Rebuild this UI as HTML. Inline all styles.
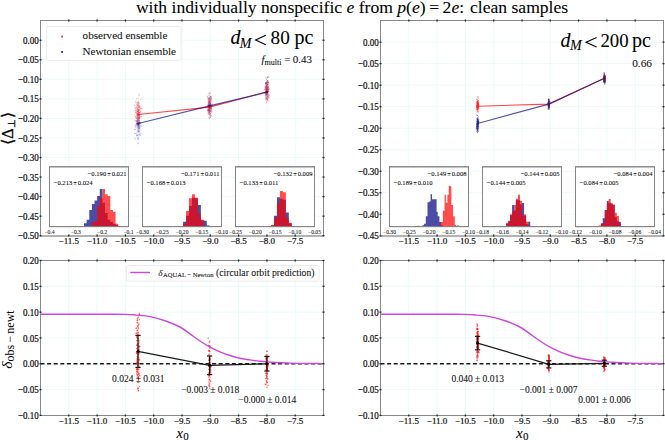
<!DOCTYPE html>
<html><head><meta charset="utf-8"><title>plot</title>
<style>html,body{margin:0;padding:0;background:#fff;overflow:hidden}svg{display:block} text{stroke:#111;stroke-width:0.08px} .tl text{stroke-width:0.22px} .nostroke, .nostroke text{stroke-width:0}</style>
</head><body>
<svg width="665" height="440" viewBox="0 0 665 440"><rect x="0" y="0" width="665" height="440" fill="#fff"/>
<text x="135.9" y="13.1" font-family="'Liberation Serif', serif" font-size="17.6" fill="#000">with individually nonspecific <tspan font-style="italic">e</tspan> from <tspan font-style="italic">p</tspan>(<tspan font-style="italic">e</tspan>)<tspan dx="3.5">=</tspan><tspan dx="3.5">2</tspan><tspan font-style="italic">e</tspan>:<tspan dx="1.5"> clean samples</tspan></text>
<g stroke="#ecfafa" stroke-width="1"><line x1="68.80" y1="20.5" x2="68.80" y2="235.5"/><line x1="97.10" y1="20.5" x2="97.10" y2="235.5"/><line x1="125.40" y1="20.5" x2="125.40" y2="235.5"/><line x1="153.70" y1="20.5" x2="153.70" y2="235.5"/><line x1="182.00" y1="20.5" x2="182.00" y2="235.5"/><line x1="210.30" y1="20.5" x2="210.30" y2="235.5"/><line x1="238.60" y1="20.5" x2="238.60" y2="235.5"/><line x1="266.90" y1="20.5" x2="266.90" y2="235.5"/><line x1="295.20" y1="20.5" x2="295.20" y2="235.5"/><line x1="40.5" y1="40.25" x2="323.5" y2="40.25"/><line x1="40.5" y1="59.79" x2="323.5" y2="59.79"/><line x1="40.5" y1="79.34" x2="323.5" y2="79.34"/><line x1="40.5" y1="98.88" x2="323.5" y2="98.88"/><line x1="40.5" y1="118.43" x2="323.5" y2="118.43"/><line x1="40.5" y1="137.97" x2="323.5" y2="137.97"/><line x1="40.5" y1="157.52" x2="323.5" y2="157.52"/><line x1="40.5" y1="177.06" x2="323.5" y2="177.06"/><line x1="40.5" y1="196.61" x2="323.5" y2="196.61"/><line x1="40.5" y1="216.15" x2="323.5" y2="216.15"/><line x1="40.5" y1="235.70" x2="323.5" y2="235.70"/></g>
<g stroke="#ecfafa" stroke-width="1"><line x1="408.80" y1="20.5" x2="408.80" y2="235.5"/><line x1="437.10" y1="20.5" x2="437.10" y2="235.5"/><line x1="465.40" y1="20.5" x2="465.40" y2="235.5"/><line x1="493.70" y1="20.5" x2="493.70" y2="235.5"/><line x1="522.00" y1="20.5" x2="522.00" y2="235.5"/><line x1="550.30" y1="20.5" x2="550.30" y2="235.5"/><line x1="578.60" y1="20.5" x2="578.60" y2="235.5"/><line x1="606.90" y1="20.5" x2="606.90" y2="235.5"/><line x1="635.20" y1="20.5" x2="635.20" y2="235.5"/><line x1="380.5" y1="42.12" x2="663.5" y2="42.12"/><line x1="380.5" y1="63.64" x2="663.5" y2="63.64"/><line x1="380.5" y1="85.16" x2="663.5" y2="85.16"/><line x1="380.5" y1="106.68" x2="663.5" y2="106.68"/><line x1="380.5" y1="128.20" x2="663.5" y2="128.20"/><line x1="380.5" y1="149.72" x2="663.5" y2="149.72"/><line x1="380.5" y1="171.24" x2="663.5" y2="171.24"/><line x1="380.5" y1="192.76" x2="663.5" y2="192.76"/><line x1="380.5" y1="214.28" x2="663.5" y2="214.28"/><line x1="380.5" y1="235.80" x2="663.5" y2="235.80"/></g>
<g stroke="#ecfafa" stroke-width="1"><line x1="68.80" y1="260.5" x2="68.80" y2="415.5"/><line x1="97.10" y1="260.5" x2="97.10" y2="415.5"/><line x1="125.40" y1="260.5" x2="125.40" y2="415.5"/><line x1="153.70" y1="260.5" x2="153.70" y2="415.5"/><line x1="182.00" y1="260.5" x2="182.00" y2="415.5"/><line x1="210.30" y1="260.5" x2="210.30" y2="415.5"/><line x1="238.60" y1="260.5" x2="238.60" y2="415.5"/><line x1="266.90" y1="260.5" x2="266.90" y2="415.5"/><line x1="295.20" y1="260.5" x2="295.20" y2="415.5"/><line x1="40.5" y1="260.50" x2="323.5" y2="260.50"/><line x1="40.5" y1="286.32" x2="323.5" y2="286.32"/><line x1="40.5" y1="312.13" x2="323.5" y2="312.13"/><line x1="40.5" y1="337.95" x2="323.5" y2="337.95"/><line x1="40.5" y1="363.77" x2="323.5" y2="363.77"/><line x1="40.5" y1="389.58" x2="323.5" y2="389.58"/><line x1="40.5" y1="415.40" x2="323.5" y2="415.40"/></g>
<g stroke="#ecfafa" stroke-width="1"><line x1="408.80" y1="260.5" x2="408.80" y2="415.5"/><line x1="437.10" y1="260.5" x2="437.10" y2="415.5"/><line x1="465.40" y1="260.5" x2="465.40" y2="415.5"/><line x1="493.70" y1="260.5" x2="493.70" y2="415.5"/><line x1="522.00" y1="260.5" x2="522.00" y2="415.5"/><line x1="550.30" y1="260.5" x2="550.30" y2="415.5"/><line x1="578.60" y1="260.5" x2="578.60" y2="415.5"/><line x1="606.90" y1="260.5" x2="606.90" y2="415.5"/><line x1="635.20" y1="260.5" x2="635.20" y2="415.5"/><line x1="380.5" y1="260.50" x2="663.5" y2="260.50"/><line x1="380.5" y1="286.32" x2="663.5" y2="286.32"/><line x1="380.5" y1="312.13" x2="663.5" y2="312.13"/><line x1="380.5" y1="337.95" x2="663.5" y2="337.95"/><line x1="380.5" y1="363.77" x2="663.5" y2="363.77"/><line x1="380.5" y1="389.58" x2="663.5" y2="389.58"/><line x1="380.5" y1="415.40" x2="663.5" y2="415.40"/></g>
<rect x="46.5" y="26.5" width="134.5" height="33.8" fill="#fff" fill-opacity="0.9" stroke="#ececec" stroke-width="1" rx="1.5"/>
<rect x="61.2" y="35.6" width="1.8" height="1.8" fill="#ff2020"/>
<rect x="61.2" y="51.0" width="1.8" height="1.8" fill="#2020a0"/>
<g font-family="'Liberation Serif', serif" font-size="11.1" fill="#111"><text x="82.6" y="39.4">observed ensemble</text><text x="82.6" y="54.9">Newtonian ensemble</text></g>
<text x="230.40" y="44.40" font-family="'Liberation Serif', serif" font-size="20" font-style="italic" fill="#000">d</text>
<text x="239.80" y="47.60" font-family="'Liberation Serif', serif" font-size="14" font-style="italic" fill="#000">M</text>
<path d="M265.80,35.20 L255.60,40.00 L265.80,44.80" fill="none" stroke="#000" stroke-width="1.1" stroke-linejoin="miter"/>
<text x="270.60" y="44.40" font-family="'Liberation Serif', serif" font-size="19.2" fill="#000">80</text>
<text x="294.60" y="44.40" font-family="'Liberation Serif', serif" font-size="20" fill="#000">pc</text>
<text x="312" y="63.2" text-anchor="end" font-family="'Liberation Serif', serif" font-size="11" fill="#111"><tspan font-style="italic">f</tspan><tspan font-size="8.1" dy="2.2">multi</tspan><tspan dy="-2.2" dx="2.6">=</tspan><tspan dx="2.4">0.43</tspan></text>
<text x="560.60" y="46.60" font-family="'Liberation Serif', serif" font-size="20" font-style="italic" fill="#000">d</text>
<text x="570.00" y="49.80" font-family="'Liberation Serif', serif" font-size="14" font-style="italic" fill="#000">M</text>
<path d="M596.60,37.40 L586.00,42.20 L596.60,47.00" fill="none" stroke="#000" stroke-width="1.1" stroke-linejoin="miter"/>
<text x="600.40" y="46.60" font-family="'Liberation Serif', serif" font-size="18.8" fill="#000">200</text>
<text x="632.00" y="46.60" font-family="'Liberation Serif', serif" font-size="20" fill="#000">pc</text>
<text x="652" y="66.5" text-anchor="end" font-family="'Liberation Serif', serif" font-size="11.3" fill="#111">0.66</text>
<g fill="#2a2a9a" fill-opacity="0.3"><rect x="138.5" y="119.7" width="1.0" height="1.0"/><rect x="137.2" y="120.0" width="1.0" height="1.0"/><rect x="137.4" y="113.9" width="1.0" height="1.0"/><rect x="138.3" y="131.4" width="1.0" height="1.0"/><rect x="138.1" y="130.8" width="1.0" height="1.0"/><rect x="138.0" y="125.3" width="1.0" height="1.0"/><rect x="139.0" y="107.6" width="1.0" height="1.0"/><rect x="138.4" y="126.2" width="1.0" height="1.0"/><rect x="135.1" y="107.4" width="1.0" height="1.0"/><rect x="137.0" y="114.3" width="1.0" height="1.0"/><rect x="137.6" y="124.5" width="1.0" height="1.0"/><rect x="136.7" y="126.4" width="1.0" height="1.0"/><rect x="138.3" y="124.5" width="1.0" height="1.0"/><rect x="140.3" y="116.2" width="1.0" height="1.0"/><rect x="139.5" y="126.7" width="1.0" height="1.0"/><rect x="136.6" y="116.6" width="1.0" height="1.0"/><rect x="137.5" y="119.0" width="1.0" height="1.0"/><rect x="138.1" y="127.3" width="1.0" height="1.0"/><rect x="136.3" y="118.1" width="1.0" height="1.0"/><rect x="139.5" y="117.4" width="1.0" height="1.0"/><rect x="138.1" y="115.0" width="1.0" height="1.0"/><rect x="135.5" y="125.6" width="1.0" height="1.0"/><rect x="139.7" y="122.3" width="1.0" height="1.0"/><rect x="137.2" y="104.7" width="1.0" height="1.0"/><rect x="136.5" y="121.0" width="1.0" height="1.0"/><rect x="137.6" y="126.2" width="1.0" height="1.0"/><rect x="138.9" y="109.4" width="1.0" height="1.0"/><rect x="139.1" y="127.6" width="1.0" height="1.0"/><rect x="138.2" y="134.2" width="1.0" height="1.0"/><rect x="135.8" y="122.9" width="1.0" height="1.0"/><rect x="136.8" y="127.2" width="1.0" height="1.0"/><rect x="135.8" y="118.0" width="1.0" height="1.0"/><rect x="136.9" y="113.6" width="1.0" height="1.0"/><rect x="134.7" y="132.9" width="1.0" height="1.0"/><rect x="138.1" y="109.4" width="1.0" height="1.0"/><rect x="138.6" y="134.3" width="1.0" height="1.0"/><rect x="133.9" y="105.6" width="1.0" height="1.0"/><rect x="136.6" y="125.0" width="1.0" height="1.0"/><rect x="139.2" y="112.3" width="1.0" height="1.0"/><rect x="137.9" y="131.3" width="1.0" height="1.0"/><rect x="138.4" y="124.0" width="1.0" height="1.0"/><rect x="138.6" y="135.5" width="1.0" height="1.0"/><rect x="138.5" y="126.3" width="1.0" height="1.0"/><rect x="139.6" y="108.5" width="1.0" height="1.0"/><rect x="138.5" y="130.1" width="1.0" height="1.0"/><rect x="136.7" y="105.0" width="1.0" height="1.0"/><rect x="135.0" y="129.1" width="1.0" height="1.0"/><rect x="139.2" y="120.3" width="1.0" height="1.0"/><rect x="140.1" y="110.7" width="1.0" height="1.0"/><rect x="137.5" y="126.6" width="1.0" height="1.0"/><rect x="138.7" y="124.7" width="1.0" height="1.0"/><rect x="139.4" y="122.9" width="1.0" height="1.0"/><rect x="137.1" y="116.2" width="1.0" height="1.0"/><rect x="137.7" y="130.8" width="1.0" height="1.0"/><rect x="139.1" y="114.4" width="1.0" height="1.0"/><rect x="137.0" y="134.4" width="1.0" height="1.0"/><rect x="137.5" y="110.1" width="1.0" height="1.0"/><rect x="137.3" y="120.6" width="1.0" height="1.0"/><rect x="136.2" y="133.9" width="1.0" height="1.0"/><rect x="135.8" y="132.7" width="1.0" height="1.0"/><rect x="138.6" y="115.2" width="1.0" height="1.0"/><rect x="139.0" y="131.6" width="1.0" height="1.0"/><rect x="137.9" y="124.9" width="1.0" height="1.0"/><rect x="138.6" y="123.2" width="1.0" height="1.0"/><rect x="138.1" y="120.4" width="1.0" height="1.0"/><rect x="137.7" y="126.8" width="1.0" height="1.0"/><rect x="138.5" y="128.4" width="1.0" height="1.0"/><rect x="138.2" y="139.1" width="1.0" height="1.0"/><rect x="137.1" y="118.2" width="1.0" height="1.0"/><rect x="139.1" y="121.8" width="1.0" height="1.0"/><rect x="138.3" y="119.0" width="1.0" height="1.0"/><rect x="133.9" y="137.6" width="1.0" height="1.0"/><rect x="138.1" y="112.3" width="1.0" height="1.0"/><rect x="138.1" y="125.3" width="1.0" height="1.0"/><rect x="138.7" y="118.2" width="1.0" height="1.0"/><rect x="136.9" y="124.3" width="1.0" height="1.0"/><rect x="138.2" y="142.7" width="1.0" height="1.0"/><rect x="137.6" y="117.2" width="1.0" height="1.0"/><rect x="137.6" y="120.0" width="1.0" height="1.0"/><rect x="137.0" y="137.5" width="1.0" height="1.0"/><rect x="136.6" y="119.7" width="1.0" height="1.0"/><rect x="138.4" y="118.4" width="1.0" height="1.0"/><rect x="135.9" y="123.4" width="1.0" height="1.0"/><rect x="136.4" y="123.3" width="1.0" height="1.0"/><rect x="140.4" y="124.5" width="1.0" height="1.0"/><rect x="137.4" y="138.6" width="1.0" height="1.0"/><rect x="135.1" y="127.4" width="1.0" height="1.0"/><rect x="136.6" y="121.5" width="1.0" height="1.0"/><rect x="137.5" y="113.9" width="1.0" height="1.0"/><rect x="137.8" y="123.9" width="1.0" height="1.0"/><rect x="138.8" y="120.7" width="1.0" height="1.0"/><rect x="134.2" y="114.3" width="1.0" height="1.0"/><rect x="138.8" y="102.9" width="1.0" height="1.0"/><rect x="137.4" y="143.2" width="1.0" height="1.0"/><rect x="138.5" y="117.9" width="1.0" height="1.0"/><rect x="138.7" y="122.7" width="1.0" height="1.0"/><rect x="139.7" y="125.3" width="1.0" height="1.0"/><rect x="136.0" y="135.2" width="1.0" height="1.0"/><rect x="138.0" y="109.5" width="1.0" height="1.0"/><rect x="137.1" y="123.0" width="1.0" height="1.0"/><rect x="134.9" y="111.9" width="1.0" height="1.0"/><rect x="135.3" y="124.8" width="1.0" height="1.0"/><rect x="137.8" y="116.6" width="1.0" height="1.0"/><rect x="136.4" y="123.8" width="1.0" height="1.0"/><rect x="133.9" y="129.1" width="1.0" height="1.0"/><rect x="138.6" y="115.0" width="1.0" height="1.0"/><rect x="136.9" y="134.9" width="1.0" height="1.0"/><rect x="138.4" y="124.0" width="1.0" height="1.0"/><rect x="140.3" y="132.7" width="1.0" height="1.0"/><rect x="136.9" y="123.6" width="1.0" height="1.0"/><rect x="134.0" y="133.0" width="1.0" height="1.0"/><rect x="136.5" y="117.5" width="1.0" height="1.0"/><rect x="137.5" y="117.6" width="1.0" height="1.0"/><rect x="138.1" y="128.3" width="1.0" height="1.0"/><rect x="137.1" y="102.2" width="1.0" height="1.0"/><rect x="138.9" y="106.0" width="1.0" height="1.0"/><rect x="136.8" y="124.6" width="1.0" height="1.0"/><rect x="138.9" y="121.8" width="1.0" height="1.0"/><rect x="139.7" y="122.6" width="1.0" height="1.0"/><rect x="139.3" y="121.4" width="1.0" height="1.0"/><rect x="140.1" y="134.7" width="1.0" height="1.0"/><rect x="139.0" y="116.1" width="1.0" height="1.0"/><rect x="136.1" y="105.8" width="1.0" height="1.0"/><rect x="139.3" y="105.1" width="1.0" height="1.0"/><rect x="137.7" y="111.4" width="1.0" height="1.0"/><rect x="137.7" y="120.3" width="1.0" height="1.0"/><rect x="138.1" y="116.8" width="1.0" height="1.0"/><rect x="137.8" y="137.2" width="1.0" height="1.0"/><rect x="139.2" y="126.4" width="1.0" height="1.0"/><rect x="135.8" y="120.2" width="1.0" height="1.0"/><rect x="139.3" y="117.1" width="1.0" height="1.0"/><rect x="136.8" y="107.8" width="1.0" height="1.0"/><rect x="138.9" y="130.5" width="1.0" height="1.0"/><rect x="138.9" y="122.0" width="1.0" height="1.0"/><rect x="135.9" y="123.3" width="1.0" height="1.0"/><rect x="136.7" y="108.5" width="1.0" height="1.0"/><rect x="136.9" y="129.8" width="1.0" height="1.0"/><rect x="136.5" y="114.2" width="1.0" height="1.0"/><rect x="137.5" y="108.8" width="1.0" height="1.0"/><rect x="138.2" y="111.8" width="1.0" height="1.0"/><rect x="138.2" y="101.7" width="1.0" height="1.0"/><rect x="134.8" y="116.4" width="1.0" height="1.0"/><rect x="137.3" y="128.1" width="1.0" height="1.0"/><rect x="136.4" y="102.8" width="1.0" height="1.0"/><rect x="137.0" y="124.4" width="1.0" height="1.0"/><rect x="138.8" y="128.6" width="1.0" height="1.0"/><rect x="138.2" y="127.6" width="1.0" height="1.0"/><rect x="138.7" y="133.3" width="1.0" height="1.0"/><rect x="134.6" y="125.8" width="1.0" height="1.0"/><rect x="139.7" y="129.6" width="1.0" height="1.0"/><rect x="137.0" y="119.4" width="1.0" height="1.0"/><rect x="135.1" y="138.5" width="1.0" height="1.0"/><rect x="141.3" y="125.9" width="1.0" height="1.0"/><rect x="138.7" y="114.0" width="1.0" height="1.0"/><rect x="137.5" y="138.0" width="1.0" height="1.0"/><rect x="139.1" y="126.7" width="1.0" height="1.0"/><rect x="137.6" y="114.1" width="1.0" height="1.0"/><rect x="138.9" y="124.4" width="1.0" height="1.0"/><rect x="137.4" y="121.6" width="1.0" height="1.0"/><rect x="137.2" y="113.2" width="1.0" height="1.0"/><rect x="137.9" y="129.5" width="1.0" height="1.0"/><rect x="136.4" y="114.6" width="1.0" height="1.0"/><rect x="139.4" y="134.2" width="1.0" height="1.0"/><rect x="137.6" y="125.9" width="1.0" height="1.0"/><rect x="138.1" y="121.7" width="1.0" height="1.0"/><rect x="136.5" y="123.1" width="1.0" height="1.0"/><rect x="138.8" y="128.1" width="1.0" height="1.0"/><rect x="136.2" y="135.3" width="1.0" height="1.0"/><rect x="138.6" y="121.6" width="1.0" height="1.0"/><rect x="136.8" y="131.6" width="1.0" height="1.0"/></g>
<g fill="#ff3030" fill-opacity="0.3"><rect x="137.1" y="110.9" width="1.0" height="1.0"/><rect x="138.5" y="122.5" width="1.0" height="1.0"/><rect x="138.0" y="109.3" width="1.0" height="1.0"/><rect x="136.9" y="121.6" width="1.0" height="1.0"/><rect x="137.1" y="112.8" width="1.0" height="1.0"/><rect x="137.3" y="113.6" width="1.0" height="1.0"/><rect x="136.4" y="117.2" width="1.0" height="1.0"/><rect x="139.3" y="106.8" width="1.0" height="1.0"/><rect x="137.2" y="117.1" width="1.0" height="1.0"/><rect x="139.0" y="118.1" width="1.0" height="1.0"/><rect x="138.4" y="112.1" width="1.0" height="1.0"/><rect x="138.1" y="113.1" width="1.0" height="1.0"/><rect x="138.9" y="113.8" width="1.0" height="1.0"/><rect x="140.1" y="107.6" width="1.0" height="1.0"/><rect x="139.4" y="109.7" width="1.0" height="1.0"/><rect x="138.9" y="114.9" width="1.0" height="1.0"/><rect x="137.8" y="117.5" width="1.0" height="1.0"/><rect x="137.9" y="123.9" width="1.0" height="1.0"/><rect x="137.4" y="107.3" width="1.0" height="1.0"/><rect x="138.3" y="94.6" width="1.0" height="1.0"/><rect x="139.4" y="122.7" width="1.0" height="1.0"/><rect x="138.4" y="103.9" width="1.0" height="1.0"/><rect x="136.4" y="115.6" width="1.0" height="1.0"/><rect x="137.6" y="100.5" width="1.0" height="1.0"/><rect x="137.5" y="118.6" width="1.0" height="1.0"/><rect x="135.7" y="117.6" width="1.0" height="1.0"/><rect x="136.5" y="106.9" width="1.0" height="1.0"/><rect x="138.1" y="110.4" width="1.0" height="1.0"/><rect x="138.1" y="113.8" width="1.0" height="1.0"/><rect x="136.5" y="111.5" width="1.0" height="1.0"/><rect x="138.2" y="113.5" width="1.0" height="1.0"/><rect x="135.2" y="120.0" width="1.0" height="1.0"/><rect x="136.6" y="108.9" width="1.0" height="1.0"/><rect x="138.9" y="112.2" width="1.0" height="1.0"/><rect x="137.9" y="107.6" width="1.0" height="1.0"/><rect x="138.1" y="106.4" width="1.0" height="1.0"/><rect x="136.7" y="113.6" width="1.0" height="1.0"/><rect x="141.6" y="112.5" width="1.0" height="1.0"/><rect x="139.0" y="109.3" width="1.0" height="1.0"/><rect x="137.7" y="119.2" width="1.0" height="1.0"/><rect x="138.0" y="103.1" width="1.0" height="1.0"/><rect x="139.4" y="114.5" width="1.0" height="1.0"/><rect x="137.7" y="117.7" width="1.0" height="1.0"/><rect x="138.5" y="118.2" width="1.0" height="1.0"/><rect x="137.8" y="113.4" width="1.0" height="1.0"/><rect x="138.7" y="110.0" width="1.0" height="1.0"/><rect x="136.8" y="104.0" width="1.0" height="1.0"/><rect x="135.5" y="111.9" width="1.0" height="1.0"/><rect x="134.7" y="108.6" width="1.0" height="1.0"/><rect x="138.6" y="106.8" width="1.0" height="1.0"/><rect x="137.6" y="116.1" width="1.0" height="1.0"/><rect x="135.6" y="110.1" width="1.0" height="1.0"/><rect x="138.5" y="125.5" width="1.0" height="1.0"/><rect x="136.4" y="120.0" width="1.0" height="1.0"/><rect x="135.0" y="110.5" width="1.0" height="1.0"/><rect x="139.1" y="117.7" width="1.0" height="1.0"/><rect x="137.6" y="97.7" width="1.0" height="1.0"/><rect x="135.1" y="116.6" width="1.0" height="1.0"/><rect x="136.1" y="98.2" width="1.0" height="1.0"/><rect x="135.6" y="107.2" width="1.0" height="1.0"/><rect x="138.1" y="112.1" width="1.0" height="1.0"/><rect x="138.8" y="116.6" width="1.0" height="1.0"/><rect x="139.4" y="123.1" width="1.0" height="1.0"/><rect x="136.9" y="102.1" width="1.0" height="1.0"/><rect x="136.1" y="103.9" width="1.0" height="1.0"/><rect x="137.7" y="111.2" width="1.0" height="1.0"/><rect x="135.3" y="115.5" width="1.0" height="1.0"/><rect x="137.7" y="102.6" width="1.0" height="1.0"/><rect x="137.2" y="110.4" width="1.0" height="1.0"/><rect x="136.6" y="111.4" width="1.0" height="1.0"/><rect x="138.2" y="117.1" width="1.0" height="1.0"/><rect x="136.7" y="111.2" width="1.0" height="1.0"/><rect x="133.6" y="110.6" width="1.0" height="1.0"/><rect x="137.8" y="104.5" width="1.0" height="1.0"/><rect x="138.0" y="100.6" width="1.0" height="1.0"/><rect x="135.6" y="112.9" width="1.0" height="1.0"/><rect x="137.2" y="110.0" width="1.0" height="1.0"/><rect x="138.6" y="115.3" width="1.0" height="1.0"/><rect x="136.4" y="111.6" width="1.0" height="1.0"/><rect x="137.6" y="110.8" width="1.0" height="1.0"/><rect x="138.1" y="117.3" width="1.0" height="1.0"/><rect x="135.7" y="106.5" width="1.0" height="1.0"/><rect x="136.6" y="109.1" width="1.0" height="1.0"/><rect x="137.5" y="103.6" width="1.0" height="1.0"/><rect x="137.9" y="108.2" width="1.0" height="1.0"/><rect x="137.1" y="115.8" width="1.0" height="1.0"/><rect x="137.2" y="129.2" width="1.0" height="1.0"/><rect x="137.9" y="120.1" width="1.0" height="1.0"/><rect x="134.1" y="120.2" width="1.0" height="1.0"/><rect x="138.1" y="106.2" width="1.0" height="1.0"/><rect x="141.2" y="116.3" width="1.0" height="1.0"/><rect x="139.6" y="114.3" width="1.0" height="1.0"/><rect x="139.1" y="117.6" width="1.0" height="1.0"/><rect x="137.5" y="115.7" width="1.0" height="1.0"/><rect x="136.1" y="115.6" width="1.0" height="1.0"/><rect x="136.2" y="120.7" width="1.0" height="1.0"/><rect x="140.9" y="113.7" width="1.0" height="1.0"/><rect x="137.7" y="110.2" width="1.0" height="1.0"/><rect x="137.7" y="120.5" width="1.0" height="1.0"/><rect x="138.1" y="105.8" width="1.0" height="1.0"/><rect x="138.8" y="116.2" width="1.0" height="1.0"/><rect x="140.3" y="106.1" width="1.0" height="1.0"/><rect x="137.7" y="124.3" width="1.0" height="1.0"/><rect x="137.1" y="113.9" width="1.0" height="1.0"/><rect x="136.6" y="122.4" width="1.0" height="1.0"/><rect x="137.0" y="116.9" width="1.0" height="1.0"/><rect x="138.8" y="106.7" width="1.0" height="1.0"/><rect x="137.7" y="121.8" width="1.0" height="1.0"/><rect x="138.9" y="106.8" width="1.0" height="1.0"/><rect x="138.2" y="111.5" width="1.0" height="1.0"/><rect x="139.4" y="123.2" width="1.0" height="1.0"/><rect x="141.1" y="108.0" width="1.0" height="1.0"/><rect x="138.9" y="111.9" width="1.0" height="1.0"/><rect x="137.6" y="107.0" width="1.0" height="1.0"/><rect x="140.4" y="98.8" width="1.0" height="1.0"/><rect x="135.9" y="122.0" width="1.0" height="1.0"/><rect x="135.3" y="100.6" width="1.0" height="1.0"/><rect x="137.0" y="120.6" width="1.0" height="1.0"/><rect x="137.2" y="111.4" width="1.0" height="1.0"/><rect x="136.1" y="110.9" width="1.0" height="1.0"/><rect x="135.5" y="112.0" width="1.0" height="1.0"/><rect x="138.2" y="111.3" width="1.0" height="1.0"/><rect x="137.4" y="115.3" width="1.0" height="1.0"/><rect x="137.9" y="105.1" width="1.0" height="1.0"/><rect x="140.0" y="108.2" width="1.0" height="1.0"/><rect x="137.5" y="117.6" width="1.0" height="1.0"/><rect x="136.6" y="108.3" width="1.0" height="1.0"/><rect x="137.2" y="104.9" width="1.0" height="1.0"/><rect x="138.5" y="114.0" width="1.0" height="1.0"/><rect x="140.8" y="116.1" width="1.0" height="1.0"/><rect x="137.7" y="106.6" width="1.0" height="1.0"/><rect x="134.9" y="110.0" width="1.0" height="1.0"/><rect x="138.5" y="115.0" width="1.0" height="1.0"/><rect x="138.4" y="117.6" width="1.0" height="1.0"/><rect x="138.3" y="116.5" width="1.0" height="1.0"/><rect x="139.6" y="111.3" width="1.0" height="1.0"/><rect x="136.1" y="121.3" width="1.0" height="1.0"/><rect x="138.5" y="105.3" width="1.0" height="1.0"/><rect x="137.5" y="104.7" width="1.0" height="1.0"/><rect x="138.2" y="110.4" width="1.0" height="1.0"/><rect x="141.6" y="108.5" width="1.0" height="1.0"/><rect x="139.0" y="118.1" width="1.0" height="1.0"/><rect x="135.5" y="101.6" width="1.0" height="1.0"/><rect x="138.9" y="113.1" width="1.0" height="1.0"/><rect x="139.2" y="111.9" width="1.0" height="1.0"/><rect x="138.9" y="94.4" width="1.0" height="1.0"/><rect x="135.2" y="120.7" width="1.0" height="1.0"/><rect x="137.8" y="113.7" width="1.0" height="1.0"/><rect x="134.6" y="107.9" width="1.0" height="1.0"/><rect x="138.0" y="102.1" width="1.0" height="1.0"/><rect x="137.7" y="119.3" width="1.0" height="1.0"/><rect x="136.5" y="124.3" width="1.0" height="1.0"/><rect x="134.5" y="124.1" width="1.0" height="1.0"/><rect x="138.4" y="111.9" width="1.0" height="1.0"/><rect x="139.2" y="117.0" width="1.0" height="1.0"/><rect x="134.4" y="104.5" width="1.0" height="1.0"/><rect x="135.6" y="109.9" width="1.0" height="1.0"/><rect x="136.0" y="112.6" width="1.0" height="1.0"/><rect x="137.6" y="109.8" width="1.0" height="1.0"/><rect x="136.6" y="112.9" width="1.0" height="1.0"/><rect x="136.7" y="121.3" width="1.0" height="1.0"/><rect x="138.4" y="110.6" width="1.0" height="1.0"/><rect x="139.8" y="111.7" width="1.0" height="1.0"/><rect x="137.0" y="110.7" width="1.0" height="1.0"/><rect x="138.5" y="120.1" width="1.0" height="1.0"/><rect x="137.0" y="105.4" width="1.0" height="1.0"/><rect x="139.7" y="113.5" width="1.0" height="1.0"/><rect x="137.8" y="118.2" width="1.0" height="1.0"/><rect x="138.6" y="93.6" width="1.0" height="1.0"/><rect x="135.2" y="102.3" width="1.0" height="1.0"/></g>
<g fill="#2a2a9a" fill-opacity="0.3"><rect x="209.1" y="101.5" width="1.0" height="1.0"/><rect x="211.5" y="105.7" width="1.0" height="1.0"/><rect x="208.2" y="104.1" width="1.0" height="1.0"/><rect x="209.2" y="111.8" width="1.0" height="1.0"/><rect x="208.1" y="102.8" width="1.0" height="1.0"/><rect x="210.5" y="105.1" width="1.0" height="1.0"/><rect x="208.7" y="108.9" width="1.0" height="1.0"/><rect x="209.2" y="110.3" width="1.0" height="1.0"/><rect x="209.7" y="98.2" width="1.0" height="1.0"/><rect x="210.7" y="108.6" width="1.0" height="1.0"/><rect x="207.8" y="105.0" width="1.0" height="1.0"/><rect x="211.5" y="109.5" width="1.0" height="1.0"/><rect x="210.7" y="101.6" width="1.0" height="1.0"/><rect x="209.7" y="105.9" width="1.0" height="1.0"/><rect x="208.2" y="105.8" width="1.0" height="1.0"/><rect x="208.7" y="111.6" width="1.0" height="1.0"/><rect x="209.7" y="106.9" width="1.0" height="1.0"/><rect x="209.7" y="98.4" width="1.0" height="1.0"/><rect x="208.8" y="108.4" width="1.0" height="1.0"/><rect x="209.4" y="102.5" width="1.0" height="1.0"/><rect x="208.9" y="108.4" width="1.0" height="1.0"/><rect x="209.1" y="107.3" width="1.0" height="1.0"/><rect x="210.3" y="96.3" width="1.0" height="1.0"/><rect x="207.9" y="112.1" width="1.0" height="1.0"/><rect x="209.0" y="118.1" width="1.0" height="1.0"/><rect x="209.6" y="103.8" width="1.0" height="1.0"/><rect x="208.4" y="113.8" width="1.0" height="1.0"/><rect x="209.3" y="113.4" width="1.0" height="1.0"/><rect x="209.7" y="101.6" width="1.0" height="1.0"/><rect x="209.5" y="103.8" width="1.0" height="1.0"/><rect x="209.0" y="109.9" width="1.0" height="1.0"/><rect x="211.0" y="97.3" width="1.0" height="1.0"/><rect x="210.8" y="115.5" width="1.0" height="1.0"/><rect x="209.9" y="106.8" width="1.0" height="1.0"/><rect x="207.3" y="109.9" width="1.0" height="1.0"/><rect x="209.1" y="103.9" width="1.0" height="1.0"/><rect x="209.2" y="100.3" width="1.0" height="1.0"/><rect x="208.7" y="108.6" width="1.0" height="1.0"/><rect x="210.6" y="97.8" width="1.0" height="1.0"/><rect x="209.2" y="111.0" width="1.0" height="1.0"/><rect x="207.4" y="109.0" width="1.0" height="1.0"/><rect x="209.1" y="106.9" width="1.0" height="1.0"/><rect x="209.9" y="116.8" width="1.0" height="1.0"/><rect x="210.7" y="105.1" width="1.0" height="1.0"/><rect x="208.5" y="109.4" width="1.0" height="1.0"/><rect x="211.5" y="103.5" width="1.0" height="1.0"/><rect x="208.5" y="102.3" width="1.0" height="1.0"/><rect x="208.1" y="104.5" width="1.0" height="1.0"/><rect x="209.1" y="105.4" width="1.0" height="1.0"/><rect x="206.8" y="105.9" width="1.0" height="1.0"/><rect x="207.2" y="96.7" width="1.0" height="1.0"/><rect x="209.1" y="109.4" width="1.0" height="1.0"/><rect x="209.4" y="91.9" width="1.0" height="1.0"/><rect x="208.7" y="110.6" width="1.0" height="1.0"/><rect x="210.1" y="105.4" width="1.0" height="1.0"/><rect x="209.1" y="92.9" width="1.0" height="1.0"/><rect x="210.6" y="109.5" width="1.0" height="1.0"/><rect x="207.1" y="104.7" width="1.0" height="1.0"/><rect x="207.6" y="106.5" width="1.0" height="1.0"/><rect x="209.8" y="103.2" width="1.0" height="1.0"/><rect x="210.3" y="99.3" width="1.0" height="1.0"/><rect x="209.3" y="108.6" width="1.0" height="1.0"/><rect x="208.2" y="105.5" width="1.0" height="1.0"/><rect x="209.1" y="106.8" width="1.0" height="1.0"/><rect x="208.7" y="100.9" width="1.0" height="1.0"/><rect x="208.7" y="116.7" width="1.0" height="1.0"/><rect x="208.9" y="109.7" width="1.0" height="1.0"/><rect x="209.2" y="107.6" width="1.0" height="1.0"/><rect x="209.0" y="96.9" width="1.0" height="1.0"/><rect x="209.2" y="101.7" width="1.0" height="1.0"/><rect x="209.7" y="98.9" width="1.0" height="1.0"/><rect x="207.5" y="101.3" width="1.0" height="1.0"/><rect x="207.8" y="110.1" width="1.0" height="1.0"/><rect x="210.3" y="113.0" width="1.0" height="1.0"/><rect x="210.2" y="103.5" width="1.0" height="1.0"/><rect x="210.2" y="99.2" width="1.0" height="1.0"/><rect x="209.7" y="106.7" width="1.0" height="1.0"/><rect x="209.6" y="105.5" width="1.0" height="1.0"/><rect x="208.1" y="110.8" width="1.0" height="1.0"/><rect x="209.9" y="102.9" width="1.0" height="1.0"/><rect x="208.9" y="111.9" width="1.0" height="1.0"/><rect x="210.8" y="106.6" width="1.0" height="1.0"/><rect x="206.5" y="95.9" width="1.0" height="1.0"/><rect x="209.7" y="110.4" width="1.0" height="1.0"/><rect x="207.3" y="109.9" width="1.0" height="1.0"/><rect x="208.9" y="106.8" width="1.0" height="1.0"/><rect x="209.5" y="104.7" width="1.0" height="1.0"/><rect x="211.5" y="110.9" width="1.0" height="1.0"/><rect x="207.8" y="94.5" width="1.0" height="1.0"/><rect x="210.4" y="97.8" width="1.0" height="1.0"/><rect x="209.2" y="101.4" width="1.0" height="1.0"/><rect x="206.6" y="107.7" width="1.0" height="1.0"/><rect x="209.8" y="111.2" width="1.0" height="1.0"/><rect x="208.5" y="102.7" width="1.0" height="1.0"/><rect x="209.4" y="103.4" width="1.0" height="1.0"/><rect x="209.7" y="106.6" width="1.0" height="1.0"/><rect x="208.2" y="99.0" width="1.0" height="1.0"/><rect x="209.1" y="105.7" width="1.0" height="1.0"/><rect x="210.3" y="101.6" width="1.0" height="1.0"/><rect x="209.8" y="107.3" width="1.0" height="1.0"/><rect x="210.7" y="108.3" width="1.0" height="1.0"/><rect x="208.9" y="103.6" width="1.0" height="1.0"/><rect x="209.6" y="109.9" width="1.0" height="1.0"/><rect x="208.6" y="98.0" width="1.0" height="1.0"/><rect x="209.3" y="108.2" width="1.0" height="1.0"/><rect x="208.0" y="103.6" width="1.0" height="1.0"/><rect x="209.8" y="104.5" width="1.0" height="1.0"/><rect x="208.7" y="110.0" width="1.0" height="1.0"/><rect x="208.6" y="100.8" width="1.0" height="1.0"/><rect x="210.0" y="96.0" width="1.0" height="1.0"/><rect x="209.0" y="110.6" width="1.0" height="1.0"/><rect x="210.5" y="108.3" width="1.0" height="1.0"/><rect x="209.1" y="105.6" width="1.0" height="1.0"/><rect x="208.4" y="110.1" width="1.0" height="1.0"/><rect x="208.1" y="107.8" width="1.0" height="1.0"/><rect x="208.3" y="109.9" width="1.0" height="1.0"/><rect x="209.1" y="105.9" width="1.0" height="1.0"/><rect x="208.5" y="98.0" width="1.0" height="1.0"/><rect x="208.8" y="107.4" width="1.0" height="1.0"/><rect x="208.3" y="101.7" width="1.0" height="1.0"/><rect x="209.0" y="102.4" width="1.0" height="1.0"/><rect x="210.2" y="104.1" width="1.0" height="1.0"/><rect x="208.8" y="107.8" width="1.0" height="1.0"/><rect x="209.1" y="95.6" width="1.0" height="1.0"/><rect x="208.9" y="109.0" width="1.0" height="1.0"/><rect x="210.7" y="114.6" width="1.0" height="1.0"/><rect x="208.8" y="111.6" width="1.0" height="1.0"/><rect x="209.8" y="117.2" width="1.0" height="1.0"/><rect x="210.4" y="96.4" width="1.0" height="1.0"/><rect x="207.7" y="98.0" width="1.0" height="1.0"/><rect x="210.5" y="110.6" width="1.0" height="1.0"/><rect x="210.0" y="106.4" width="1.0" height="1.0"/><rect x="207.5" y="111.3" width="1.0" height="1.0"/><rect x="209.6" y="107.0" width="1.0" height="1.0"/><rect x="209.7" y="100.1" width="1.0" height="1.0"/><rect x="209.3" y="103.4" width="1.0" height="1.0"/><rect x="210.6" y="105.6" width="1.0" height="1.0"/><rect x="208.8" y="106.7" width="1.0" height="1.0"/><rect x="208.4" y="97.0" width="1.0" height="1.0"/><rect x="209.5" y="115.6" width="1.0" height="1.0"/><rect x="209.9" y="110.9" width="1.0" height="1.0"/><rect x="208.6" y="98.2" width="1.0" height="1.0"/><rect x="210.0" y="103.5" width="1.0" height="1.0"/><rect x="208.5" y="100.5" width="1.0" height="1.0"/><rect x="208.1" y="102.2" width="1.0" height="1.0"/><rect x="209.1" y="104.4" width="1.0" height="1.0"/><rect x="208.2" y="100.8" width="1.0" height="1.0"/><rect x="210.7" y="106.3" width="1.0" height="1.0"/><rect x="207.9" y="106.6" width="1.0" height="1.0"/><rect x="210.0" y="108.1" width="1.0" height="1.0"/></g>
<g fill="#ff3030" fill-opacity="0.3"><rect x="209.3" y="107.7" width="1.0" height="1.0"/><rect x="209.2" y="103.3" width="1.0" height="1.0"/><rect x="209.4" y="99.4" width="1.0" height="1.0"/><rect x="209.4" y="113.0" width="1.0" height="1.0"/><rect x="209.8" y="113.2" width="1.0" height="1.0"/><rect x="207.8" y="106.6" width="1.0" height="1.0"/><rect x="209.4" y="111.5" width="1.0" height="1.0"/><rect x="210.7" y="95.8" width="1.0" height="1.0"/><rect x="210.5" y="112.5" width="1.0" height="1.0"/><rect x="209.0" y="114.3" width="1.0" height="1.0"/><rect x="208.4" y="106.9" width="1.0" height="1.0"/><rect x="208.9" y="111.8" width="1.0" height="1.0"/><rect x="208.4" y="117.2" width="1.0" height="1.0"/><rect x="210.5" y="110.3" width="1.0" height="1.0"/><rect x="208.8" y="107.3" width="1.0" height="1.0"/><rect x="210.4" y="100.0" width="1.0" height="1.0"/><rect x="210.8" y="111.8" width="1.0" height="1.0"/><rect x="210.8" y="103.9" width="1.0" height="1.0"/><rect x="209.9" y="109.4" width="1.0" height="1.0"/><rect x="208.7" y="108.7" width="1.0" height="1.0"/><rect x="210.2" y="104.9" width="1.0" height="1.0"/><rect x="209.2" y="104.8" width="1.0" height="1.0"/><rect x="209.5" y="106.8" width="1.0" height="1.0"/><rect x="208.4" y="113.0" width="1.0" height="1.0"/><rect x="208.6" y="108.1" width="1.0" height="1.0"/><rect x="208.5" y="106.0" width="1.0" height="1.0"/><rect x="208.7" y="97.8" width="1.0" height="1.0"/><rect x="210.6" y="98.4" width="1.0" height="1.0"/><rect x="208.6" y="98.7" width="1.0" height="1.0"/><rect x="208.7" y="107.3" width="1.0" height="1.0"/><rect x="208.9" y="113.1" width="1.0" height="1.0"/><rect x="210.1" y="97.8" width="1.0" height="1.0"/><rect x="212.0" y="103.9" width="1.0" height="1.0"/><rect x="208.6" y="100.9" width="1.0" height="1.0"/><rect x="207.9" y="106.0" width="1.0" height="1.0"/><rect x="210.5" y="109.5" width="1.0" height="1.0"/><rect x="209.6" y="115.1" width="1.0" height="1.0"/><rect x="210.4" y="105.3" width="1.0" height="1.0"/><rect x="208.9" y="112.7" width="1.0" height="1.0"/><rect x="208.3" y="103.0" width="1.0" height="1.0"/><rect x="209.0" y="106.9" width="1.0" height="1.0"/><rect x="210.1" y="109.9" width="1.0" height="1.0"/><rect x="209.5" y="99.5" width="1.0" height="1.0"/><rect x="208.7" y="107.8" width="1.0" height="1.0"/><rect x="210.4" y="106.6" width="1.0" height="1.0"/><rect x="209.0" y="105.8" width="1.0" height="1.0"/><rect x="209.4" y="103.9" width="1.0" height="1.0"/><rect x="209.6" y="103.0" width="1.0" height="1.0"/><rect x="208.3" y="99.1" width="1.0" height="1.0"/><rect x="210.3" y="107.6" width="1.0" height="1.0"/><rect x="209.1" y="102.5" width="1.0" height="1.0"/><rect x="208.7" y="109.2" width="1.0" height="1.0"/><rect x="209.4" y="106.9" width="1.0" height="1.0"/><rect x="207.5" y="98.3" width="1.0" height="1.0"/><rect x="208.0" y="106.6" width="1.0" height="1.0"/><rect x="209.2" y="105.4" width="1.0" height="1.0"/><rect x="208.0" y="101.1" width="1.0" height="1.0"/><rect x="210.2" y="100.8" width="1.0" height="1.0"/><rect x="209.8" y="93.4" width="1.0" height="1.0"/><rect x="208.2" y="105.0" width="1.0" height="1.0"/><rect x="208.8" y="106.8" width="1.0" height="1.0"/><rect x="208.8" y="100.0" width="1.0" height="1.0"/><rect x="209.3" y="105.6" width="1.0" height="1.0"/><rect x="208.8" y="105.6" width="1.0" height="1.0"/><rect x="208.3" y="93.1" width="1.0" height="1.0"/><rect x="209.5" y="107.7" width="1.0" height="1.0"/><rect x="208.3" y="100.4" width="1.0" height="1.0"/><rect x="207.6" y="99.1" width="1.0" height="1.0"/><rect x="209.8" y="107.6" width="1.0" height="1.0"/><rect x="209.3" y="104.9" width="1.0" height="1.0"/><rect x="207.9" y="112.8" width="1.0" height="1.0"/><rect x="208.9" y="105.3" width="1.0" height="1.0"/><rect x="207.6" y="110.5" width="1.0" height="1.0"/><rect x="209.4" y="96.7" width="1.0" height="1.0"/><rect x="209.2" y="101.7" width="1.0" height="1.0"/><rect x="209.4" y="108.6" width="1.0" height="1.0"/><rect x="209.2" y="110.2" width="1.0" height="1.0"/><rect x="207.5" y="105.4" width="1.0" height="1.0"/><rect x="207.7" y="110.3" width="1.0" height="1.0"/><rect x="210.3" y="104.8" width="1.0" height="1.0"/><rect x="209.7" y="96.6" width="1.0" height="1.0"/><rect x="208.9" y="101.2" width="1.0" height="1.0"/><rect x="207.0" y="96.6" width="1.0" height="1.0"/><rect x="211.0" y="107.8" width="1.0" height="1.0"/><rect x="209.1" y="109.7" width="1.0" height="1.0"/><rect x="210.6" y="106.2" width="1.0" height="1.0"/><rect x="208.4" y="114.0" width="1.0" height="1.0"/><rect x="210.8" y="100.2" width="1.0" height="1.0"/><rect x="209.7" y="103.5" width="1.0" height="1.0"/><rect x="208.2" y="111.9" width="1.0" height="1.0"/><rect x="207.6" y="102.6" width="1.0" height="1.0"/><rect x="208.9" y="111.5" width="1.0" height="1.0"/><rect x="207.7" y="110.0" width="1.0" height="1.0"/><rect x="208.2" y="109.1" width="1.0" height="1.0"/><rect x="207.7" y="104.3" width="1.0" height="1.0"/><rect x="209.6" y="104.1" width="1.0" height="1.0"/><rect x="208.7" y="103.9" width="1.0" height="1.0"/><rect x="208.7" y="108.0" width="1.0" height="1.0"/><rect x="209.1" y="108.0" width="1.0" height="1.0"/><rect x="208.6" y="110.0" width="1.0" height="1.0"/><rect x="209.2" y="106.3" width="1.0" height="1.0"/><rect x="209.4" y="113.6" width="1.0" height="1.0"/><rect x="207.8" y="99.8" width="1.0" height="1.0"/><rect x="208.6" y="105.3" width="1.0" height="1.0"/><rect x="208.5" y="101.1" width="1.0" height="1.0"/><rect x="207.3" y="109.6" width="1.0" height="1.0"/><rect x="208.8" y="107.0" width="1.0" height="1.0"/><rect x="207.4" y="113.6" width="1.0" height="1.0"/><rect x="208.8" y="107.9" width="1.0" height="1.0"/><rect x="209.5" y="106.2" width="1.0" height="1.0"/><rect x="209.4" y="115.8" width="1.0" height="1.0"/><rect x="207.7" y="108.4" width="1.0" height="1.0"/><rect x="207.7" y="109.0" width="1.0" height="1.0"/><rect x="209.4" y="104.9" width="1.0" height="1.0"/><rect x="210.0" y="113.0" width="1.0" height="1.0"/><rect x="209.8" y="106.8" width="1.0" height="1.0"/><rect x="209.1" y="104.5" width="1.0" height="1.0"/><rect x="209.8" y="105.3" width="1.0" height="1.0"/><rect x="208.1" y="104.3" width="1.0" height="1.0"/><rect x="211.3" y="99.4" width="1.0" height="1.0"/><rect x="209.0" y="94.8" width="1.0" height="1.0"/><rect x="208.8" y="104.4" width="1.0" height="1.0"/><rect x="209.6" y="100.5" width="1.0" height="1.0"/><rect x="208.1" y="106.2" width="1.0" height="1.0"/><rect x="207.8" y="103.5" width="1.0" height="1.0"/><rect x="210.9" y="107.7" width="1.0" height="1.0"/><rect x="210.0" y="114.0" width="1.0" height="1.0"/><rect x="209.0" y="105.6" width="1.0" height="1.0"/><rect x="210.6" y="108.2" width="1.0" height="1.0"/><rect x="209.0" y="106.0" width="1.0" height="1.0"/><rect x="209.1" y="99.1" width="1.0" height="1.0"/><rect x="208.4" y="106.5" width="1.0" height="1.0"/><rect x="209.0" y="100.4" width="1.0" height="1.0"/><rect x="208.3" y="107.5" width="1.0" height="1.0"/><rect x="208.7" y="109.6" width="1.0" height="1.0"/><rect x="210.5" y="107.3" width="1.0" height="1.0"/><rect x="209.0" y="102.8" width="1.0" height="1.0"/><rect x="208.7" y="104.0" width="1.0" height="1.0"/><rect x="207.5" y="107.4" width="1.0" height="1.0"/><rect x="207.6" y="107.2" width="1.0" height="1.0"/><rect x="209.8" y="102.0" width="1.0" height="1.0"/><rect x="210.3" y="96.4" width="1.0" height="1.0"/><rect x="210.1" y="115.2" width="1.0" height="1.0"/><rect x="209.1" y="109.1" width="1.0" height="1.0"/><rect x="211.1" y="104.5" width="1.0" height="1.0"/><rect x="209.0" y="100.1" width="1.0" height="1.0"/><rect x="208.5" y="108.4" width="1.0" height="1.0"/><rect x="209.3" y="98.9" width="1.0" height="1.0"/><rect x="207.3" y="105.7" width="1.0" height="1.0"/><rect x="208.3" y="102.4" width="1.0" height="1.0"/></g>
<g fill="#2a2a9a" fill-opacity="0.3"><rect x="267.0" y="87.8" width="1.0" height="1.0"/><rect x="265.3" y="94.2" width="1.0" height="1.0"/><rect x="265.9" y="89.2" width="1.0" height="1.0"/><rect x="267.1" y="80.0" width="1.0" height="1.0"/><rect x="266.3" y="86.7" width="1.0" height="1.0"/><rect x="267.0" y="77.5" width="1.0" height="1.0"/><rect x="267.2" y="89.7" width="1.0" height="1.0"/><rect x="268.0" y="86.5" width="1.0" height="1.0"/><rect x="266.0" y="91.3" width="1.0" height="1.0"/><rect x="267.1" y="91.9" width="1.0" height="1.0"/><rect x="267.6" y="86.1" width="1.0" height="1.0"/><rect x="267.3" y="92.2" width="1.0" height="1.0"/><rect x="269.0" y="95.4" width="1.0" height="1.0"/><rect x="266.0" y="89.0" width="1.0" height="1.0"/><rect x="266.4" y="92.0" width="1.0" height="1.0"/><rect x="268.4" y="76.8" width="1.0" height="1.0"/><rect x="264.9" y="92.1" width="1.0" height="1.0"/><rect x="266.8" y="85.8" width="1.0" height="1.0"/><rect x="266.1" y="87.6" width="1.0" height="1.0"/><rect x="267.5" y="91.0" width="1.0" height="1.0"/><rect x="266.7" y="95.2" width="1.0" height="1.0"/><rect x="265.0" y="91.7" width="1.0" height="1.0"/><rect x="266.5" y="81.1" width="1.0" height="1.0"/><rect x="266.6" y="86.2" width="1.0" height="1.0"/><rect x="265.9" y="84.6" width="1.0" height="1.0"/><rect x="264.3" y="88.7" width="1.0" height="1.0"/><rect x="267.1" y="82.4" width="1.0" height="1.0"/><rect x="265.5" y="89.4" width="1.0" height="1.0"/><rect x="268.1" y="90.7" width="1.0" height="1.0"/><rect x="265.3" y="96.8" width="1.0" height="1.0"/><rect x="264.6" y="85.9" width="1.0" height="1.0"/><rect x="265.2" y="85.8" width="1.0" height="1.0"/><rect x="266.7" y="84.5" width="1.0" height="1.0"/><rect x="266.2" y="87.6" width="1.0" height="1.0"/><rect x="267.3" y="80.4" width="1.0" height="1.0"/><rect x="265.1" y="87.5" width="1.0" height="1.0"/><rect x="267.5" y="89.4" width="1.0" height="1.0"/><rect x="266.9" y="81.5" width="1.0" height="1.0"/><rect x="267.3" y="82.0" width="1.0" height="1.0"/><rect x="266.2" y="92.8" width="1.0" height="1.0"/><rect x="265.1" y="83.6" width="1.0" height="1.0"/><rect x="267.2" y="84.2" width="1.0" height="1.0"/><rect x="266.5" y="91.0" width="1.0" height="1.0"/><rect x="266.3" y="86.0" width="1.0" height="1.0"/><rect x="264.2" y="92.2" width="1.0" height="1.0"/><rect x="266.4" y="86.7" width="1.0" height="1.0"/><rect x="265.9" y="82.9" width="1.0" height="1.0"/><rect x="265.3" y="88.0" width="1.0" height="1.0"/><rect x="265.1" y="82.3" width="1.0" height="1.0"/><rect x="266.4" y="83.4" width="1.0" height="1.0"/><rect x="266.3" y="93.2" width="1.0" height="1.0"/><rect x="265.6" y="87.0" width="1.0" height="1.0"/><rect x="266.0" y="89.6" width="1.0" height="1.0"/><rect x="266.4" y="94.9" width="1.0" height="1.0"/><rect x="266.8" y="93.8" width="1.0" height="1.0"/><rect x="266.6" y="88.6" width="1.0" height="1.0"/><rect x="267.0" y="84.0" width="1.0" height="1.0"/><rect x="265.6" y="87.6" width="1.0" height="1.0"/><rect x="267.2" y="89.0" width="1.0" height="1.0"/><rect x="264.1" y="88.7" width="1.0" height="1.0"/><rect x="266.4" y="85.3" width="1.0" height="1.0"/><rect x="265.6" y="91.3" width="1.0" height="1.0"/><rect x="267.0" y="90.1" width="1.0" height="1.0"/><rect x="264.7" y="91.2" width="1.0" height="1.0"/><rect x="265.7" y="85.0" width="1.0" height="1.0"/><rect x="266.2" y="85.5" width="1.0" height="1.0"/><rect x="266.3" y="94.7" width="1.0" height="1.0"/><rect x="265.1" y="82.4" width="1.0" height="1.0"/><rect x="265.5" y="92.1" width="1.0" height="1.0"/><rect x="267.7" y="87.4" width="1.0" height="1.0"/><rect x="267.8" y="97.3" width="1.0" height="1.0"/><rect x="268.0" y="82.4" width="1.0" height="1.0"/><rect x="267.5" y="88.8" width="1.0" height="1.0"/><rect x="267.6" y="89.3" width="1.0" height="1.0"/><rect x="266.6" y="89.6" width="1.0" height="1.0"/><rect x="265.7" y="88.6" width="1.0" height="1.0"/><rect x="267.3" y="89.6" width="1.0" height="1.0"/><rect x="266.6" y="83.2" width="1.0" height="1.0"/><rect x="265.4" y="83.8" width="1.0" height="1.0"/><rect x="268.2" y="80.6" width="1.0" height="1.0"/><rect x="266.2" y="90.6" width="1.0" height="1.0"/><rect x="264.6" y="95.4" width="1.0" height="1.0"/><rect x="266.0" y="90.1" width="1.0" height="1.0"/><rect x="265.3" y="93.5" width="1.0" height="1.0"/><rect x="266.5" y="90.3" width="1.0" height="1.0"/><rect x="266.1" y="97.6" width="1.0" height="1.0"/><rect x="267.0" y="89.4" width="1.0" height="1.0"/><rect x="267.1" y="92.1" width="1.0" height="1.0"/><rect x="265.6" y="90.3" width="1.0" height="1.0"/><rect x="268.3" y="96.7" width="1.0" height="1.0"/><rect x="265.9" y="90.3" width="1.0" height="1.0"/><rect x="265.6" y="95.6" width="1.0" height="1.0"/><rect x="265.0" y="91.1" width="1.0" height="1.0"/><rect x="265.4" y="97.5" width="1.0" height="1.0"/><rect x="265.9" y="91.5" width="1.0" height="1.0"/><rect x="265.3" y="86.9" width="1.0" height="1.0"/><rect x="265.4" y="89.1" width="1.0" height="1.0"/><rect x="265.6" y="94.9" width="1.0" height="1.0"/><rect x="267.2" y="89.0" width="1.0" height="1.0"/><rect x="267.4" y="93.8" width="1.0" height="1.0"/><rect x="266.9" y="95.6" width="1.0" height="1.0"/><rect x="267.4" y="93.6" width="1.0" height="1.0"/><rect x="266.5" y="82.1" width="1.0" height="1.0"/><rect x="266.4" y="89.8" width="1.0" height="1.0"/><rect x="265.6" y="93.0" width="1.0" height="1.0"/><rect x="265.9" y="81.4" width="1.0" height="1.0"/><rect x="265.7" y="92.5" width="1.0" height="1.0"/><rect x="267.7" y="76.3" width="1.0" height="1.0"/><rect x="267.1" y="96.8" width="1.0" height="1.0"/><rect x="266.3" y="88.5" width="1.0" height="1.0"/><rect x="265.5" y="82.5" width="1.0" height="1.0"/><rect x="266.1" y="94.2" width="1.0" height="1.0"/><rect x="266.4" y="96.4" width="1.0" height="1.0"/><rect x="266.7" y="76.9" width="1.0" height="1.0"/><rect x="266.8" y="98.5" width="1.0" height="1.0"/><rect x="265.9" y="85.6" width="1.0" height="1.0"/><rect x="265.8" y="93.0" width="1.0" height="1.0"/><rect x="266.7" y="82.3" width="1.0" height="1.0"/><rect x="265.8" y="89.9" width="1.0" height="1.0"/><rect x="266.9" y="83.7" width="1.0" height="1.0"/><rect x="265.9" y="79.0" width="1.0" height="1.0"/><rect x="268.3" y="86.5" width="1.0" height="1.0"/><rect x="267.2" y="83.7" width="1.0" height="1.0"/><rect x="267.7" y="88.5" width="1.0" height="1.0"/><rect x="266.3" y="97.9" width="1.0" height="1.0"/><rect x="265.6" y="90.8" width="1.0" height="1.0"/><rect x="267.3" y="87.4" width="1.0" height="1.0"/><rect x="265.8" y="82.3" width="1.0" height="1.0"/><rect x="266.2" y="89.8" width="1.0" height="1.0"/><rect x="264.4" y="87.3" width="1.0" height="1.0"/><rect x="266.4" y="87.6" width="1.0" height="1.0"/><rect x="266.6" y="89.2" width="1.0" height="1.0"/><rect x="268.6" y="94.3" width="1.0" height="1.0"/><rect x="265.6" y="82.7" width="1.0" height="1.0"/><rect x="264.4" y="92.5" width="1.0" height="1.0"/><rect x="265.6" y="83.2" width="1.0" height="1.0"/><rect x="265.4" y="83.1" width="1.0" height="1.0"/><rect x="265.6" y="82.1" width="1.0" height="1.0"/><rect x="267.9" y="91.4" width="1.0" height="1.0"/><rect x="266.9" y="79.8" width="1.0" height="1.0"/><rect x="266.9" y="92.4" width="1.0" height="1.0"/><rect x="266.9" y="99.3" width="1.0" height="1.0"/><rect x="265.7" y="96.8" width="1.0" height="1.0"/><rect x="267.9" y="82.0" width="1.0" height="1.0"/><rect x="265.2" y="91.1" width="1.0" height="1.0"/><rect x="267.3" y="89.1" width="1.0" height="1.0"/><rect x="266.9" y="84.9" width="1.0" height="1.0"/><rect x="267.1" y="81.8" width="1.0" height="1.0"/><rect x="266.4" y="91.2" width="1.0" height="1.0"/><rect x="266.4" y="87.9" width="1.0" height="1.0"/></g>
<g fill="#ff3030" fill-opacity="0.3"><rect x="267.7" y="97.3" width="1.0" height="1.0"/><rect x="265.5" y="77.7" width="1.0" height="1.0"/><rect x="266.6" y="88.5" width="1.0" height="1.0"/><rect x="267.4" y="83.4" width="1.0" height="1.0"/><rect x="265.4" y="88.7" width="1.0" height="1.0"/><rect x="266.7" y="87.1" width="1.0" height="1.0"/><rect x="266.0" y="86.9" width="1.0" height="1.0"/><rect x="266.6" y="90.0" width="1.0" height="1.0"/><rect x="266.5" y="98.3" width="1.0" height="1.0"/><rect x="268.3" y="100.5" width="1.0" height="1.0"/><rect x="267.6" y="99.5" width="1.0" height="1.0"/><rect x="266.6" y="90.2" width="1.0" height="1.0"/><rect x="265.8" y="88.6" width="1.0" height="1.0"/><rect x="265.9" y="89.0" width="1.0" height="1.0"/><rect x="267.0" y="99.0" width="1.0" height="1.0"/><rect x="264.6" y="86.8" width="1.0" height="1.0"/><rect x="266.1" y="89.1" width="1.0" height="1.0"/><rect x="265.4" y="83.0" width="1.0" height="1.0"/><rect x="267.1" y="76.2" width="1.0" height="1.0"/><rect x="269.1" y="89.0" width="1.0" height="1.0"/><rect x="266.4" y="89.2" width="1.0" height="1.0"/><rect x="266.6" y="97.9" width="1.0" height="1.0"/><rect x="266.1" y="90.4" width="1.0" height="1.0"/><rect x="268.0" y="85.8" width="1.0" height="1.0"/><rect x="268.2" y="95.3" width="1.0" height="1.0"/><rect x="266.5" y="87.3" width="1.0" height="1.0"/><rect x="267.5" y="84.2" width="1.0" height="1.0"/><rect x="267.1" y="81.2" width="1.0" height="1.0"/><rect x="267.9" y="95.8" width="1.0" height="1.0"/><rect x="267.6" y="83.9" width="1.0" height="1.0"/><rect x="265.7" y="85.2" width="1.0" height="1.0"/><rect x="267.7" y="81.6" width="1.0" height="1.0"/><rect x="265.9" y="99.1" width="1.0" height="1.0"/><rect x="266.2" y="84.9" width="1.0" height="1.0"/><rect x="267.5" y="95.4" width="1.0" height="1.0"/><rect x="265.7" y="91.9" width="1.0" height="1.0"/><rect x="264.8" y="76.7" width="1.0" height="1.0"/><rect x="265.3" y="93.3" width="1.0" height="1.0"/><rect x="267.5" y="87.2" width="1.0" height="1.0"/><rect x="265.9" y="93.8" width="1.0" height="1.0"/><rect x="265.3" y="86.2" width="1.0" height="1.0"/><rect x="265.4" y="97.9" width="1.0" height="1.0"/><rect x="266.6" y="89.3" width="1.0" height="1.0"/><rect x="267.5" y="88.9" width="1.0" height="1.0"/><rect x="265.5" y="80.1" width="1.0" height="1.0"/><rect x="266.3" y="90.7" width="1.0" height="1.0"/><rect x="264.9" y="94.8" width="1.0" height="1.0"/><rect x="265.5" y="94.5" width="1.0" height="1.0"/><rect x="268.4" y="87.7" width="1.0" height="1.0"/><rect x="265.1" y="92.5" width="1.0" height="1.0"/><rect x="266.0" y="94.0" width="1.0" height="1.0"/><rect x="267.1" y="95.8" width="1.0" height="1.0"/><rect x="265.9" y="90.6" width="1.0" height="1.0"/><rect x="264.2" y="89.4" width="1.0" height="1.0"/><rect x="267.9" y="90.2" width="1.0" height="1.0"/><rect x="265.5" y="86.5" width="1.0" height="1.0"/><rect x="267.2" y="90.6" width="1.0" height="1.0"/><rect x="264.7" y="89.5" width="1.0" height="1.0"/><rect x="266.6" y="87.0" width="1.0" height="1.0"/><rect x="264.9" y="92.9" width="1.0" height="1.0"/><rect x="267.8" y="90.2" width="1.0" height="1.0"/><rect x="265.2" y="99.2" width="1.0" height="1.0"/><rect x="266.3" y="82.8" width="1.0" height="1.0"/><rect x="266.2" y="86.2" width="1.0" height="1.0"/><rect x="267.1" y="90.7" width="1.0" height="1.0"/><rect x="265.6" y="87.7" width="1.0" height="1.0"/><rect x="266.1" y="83.9" width="1.0" height="1.0"/><rect x="266.4" y="86.1" width="1.0" height="1.0"/><rect x="267.4" y="85.7" width="1.0" height="1.0"/><rect x="267.4" y="95.9" width="1.0" height="1.0"/><rect x="265.9" y="90.2" width="1.0" height="1.0"/><rect x="266.0" y="85.0" width="1.0" height="1.0"/><rect x="266.5" y="88.2" width="1.0" height="1.0"/><rect x="267.1" y="100.2" width="1.0" height="1.0"/><rect x="266.6" y="81.8" width="1.0" height="1.0"/><rect x="268.2" y="88.7" width="1.0" height="1.0"/><rect x="267.6" y="76.7" width="1.0" height="1.0"/><rect x="264.7" y="90.6" width="1.0" height="1.0"/><rect x="266.3" y="93.8" width="1.0" height="1.0"/><rect x="266.7" y="93.2" width="1.0" height="1.0"/><rect x="266.9" y="90.4" width="1.0" height="1.0"/><rect x="266.9" y="96.5" width="1.0" height="1.0"/><rect x="265.7" y="93.9" width="1.0" height="1.0"/><rect x="265.8" y="101.6" width="1.0" height="1.0"/><rect x="267.0" y="96.7" width="1.0" height="1.0"/><rect x="266.8" y="87.0" width="1.0" height="1.0"/><rect x="266.3" y="93.8" width="1.0" height="1.0"/><rect x="265.9" y="81.7" width="1.0" height="1.0"/><rect x="266.1" y="97.8" width="1.0" height="1.0"/><rect x="267.2" y="84.4" width="1.0" height="1.0"/><rect x="268.7" y="97.6" width="1.0" height="1.0"/><rect x="266.5" y="93.6" width="1.0" height="1.0"/><rect x="266.7" y="93.8" width="1.0" height="1.0"/><rect x="268.2" y="81.8" width="1.0" height="1.0"/><rect x="265.4" y="98.6" width="1.0" height="1.0"/><rect x="267.0" y="99.3" width="1.0" height="1.0"/><rect x="265.1" y="87.3" width="1.0" height="1.0"/><rect x="266.5" y="91.4" width="1.0" height="1.0"/><rect x="267.8" y="95.5" width="1.0" height="1.0"/><rect x="265.9" y="97.6" width="1.0" height="1.0"/><rect x="267.8" y="87.0" width="1.0" height="1.0"/><rect x="266.0" y="89.5" width="1.0" height="1.0"/><rect x="267.2" y="87.4" width="1.0" height="1.0"/><rect x="267.3" y="94.2" width="1.0" height="1.0"/><rect x="267.1" y="91.5" width="1.0" height="1.0"/><rect x="267.7" y="94.9" width="1.0" height="1.0"/><rect x="266.6" y="98.7" width="1.0" height="1.0"/><rect x="266.8" y="89.9" width="1.0" height="1.0"/><rect x="266.2" y="93.1" width="1.0" height="1.0"/><rect x="265.7" y="100.2" width="1.0" height="1.0"/><rect x="266.1" y="91.9" width="1.0" height="1.0"/><rect x="266.6" y="86.9" width="1.0" height="1.0"/><rect x="265.7" y="99.6" width="1.0" height="1.0"/><rect x="265.7" y="84.9" width="1.0" height="1.0"/><rect x="268.1" y="83.5" width="1.0" height="1.0"/><rect x="266.7" y="81.2" width="1.0" height="1.0"/><rect x="267.1" y="92.0" width="1.0" height="1.0"/><rect x="267.1" y="98.1" width="1.0" height="1.0"/><rect x="266.3" y="86.3" width="1.0" height="1.0"/><rect x="265.9" y="92.6" width="1.0" height="1.0"/><rect x="266.8" y="86.5" width="1.0" height="1.0"/><rect x="268.4" y="87.9" width="1.0" height="1.0"/><rect x="267.0" y="87.6" width="1.0" height="1.0"/><rect x="266.5" y="84.3" width="1.0" height="1.0"/><rect x="266.2" y="91.8" width="1.0" height="1.0"/><rect x="266.5" y="91.4" width="1.0" height="1.0"/><rect x="265.6" y="96.3" width="1.0" height="1.0"/><rect x="267.6" y="91.0" width="1.0" height="1.0"/><rect x="267.3" y="88.4" width="1.0" height="1.0"/><rect x="267.4" y="91.1" width="1.0" height="1.0"/><rect x="266.3" y="101.9" width="1.0" height="1.0"/><rect x="267.0" y="93.4" width="1.0" height="1.0"/><rect x="266.3" y="91.0" width="1.0" height="1.0"/><rect x="265.7" y="88.7" width="1.0" height="1.0"/><rect x="266.5" y="90.4" width="1.0" height="1.0"/><rect x="265.6" y="91.3" width="1.0" height="1.0"/><rect x="266.5" y="89.6" width="1.0" height="1.0"/><rect x="265.4" y="93.0" width="1.0" height="1.0"/><rect x="267.5" y="91.9" width="1.0" height="1.0"/><rect x="266.1" y="92.9" width="1.0" height="1.0"/><rect x="266.3" y="86.5" width="1.0" height="1.0"/><rect x="268.1" y="93.7" width="1.0" height="1.0"/><rect x="265.9" y="88.5" width="1.0" height="1.0"/><rect x="266.7" y="91.6" width="1.0" height="1.0"/><rect x="265.8" y="84.1" width="1.0" height="1.0"/><rect x="267.2" y="88.8" width="1.0" height="1.0"/><rect x="265.5" y="82.4" width="1.0" height="1.0"/><rect x="265.3" y="92.3" width="1.0" height="1.0"/><rect x="266.9" y="90.0" width="1.0" height="1.0"/><rect x="265.5" y="88.7" width="1.0" height="1.0"/></g>
<polyline fill="none" stroke="#ff0000" stroke-opacity="0.72" stroke-width="1.1" points="138.2,114.5 209.5,107.1 267.0,91.8"/>
<polyline fill="none" stroke="#000080" stroke-opacity="0.66" stroke-width="1.2" points="138.2,123.5 209.5,105.9 267.0,92.2"/>
<rect x="137.2" y="113.5" width="2.0" height="2.0" fill="#ff1a1a"/>
<rect x="208.5" y="106.1" width="2.0" height="2.0" fill="#ff1a1a"/>
<rect x="266.0" y="90.8" width="2.0" height="2.0" fill="#ff1a1a"/>
<rect x="137.2" y="122.5" width="2.0" height="2.0" fill="#1a1a80"/>
<rect x="208.5" y="104.9" width="2.0" height="2.0" fill="#1a1a80"/>
<rect x="266.0" y="91.2" width="2.0" height="2.0" fill="#1a1a80"/>
<g fill="#2a2a9a" fill-opacity="0.4"><rect x="476.9" y="123.5" width="1.0" height="1.0"/><rect x="476.6" y="125.1" width="1.0" height="1.0"/><rect x="476.2" y="128.0" width="1.0" height="1.0"/><rect x="477.1" y="123.1" width="1.0" height="1.0"/><rect x="476.8" y="127.5" width="1.0" height="1.0"/><rect x="476.8" y="125.9" width="1.0" height="1.0"/><rect x="478.1" y="126.6" width="1.0" height="1.0"/><rect x="477.3" y="122.2" width="1.0" height="1.0"/><rect x="477.6" y="120.1" width="1.0" height="1.0"/><rect x="477.1" y="128.5" width="1.0" height="1.0"/><rect x="477.3" y="119.3" width="1.0" height="1.0"/><rect x="477.7" y="128.2" width="1.0" height="1.0"/><rect x="476.1" y="126.9" width="1.0" height="1.0"/><rect x="477.9" y="121.1" width="1.0" height="1.0"/><rect x="477.7" y="119.0" width="1.0" height="1.0"/><rect x="477.5" y="131.1" width="1.0" height="1.0"/><rect x="476.9" y="128.1" width="1.0" height="1.0"/><rect x="477.0" y="119.0" width="1.0" height="1.0"/><rect x="477.1" y="123.0" width="1.0" height="1.0"/><rect x="477.0" y="126.5" width="1.0" height="1.0"/><rect x="477.3" y="124.5" width="1.0" height="1.0"/><rect x="478.1" y="123.7" width="1.0" height="1.0"/><rect x="477.1" y="125.5" width="1.0" height="1.0"/><rect x="476.8" y="122.9" width="1.0" height="1.0"/><rect x="477.2" y="129.0" width="1.0" height="1.0"/><rect x="476.8" y="119.5" width="1.0" height="1.0"/><rect x="476.9" y="123.2" width="1.0" height="1.0"/><rect x="476.5" y="128.0" width="1.0" height="1.0"/><rect x="477.2" y="125.7" width="1.0" height="1.0"/><rect x="477.1" y="119.2" width="1.0" height="1.0"/><rect x="477.4" y="123.4" width="1.0" height="1.0"/><rect x="477.3" y="122.0" width="1.0" height="1.0"/><rect x="476.5" y="117.3" width="1.0" height="1.0"/><rect x="477.7" y="126.8" width="1.0" height="1.0"/><rect x="476.8" y="123.7" width="1.0" height="1.0"/><rect x="475.9" y="128.0" width="1.0" height="1.0"/><rect x="477.5" y="120.6" width="1.0" height="1.0"/><rect x="476.5" y="126.3" width="1.0" height="1.0"/><rect x="477.9" y="116.4" width="1.0" height="1.0"/><rect x="476.6" y="124.3" width="1.0" height="1.0"/><rect x="477.6" y="124.0" width="1.0" height="1.0"/><rect x="477.7" y="129.7" width="1.0" height="1.0"/><rect x="476.6" y="129.9" width="1.0" height="1.0"/><rect x="477.0" y="124.5" width="1.0" height="1.0"/><rect x="476.9" y="132.2" width="1.0" height="1.0"/><rect x="477.7" y="123.8" width="1.0" height="1.0"/><rect x="476.7" y="121.3" width="1.0" height="1.0"/><rect x="477.1" y="122.3" width="1.0" height="1.0"/><rect x="477.4" y="119.5" width="1.0" height="1.0"/><rect x="477.1" y="125.9" width="1.0" height="1.0"/><rect x="476.9" y="130.4" width="1.0" height="1.0"/><rect x="476.8" y="128.8" width="1.0" height="1.0"/><rect x="476.0" y="126.7" width="1.0" height="1.0"/><rect x="477.0" y="124.5" width="1.0" height="1.0"/><rect x="476.8" y="121.8" width="1.0" height="1.0"/><rect x="476.7" y="122.4" width="1.0" height="1.0"/><rect x="476.8" y="115.2" width="1.0" height="1.0"/><rect x="476.8" y="121.6" width="1.0" height="1.0"/><rect x="477.0" y="119.6" width="1.0" height="1.0"/><rect x="477.0" y="126.8" width="1.0" height="1.0"/><rect x="477.8" y="121.8" width="1.0" height="1.0"/><rect x="477.6" y="127.6" width="1.0" height="1.0"/><rect x="476.9" y="128.3" width="1.0" height="1.0"/><rect x="477.7" y="123.2" width="1.0" height="1.0"/><rect x="477.0" y="121.6" width="1.0" height="1.0"/><rect x="477.3" y="125.2" width="1.0" height="1.0"/><rect x="477.6" y="122.7" width="1.0" height="1.0"/><rect x="477.5" y="123.1" width="1.0" height="1.0"/><rect x="477.5" y="127.9" width="1.0" height="1.0"/><rect x="476.5" y="126.6" width="1.0" height="1.0"/><rect x="476.8" y="118.6" width="1.0" height="1.0"/><rect x="477.9" y="125.6" width="1.0" height="1.0"/><rect x="477.3" y="119.0" width="1.0" height="1.0"/><rect x="476.7" y="120.4" width="1.0" height="1.0"/><rect x="477.5" y="122.7" width="1.0" height="1.0"/><rect x="477.7" y="124.6" width="1.0" height="1.0"/><rect x="477.6" y="119.9" width="1.0" height="1.0"/><rect x="477.1" y="127.4" width="1.0" height="1.0"/><rect x="476.8" y="125.6" width="1.0" height="1.0"/><rect x="476.9" y="119.5" width="1.0" height="1.0"/><rect x="478.7" y="121.2" width="1.0" height="1.0"/><rect x="478.0" y="121.9" width="1.0" height="1.0"/><rect x="477.3" y="124.5" width="1.0" height="1.0"/><rect x="476.7" y="126.6" width="1.0" height="1.0"/><rect x="477.3" y="127.3" width="1.0" height="1.0"/><rect x="477.4" y="117.8" width="1.0" height="1.0"/><rect x="477.3" y="125.9" width="1.0" height="1.0"/><rect x="476.9" y="129.9" width="1.0" height="1.0"/><rect x="477.5" y="125.7" width="1.0" height="1.0"/><rect x="477.8" y="120.2" width="1.0" height="1.0"/><rect x="476.4" y="118.1" width="1.0" height="1.0"/><rect x="476.5" y="125.8" width="1.0" height="1.0"/><rect x="476.2" y="123.3" width="1.0" height="1.0"/><rect x="476.5" y="124.0" width="1.0" height="1.0"/><rect x="476.3" y="125.1" width="1.0" height="1.0"/><rect x="477.0" y="125.5" width="1.0" height="1.0"/><rect x="477.1" y="124.0" width="1.0" height="1.0"/><rect x="476.4" y="124.3" width="1.0" height="1.0"/><rect x="477.1" y="125.2" width="1.0" height="1.0"/><rect x="477.6" y="117.8" width="1.0" height="1.0"/><rect x="476.6" y="127.5" width="1.0" height="1.0"/><rect x="477.5" y="120.6" width="1.0" height="1.0"/><rect x="477.3" y="117.7" width="1.0" height="1.0"/><rect x="477.6" y="122.7" width="1.0" height="1.0"/><rect x="476.9" y="120.1" width="1.0" height="1.0"/><rect x="478.0" y="120.8" width="1.0" height="1.0"/><rect x="476.6" y="126.4" width="1.0" height="1.0"/><rect x="477.2" y="121.4" width="1.0" height="1.0"/><rect x="477.4" y="123.0" width="1.0" height="1.0"/><rect x="476.8" y="119.2" width="1.0" height="1.0"/><rect x="477.7" y="131.2" width="1.0" height="1.0"/><rect x="478.0" y="120.4" width="1.0" height="1.0"/><rect x="475.9" y="128.9" width="1.0" height="1.0"/><rect x="477.7" y="124.9" width="1.0" height="1.0"/><rect x="477.1" y="124.2" width="1.0" height="1.0"/><rect x="477.3" y="128.6" width="1.0" height="1.0"/><rect x="477.1" y="115.0" width="1.0" height="1.0"/><rect x="476.4" y="124.5" width="1.0" height="1.0"/><rect x="477.1" y="128.5" width="1.0" height="1.0"/><rect x="477.0" y="117.9" width="1.0" height="1.0"/><rect x="477.4" y="120.9" width="1.0" height="1.0"/><rect x="476.8" y="120.7" width="1.0" height="1.0"/><rect x="476.8" y="129.3" width="1.0" height="1.0"/><rect x="477.1" y="122.0" width="1.0" height="1.0"/><rect x="477.5" y="121.0" width="1.0" height="1.0"/><rect x="476.8" y="119.0" width="1.0" height="1.0"/><rect x="476.1" y="131.1" width="1.0" height="1.0"/><rect x="477.1" y="119.6" width="1.0" height="1.0"/><rect x="475.8" y="114.5" width="1.0" height="1.0"/><rect x="477.7" y="121.1" width="1.0" height="1.0"/><rect x="476.8" y="124.7" width="1.0" height="1.0"/><rect x="478.5" y="119.3" width="1.0" height="1.0"/><rect x="476.5" y="125.9" width="1.0" height="1.0"/><rect x="477.8" y="130.1" width="1.0" height="1.0"/><rect x="476.2" y="121.1" width="1.0" height="1.0"/><rect x="477.0" y="131.9" width="1.0" height="1.0"/><rect x="477.3" y="121.8" width="1.0" height="1.0"/><rect x="477.7" y="122.6" width="1.0" height="1.0"/><rect x="477.1" y="121.2" width="1.0" height="1.0"/><rect x="477.8" y="126.0" width="1.0" height="1.0"/><rect x="476.8" y="120.8" width="1.0" height="1.0"/><rect x="477.1" y="129.3" width="1.0" height="1.0"/><rect x="477.2" y="127.6" width="1.0" height="1.0"/><rect x="476.6" y="124.5" width="1.0" height="1.0"/><rect x="477.1" y="123.6" width="1.0" height="1.0"/><rect x="478.1" y="121.2" width="1.0" height="1.0"/><rect x="476.7" y="118.8" width="1.0" height="1.0"/><rect x="477.7" y="125.3" width="1.0" height="1.0"/><rect x="477.0" y="120.9" width="1.0" height="1.0"/><rect x="476.6" y="120.8" width="1.0" height="1.0"/><rect x="477.1" y="128.8" width="1.0" height="1.0"/><rect x="477.2" y="122.1" width="1.0" height="1.0"/><rect x="477.9" y="127.4" width="1.0" height="1.0"/><rect x="477.3" y="125.2" width="1.0" height="1.0"/><rect x="477.7" y="126.0" width="1.0" height="1.0"/><rect x="476.4" y="126.1" width="1.0" height="1.0"/><rect x="476.9" y="124.2" width="1.0" height="1.0"/><rect x="477.2" y="130.4" width="1.0" height="1.0"/><rect x="477.9" y="121.0" width="1.0" height="1.0"/><rect x="477.4" y="122.3" width="1.0" height="1.0"/></g>
<g fill="#ff3030" fill-opacity="0.4"><rect x="477.4" y="104.3" width="1.0" height="1.0"/><rect x="476.7" y="108.2" width="1.0" height="1.0"/><rect x="477.6" y="102.3" width="1.0" height="1.0"/><rect x="477.2" y="103.6" width="1.0" height="1.0"/><rect x="476.6" y="107.9" width="1.0" height="1.0"/><rect x="477.0" y="108.0" width="1.0" height="1.0"/><rect x="476.8" y="102.6" width="1.0" height="1.0"/><rect x="477.4" y="112.1" width="1.0" height="1.0"/><rect x="476.7" y="106.3" width="1.0" height="1.0"/><rect x="476.5" y="109.5" width="1.0" height="1.0"/><rect x="477.8" y="102.9" width="1.0" height="1.0"/><rect x="476.9" y="108.3" width="1.0" height="1.0"/><rect x="477.0" y="106.9" width="1.0" height="1.0"/><rect x="477.7" y="100.3" width="1.0" height="1.0"/><rect x="477.6" y="105.0" width="1.0" height="1.0"/><rect x="476.7" y="107.2" width="1.0" height="1.0"/><rect x="476.7" y="105.1" width="1.0" height="1.0"/><rect x="477.6" y="105.9" width="1.0" height="1.0"/><rect x="478.5" y="108.0" width="1.0" height="1.0"/><rect x="477.8" y="103.3" width="1.0" height="1.0"/><rect x="477.5" y="107.6" width="1.0" height="1.0"/><rect x="477.5" y="101.8" width="1.0" height="1.0"/><rect x="477.2" y="106.1" width="1.0" height="1.0"/><rect x="476.6" y="105.9" width="1.0" height="1.0"/><rect x="477.5" y="104.5" width="1.0" height="1.0"/><rect x="477.5" y="103.9" width="1.0" height="1.0"/><rect x="477.3" y="109.4" width="1.0" height="1.0"/><rect x="477.4" y="103.4" width="1.0" height="1.0"/><rect x="476.9" y="104.0" width="1.0" height="1.0"/><rect x="478.1" y="103.6" width="1.0" height="1.0"/><rect x="477.5" y="107.0" width="1.0" height="1.0"/><rect x="476.2" y="107.6" width="1.0" height="1.0"/><rect x="477.5" y="106.2" width="1.0" height="1.0"/><rect x="476.6" y="103.9" width="1.0" height="1.0"/><rect x="477.0" y="106.7" width="1.0" height="1.0"/><rect x="476.9" y="108.3" width="1.0" height="1.0"/><rect x="477.7" y="105.0" width="1.0" height="1.0"/><rect x="477.7" y="108.1" width="1.0" height="1.0"/><rect x="478.3" y="104.0" width="1.0" height="1.0"/><rect x="476.8" y="101.7" width="1.0" height="1.0"/><rect x="477.9" y="104.6" width="1.0" height="1.0"/><rect x="478.2" y="106.1" width="1.0" height="1.0"/><rect x="477.6" y="107.4" width="1.0" height="1.0"/><rect x="477.0" y="101.8" width="1.0" height="1.0"/><rect x="476.6" y="104.9" width="1.0" height="1.0"/><rect x="476.5" y="102.0" width="1.0" height="1.0"/><rect x="477.6" y="103.2" width="1.0" height="1.0"/><rect x="477.3" y="106.3" width="1.0" height="1.0"/><rect x="476.7" y="106.2" width="1.0" height="1.0"/><rect x="476.9" y="103.6" width="1.0" height="1.0"/><rect x="476.9" y="101.5" width="1.0" height="1.0"/><rect x="477.1" y="101.6" width="1.0" height="1.0"/><rect x="477.3" y="107.2" width="1.0" height="1.0"/><rect x="477.4" y="104.7" width="1.0" height="1.0"/><rect x="476.7" y="103.9" width="1.0" height="1.0"/><rect x="477.8" y="98.3" width="1.0" height="1.0"/><rect x="476.0" y="105.6" width="1.0" height="1.0"/><rect x="476.9" y="105.6" width="1.0" height="1.0"/><rect x="477.2" y="104.3" width="1.0" height="1.0"/><rect x="476.4" y="102.3" width="1.0" height="1.0"/><rect x="477.6" y="102.4" width="1.0" height="1.0"/><rect x="476.4" y="101.6" width="1.0" height="1.0"/><rect x="478.2" y="104.5" width="1.0" height="1.0"/><rect x="477.7" y="101.6" width="1.0" height="1.0"/><rect x="477.3" y="105.2" width="1.0" height="1.0"/><rect x="476.6" y="109.2" width="1.0" height="1.0"/><rect x="476.9" y="104.2" width="1.0" height="1.0"/><rect x="477.2" y="106.4" width="1.0" height="1.0"/><rect x="477.5" y="105.4" width="1.0" height="1.0"/><rect x="477.2" y="103.7" width="1.0" height="1.0"/><rect x="477.8" y="102.6" width="1.0" height="1.0"/><rect x="478.1" y="107.2" width="1.0" height="1.0"/><rect x="476.7" y="99.5" width="1.0" height="1.0"/><rect x="477.7" y="104.3" width="1.0" height="1.0"/><rect x="476.6" y="103.2" width="1.0" height="1.0"/><rect x="477.1" y="110.9" width="1.0" height="1.0"/><rect x="476.7" y="104.9" width="1.0" height="1.0"/><rect x="477.4" y="110.9" width="1.0" height="1.0"/><rect x="477.0" y="103.6" width="1.0" height="1.0"/><rect x="477.4" y="104.5" width="1.0" height="1.0"/><rect x="476.7" y="105.1" width="1.0" height="1.0"/><rect x="476.6" y="109.3" width="1.0" height="1.0"/><rect x="477.5" y="109.0" width="1.0" height="1.0"/><rect x="477.7" y="100.0" width="1.0" height="1.0"/><rect x="476.7" y="105.8" width="1.0" height="1.0"/><rect x="477.8" y="111.4" width="1.0" height="1.0"/><rect x="477.7" y="97.4" width="1.0" height="1.0"/><rect x="476.3" y="102.4" width="1.0" height="1.0"/><rect x="476.4" y="106.8" width="1.0" height="1.0"/><rect x="477.2" y="103.4" width="1.0" height="1.0"/><rect x="476.5" y="103.3" width="1.0" height="1.0"/><rect x="477.0" y="96.6" width="1.0" height="1.0"/><rect x="477.8" y="108.5" width="1.0" height="1.0"/><rect x="477.3" y="109.6" width="1.0" height="1.0"/><rect x="476.7" y="105.4" width="1.0" height="1.0"/><rect x="476.7" y="106.8" width="1.0" height="1.0"/><rect x="477.0" y="102.0" width="1.0" height="1.0"/><rect x="477.3" y="107.4" width="1.0" height="1.0"/><rect x="477.3" y="102.5" width="1.0" height="1.0"/><rect x="477.4" y="103.8" width="1.0" height="1.0"/><rect x="476.3" y="103.1" width="1.0" height="1.0"/><rect x="477.5" y="104.6" width="1.0" height="1.0"/><rect x="477.0" y="100.8" width="1.0" height="1.0"/><rect x="476.9" y="107.4" width="1.0" height="1.0"/><rect x="478.2" y="102.3" width="1.0" height="1.0"/><rect x="477.7" y="107.2" width="1.0" height="1.0"/><rect x="478.0" y="101.3" width="1.0" height="1.0"/><rect x="476.8" y="98.9" width="1.0" height="1.0"/><rect x="477.8" y="106.9" width="1.0" height="1.0"/><rect x="476.7" y="101.4" width="1.0" height="1.0"/><rect x="476.1" y="105.1" width="1.0" height="1.0"/><rect x="477.4" y="106.6" width="1.0" height="1.0"/><rect x="477.4" y="103.0" width="1.0" height="1.0"/><rect x="477.3" y="107.0" width="1.0" height="1.0"/><rect x="477.9" y="106.2" width="1.0" height="1.0"/><rect x="477.2" y="102.9" width="1.0" height="1.0"/><rect x="477.7" y="102.7" width="1.0" height="1.0"/><rect x="477.4" y="103.1" width="1.0" height="1.0"/><rect x="477.1" y="104.9" width="1.0" height="1.0"/><rect x="477.1" y="110.1" width="1.0" height="1.0"/><rect x="477.5" y="109.1" width="1.0" height="1.0"/><rect x="477.0" y="108.8" width="1.0" height="1.0"/><rect x="477.5" y="107.5" width="1.0" height="1.0"/><rect x="477.2" y="102.4" width="1.0" height="1.0"/><rect x="477.1" y="104.0" width="1.0" height="1.0"/><rect x="476.7" y="108.8" width="1.0" height="1.0"/><rect x="476.2" y="98.9" width="1.0" height="1.0"/><rect x="476.8" y="103.0" width="1.0" height="1.0"/><rect x="477.4" y="104.5" width="1.0" height="1.0"/><rect x="477.3" y="110.3" width="1.0" height="1.0"/><rect x="476.7" y="106.0" width="1.0" height="1.0"/><rect x="477.8" y="106.4" width="1.0" height="1.0"/><rect x="476.1" y="108.9" width="1.0" height="1.0"/><rect x="477.9" y="107.4" width="1.0" height="1.0"/><rect x="476.3" y="107.2" width="1.0" height="1.0"/><rect x="477.4" y="103.4" width="1.0" height="1.0"/><rect x="476.7" y="105.8" width="1.0" height="1.0"/><rect x="477.6" y="101.5" width="1.0" height="1.0"/><rect x="477.9" y="100.1" width="1.0" height="1.0"/><rect x="477.3" y="104.5" width="1.0" height="1.0"/><rect x="476.8" y="100.1" width="1.0" height="1.0"/><rect x="476.3" y="106.7" width="1.0" height="1.0"/><rect x="476.4" y="111.3" width="1.0" height="1.0"/><rect x="477.1" y="100.4" width="1.0" height="1.0"/><rect x="477.5" y="106.0" width="1.0" height="1.0"/><rect x="477.0" y="103.2" width="1.0" height="1.0"/><rect x="476.8" y="103.7" width="1.0" height="1.0"/><rect x="477.6" y="96.0" width="1.0" height="1.0"/><rect x="477.2" y="105.3" width="1.0" height="1.0"/><rect x="477.2" y="102.4" width="1.0" height="1.0"/><rect x="477.1" y="104.4" width="1.0" height="1.0"/><rect x="476.2" y="108.1" width="1.0" height="1.0"/><rect x="476.5" y="105.3" width="1.0" height="1.0"/><rect x="477.9" y="103.4" width="1.0" height="1.0"/><rect x="477.0" y="100.9" width="1.0" height="1.0"/><rect x="477.6" y="102.5" width="1.0" height="1.0"/><rect x="476.2" y="101.2" width="1.0" height="1.0"/><rect x="476.9" y="106.1" width="1.0" height="1.0"/><rect x="477.7" y="103.4" width="1.0" height="1.0"/><rect x="476.9" y="101.5" width="1.0" height="1.0"/></g>
<g fill="#ff3030" fill-opacity="0.4"><rect x="548.5" y="104.1" width="1.0" height="1.0"/><rect x="548.7" y="102.6" width="1.0" height="1.0"/><rect x="548.1" y="108.5" width="1.0" height="1.0"/><rect x="547.5" y="107.7" width="1.0" height="1.0"/><rect x="548.2" y="106.7" width="1.0" height="1.0"/><rect x="548.2" y="104.0" width="1.0" height="1.0"/><rect x="547.8" y="102.4" width="1.0" height="1.0"/><rect x="548.8" y="102.9" width="1.0" height="1.0"/><rect x="548.2" y="106.2" width="1.0" height="1.0"/><rect x="548.0" y="102.6" width="1.0" height="1.0"/><rect x="549.0" y="101.2" width="1.0" height="1.0"/><rect x="548.3" y="105.2" width="1.0" height="1.0"/><rect x="547.9" y="102.7" width="1.0" height="1.0"/><rect x="548.6" y="106.6" width="1.0" height="1.0"/><rect x="548.7" y="101.7" width="1.0" height="1.0"/><rect x="548.5" y="101.4" width="1.0" height="1.0"/><rect x="548.1" y="101.7" width="1.0" height="1.0"/><rect x="548.5" y="104.8" width="1.0" height="1.0"/><rect x="548.0" y="105.9" width="1.0" height="1.0"/><rect x="548.8" y="107.1" width="1.0" height="1.0"/><rect x="548.5" y="103.7" width="1.0" height="1.0"/><rect x="548.2" y="102.1" width="1.0" height="1.0"/><rect x="548.3" y="100.9" width="1.0" height="1.0"/><rect x="548.8" y="104.2" width="1.0" height="1.0"/><rect x="548.6" y="105.8" width="1.0" height="1.0"/><rect x="548.2" y="103.0" width="1.0" height="1.0"/><rect x="548.4" y="103.0" width="1.0" height="1.0"/><rect x="548.6" y="99.6" width="1.0" height="1.0"/><rect x="548.1" y="100.4" width="1.0" height="1.0"/><rect x="548.1" y="103.8" width="1.0" height="1.0"/><rect x="548.3" y="107.3" width="1.0" height="1.0"/><rect x="548.8" y="107.1" width="1.0" height="1.0"/><rect x="548.5" y="102.7" width="1.0" height="1.0"/><rect x="548.2" y="106.5" width="1.0" height="1.0"/><rect x="548.1" y="103.9" width="1.0" height="1.0"/><rect x="548.2" y="103.9" width="1.0" height="1.0"/><rect x="548.7" y="103.9" width="1.0" height="1.0"/><rect x="548.4" y="106.7" width="1.0" height="1.0"/><rect x="548.6" y="104.2" width="1.0" height="1.0"/><rect x="547.9" y="103.1" width="1.0" height="1.0"/><rect x="547.9" y="106.1" width="1.0" height="1.0"/><rect x="547.9" y="105.7" width="1.0" height="1.0"/><rect x="547.9" y="107.7" width="1.0" height="1.0"/><rect x="548.9" y="105.6" width="1.0" height="1.0"/><rect x="548.9" y="101.7" width="1.0" height="1.0"/><rect x="547.6" y="102.0" width="1.0" height="1.0"/><rect x="548.6" y="105.3" width="1.0" height="1.0"/><rect x="547.3" y="103.3" width="1.0" height="1.0"/><rect x="548.2" y="103.6" width="1.0" height="1.0"/><rect x="548.2" y="102.9" width="1.0" height="1.0"/><rect x="548.1" y="99.9" width="1.0" height="1.0"/><rect x="548.9" y="107.6" width="1.0" height="1.0"/><rect x="548.0" y="103.0" width="1.0" height="1.0"/><rect x="548.7" y="104.6" width="1.0" height="1.0"/><rect x="547.9" y="105.3" width="1.0" height="1.0"/><rect x="548.4" y="104.1" width="1.0" height="1.0"/><rect x="548.8" y="106.8" width="1.0" height="1.0"/><rect x="548.8" y="104.9" width="1.0" height="1.0"/><rect x="548.9" y="102.9" width="1.0" height="1.0"/><rect x="548.5" y="102.8" width="1.0" height="1.0"/><rect x="547.9" y="105.7" width="1.0" height="1.0"/><rect x="547.6" y="102.3" width="1.0" height="1.0"/><rect x="548.3" y="104.1" width="1.0" height="1.0"/><rect x="548.5" y="103.1" width="1.0" height="1.0"/><rect x="548.3" y="99.2" width="1.0" height="1.0"/><rect x="548.2" y="103.9" width="1.0" height="1.0"/><rect x="549.0" y="105.4" width="1.0" height="1.0"/><rect x="547.9" y="102.8" width="1.0" height="1.0"/><rect x="548.3" y="102.5" width="1.0" height="1.0"/><rect x="548.0" y="105.0" width="1.0" height="1.0"/><rect x="547.9" y="105.9" width="1.0" height="1.0"/><rect x="548.5" y="105.5" width="1.0" height="1.0"/><rect x="549.1" y="104.7" width="1.0" height="1.0"/><rect x="548.2" y="103.2" width="1.0" height="1.0"/><rect x="548.6" y="104.8" width="1.0" height="1.0"/><rect x="548.4" y="100.9" width="1.0" height="1.0"/><rect x="548.5" y="102.2" width="1.0" height="1.0"/><rect x="548.3" y="106.7" width="1.0" height="1.0"/><rect x="548.4" y="103.5" width="1.0" height="1.0"/><rect x="548.6" y="98.7" width="1.0" height="1.0"/><rect x="548.8" y="105.8" width="1.0" height="1.0"/><rect x="548.6" y="103.5" width="1.0" height="1.0"/><rect x="548.3" y="102.0" width="1.0" height="1.0"/><rect x="548.1" y="101.3" width="1.0" height="1.0"/><rect x="548.0" y="98.6" width="1.0" height="1.0"/><rect x="548.0" y="100.2" width="1.0" height="1.0"/><rect x="547.8" y="106.4" width="1.0" height="1.0"/><rect x="547.9" y="101.6" width="1.0" height="1.0"/><rect x="548.5" y="102.6" width="1.0" height="1.0"/><rect x="547.5" y="105.0" width="1.0" height="1.0"/><rect x="548.1" y="106.9" width="1.0" height="1.0"/><rect x="548.9" y="102.5" width="1.0" height="1.0"/><rect x="547.8" y="103.6" width="1.0" height="1.0"/><rect x="548.0" y="102.4" width="1.0" height="1.0"/><rect x="548.2" y="101.6" width="1.0" height="1.0"/><rect x="548.4" y="105.6" width="1.0" height="1.0"/><rect x="549.4" y="100.8" width="1.0" height="1.0"/><rect x="548.3" y="101.6" width="1.0" height="1.0"/><rect x="548.6" y="103.8" width="1.0" height="1.0"/><rect x="548.5" y="103.1" width="1.0" height="1.0"/><rect x="548.3" y="108.2" width="1.0" height="1.0"/><rect x="548.4" y="101.4" width="1.0" height="1.0"/><rect x="548.2" y="102.0" width="1.0" height="1.0"/><rect x="548.4" y="104.2" width="1.0" height="1.0"/><rect x="548.6" y="103.1" width="1.0" height="1.0"/><rect x="547.8" y="103.3" width="1.0" height="1.0"/><rect x="548.2" y="105.6" width="1.0" height="1.0"/><rect x="548.0" y="106.3" width="1.0" height="1.0"/><rect x="548.4" y="105.0" width="1.0" height="1.0"/><rect x="547.7" y="102.2" width="1.0" height="1.0"/></g>
<g fill="#2a2a9a" fill-opacity="0.4"><rect x="547.9" y="104.1" width="1.0" height="1.0"/><rect x="548.2" y="104.3" width="1.0" height="1.0"/><rect x="548.4" y="99.0" width="1.0" height="1.0"/><rect x="548.6" y="103.5" width="1.0" height="1.0"/><rect x="548.3" y="105.1" width="1.0" height="1.0"/><rect x="548.9" y="103.4" width="1.0" height="1.0"/><rect x="548.7" y="104.2" width="1.0" height="1.0"/><rect x="548.8" y="104.7" width="1.0" height="1.0"/><rect x="547.9" y="105.9" width="1.0" height="1.0"/><rect x="548.9" y="104.9" width="1.0" height="1.0"/><rect x="548.2" y="106.7" width="1.0" height="1.0"/><rect x="548.6" y="107.3" width="1.0" height="1.0"/><rect x="548.0" y="105.2" width="1.0" height="1.0"/><rect x="548.5" y="104.7" width="1.0" height="1.0"/><rect x="548.1" y="99.3" width="1.0" height="1.0"/><rect x="547.6" y="100.5" width="1.0" height="1.0"/><rect x="548.6" y="104.2" width="1.0" height="1.0"/><rect x="547.7" y="103.7" width="1.0" height="1.0"/><rect x="548.6" y="101.0" width="1.0" height="1.0"/><rect x="548.4" y="103.3" width="1.0" height="1.0"/><rect x="548.4" y="103.2" width="1.0" height="1.0"/><rect x="548.0" y="102.3" width="1.0" height="1.0"/><rect x="548.3" y="100.8" width="1.0" height="1.0"/><rect x="548.7" y="103.6" width="1.0" height="1.0"/><rect x="548.4" y="108.8" width="1.0" height="1.0"/><rect x="547.8" y="98.8" width="1.0" height="1.0"/><rect x="547.9" y="101.1" width="1.0" height="1.0"/><rect x="548.5" y="103.3" width="1.0" height="1.0"/><rect x="548.5" y="104.4" width="1.0" height="1.0"/><rect x="548.1" y="103.9" width="1.0" height="1.0"/><rect x="547.9" y="104.7" width="1.0" height="1.0"/><rect x="548.2" y="100.9" width="1.0" height="1.0"/><rect x="548.1" y="100.7" width="1.0" height="1.0"/><rect x="548.1" y="102.2" width="1.0" height="1.0"/><rect x="548.0" y="103.7" width="1.0" height="1.0"/><rect x="547.6" y="102.8" width="1.0" height="1.0"/><rect x="548.0" y="104.1" width="1.0" height="1.0"/><rect x="547.2" y="104.6" width="1.0" height="1.0"/><rect x="548.4" y="102.0" width="1.0" height="1.0"/><rect x="548.2" y="98.5" width="1.0" height="1.0"/><rect x="548.3" y="104.0" width="1.0" height="1.0"/><rect x="548.4" y="100.5" width="1.0" height="1.0"/><rect x="547.9" y="104.1" width="1.0" height="1.0"/><rect x="548.3" y="105.3" width="1.0" height="1.0"/><rect x="548.1" y="103.8" width="1.0" height="1.0"/><rect x="548.3" y="104.9" width="1.0" height="1.0"/><rect x="548.5" y="106.2" width="1.0" height="1.0"/><rect x="548.2" y="102.4" width="1.0" height="1.0"/><rect x="548.2" y="105.7" width="1.0" height="1.0"/><rect x="548.5" y="104.6" width="1.0" height="1.0"/><rect x="547.4" y="103.4" width="1.0" height="1.0"/><rect x="548.4" y="104.0" width="1.0" height="1.0"/><rect x="548.0" y="104.0" width="1.0" height="1.0"/><rect x="548.2" y="106.3" width="1.0" height="1.0"/><rect x="548.0" y="102.4" width="1.0" height="1.0"/><rect x="547.9" y="104.5" width="1.0" height="1.0"/><rect x="549.1" y="101.6" width="1.0" height="1.0"/><rect x="548.7" y="106.6" width="1.0" height="1.0"/><rect x="548.5" y="106.7" width="1.0" height="1.0"/><rect x="548.8" y="100.1" width="1.0" height="1.0"/><rect x="548.5" y="106.4" width="1.0" height="1.0"/><rect x="548.8" y="99.5" width="1.0" height="1.0"/><rect x="548.1" y="106.7" width="1.0" height="1.0"/><rect x="548.6" y="104.0" width="1.0" height="1.0"/><rect x="548.7" y="103.6" width="1.0" height="1.0"/><rect x="548.6" y="103.9" width="1.0" height="1.0"/><rect x="547.7" y="103.9" width="1.0" height="1.0"/><rect x="549.5" y="101.6" width="1.0" height="1.0"/><rect x="548.8" y="104.4" width="1.0" height="1.0"/><rect x="549.0" y="106.2" width="1.0" height="1.0"/><rect x="548.1" y="104.9" width="1.0" height="1.0"/><rect x="547.6" y="103.8" width="1.0" height="1.0"/><rect x="548.7" y="103.3" width="1.0" height="1.0"/><rect x="548.4" y="99.1" width="1.0" height="1.0"/><rect x="548.8" y="105.5" width="1.0" height="1.0"/><rect x="548.0" y="101.8" width="1.0" height="1.0"/><rect x="547.9" y="99.7" width="1.0" height="1.0"/><rect x="549.1" y="104.9" width="1.0" height="1.0"/><rect x="548.8" y="101.3" width="1.0" height="1.0"/><rect x="548.1" y="104.7" width="1.0" height="1.0"/><rect x="547.3" y="108.5" width="1.0" height="1.0"/><rect x="548.4" y="103.6" width="1.0" height="1.0"/><rect x="549.0" y="108.3" width="1.0" height="1.0"/><rect x="548.4" y="108.6" width="1.0" height="1.0"/><rect x="548.8" y="105.9" width="1.0" height="1.0"/><rect x="548.4" y="104.9" width="1.0" height="1.0"/><rect x="548.1" y="103.4" width="1.0" height="1.0"/><rect x="549.1" y="101.1" width="1.0" height="1.0"/><rect x="547.5" y="102.8" width="1.0" height="1.0"/><rect x="548.3" y="104.3" width="1.0" height="1.0"/><rect x="549.0" y="104.1" width="1.0" height="1.0"/><rect x="548.2" y="103.5" width="1.0" height="1.0"/><rect x="548.3" y="102.1" width="1.0" height="1.0"/><rect x="548.4" y="102.8" width="1.0" height="1.0"/><rect x="548.5" y="101.7" width="1.0" height="1.0"/><rect x="548.2" y="104.6" width="1.0" height="1.0"/><rect x="548.3" y="102.6" width="1.0" height="1.0"/><rect x="548.4" y="102.5" width="1.0" height="1.0"/><rect x="548.1" y="103.3" width="1.0" height="1.0"/><rect x="547.8" y="103.6" width="1.0" height="1.0"/><rect x="548.5" y="105.3" width="1.0" height="1.0"/><rect x="548.3" y="98.8" width="1.0" height="1.0"/><rect x="548.5" y="102.8" width="1.0" height="1.0"/><rect x="548.1" y="108.3" width="1.0" height="1.0"/><rect x="548.0" y="103.5" width="1.0" height="1.0"/><rect x="548.6" y="104.5" width="1.0" height="1.0"/><rect x="548.3" y="104.3" width="1.0" height="1.0"/><rect x="548.3" y="101.5" width="1.0" height="1.0"/><rect x="548.2" y="101.8" width="1.0" height="1.0"/><rect x="548.3" y="107.1" width="1.0" height="1.0"/></g>
<g fill="#ff3030" fill-opacity="0.4"><rect x="603.5" y="76.2" width="1.0" height="1.0"/><rect x="603.7" y="74.5" width="1.0" height="1.0"/><rect x="603.8" y="82.8" width="1.0" height="1.0"/><rect x="603.5" y="77.5" width="1.0" height="1.0"/><rect x="604.3" y="76.9" width="1.0" height="1.0"/><rect x="603.8" y="80.3" width="1.0" height="1.0"/><rect x="604.2" y="76.1" width="1.0" height="1.0"/><rect x="605.0" y="83.3" width="1.0" height="1.0"/><rect x="603.9" y="81.2" width="1.0" height="1.0"/><rect x="603.8" y="79.6" width="1.0" height="1.0"/><rect x="603.7" y="76.2" width="1.0" height="1.0"/><rect x="604.2" y="78.0" width="1.0" height="1.0"/><rect x="604.4" y="81.4" width="1.0" height="1.0"/><rect x="603.0" y="79.1" width="1.0" height="1.0"/><rect x="604.1" y="81.4" width="1.0" height="1.0"/><rect x="604.4" y="76.4" width="1.0" height="1.0"/><rect x="603.8" y="76.0" width="1.0" height="1.0"/><rect x="603.9" y="78.1" width="1.0" height="1.0"/><rect x="603.1" y="77.8" width="1.0" height="1.0"/><rect x="603.9" y="74.8" width="1.0" height="1.0"/><rect x="603.9" y="79.7" width="1.0" height="1.0"/><rect x="603.4" y="75.3" width="1.0" height="1.0"/><rect x="604.3" y="75.2" width="1.0" height="1.0"/><rect x="604.2" y="75.7" width="1.0" height="1.0"/><rect x="603.5" y="75.2" width="1.0" height="1.0"/><rect x="604.4" y="76.5" width="1.0" height="1.0"/><rect x="603.8" y="76.3" width="1.0" height="1.0"/><rect x="603.7" y="76.5" width="1.0" height="1.0"/><rect x="603.7" y="80.2" width="1.0" height="1.0"/><rect x="603.4" y="77.4" width="1.0" height="1.0"/><rect x="603.9" y="76.3" width="1.0" height="1.0"/><rect x="604.6" y="81.4" width="1.0" height="1.0"/><rect x="603.8" y="75.1" width="1.0" height="1.0"/><rect x="603.8" y="73.7" width="1.0" height="1.0"/><rect x="604.1" y="78.1" width="1.0" height="1.0"/><rect x="603.5" y="79.1" width="1.0" height="1.0"/><rect x="603.3" y="75.1" width="1.0" height="1.0"/><rect x="603.4" y="81.7" width="1.0" height="1.0"/><rect x="604.0" y="80.2" width="1.0" height="1.0"/><rect x="603.3" y="80.1" width="1.0" height="1.0"/><rect x="604.1" y="78.9" width="1.0" height="1.0"/><rect x="604.1" y="77.9" width="1.0" height="1.0"/><rect x="604.5" y="75.3" width="1.0" height="1.0"/><rect x="603.8" y="75.4" width="1.0" height="1.0"/><rect x="604.1" y="80.0" width="1.0" height="1.0"/><rect x="603.9" y="81.6" width="1.0" height="1.0"/><rect x="604.0" y="75.4" width="1.0" height="1.0"/><rect x="603.3" y="79.1" width="1.0" height="1.0"/><rect x="604.4" y="80.1" width="1.0" height="1.0"/><rect x="604.3" y="76.0" width="1.0" height="1.0"/><rect x="604.3" y="78.1" width="1.0" height="1.0"/><rect x="604.2" y="76.7" width="1.0" height="1.0"/><rect x="603.9" y="79.5" width="1.0" height="1.0"/><rect x="603.8" y="77.2" width="1.0" height="1.0"/><rect x="604.5" y="79.6" width="1.0" height="1.0"/><rect x="604.2" y="77.6" width="1.0" height="1.0"/><rect x="604.7" y="78.2" width="1.0" height="1.0"/><rect x="604.2" y="80.8" width="1.0" height="1.0"/><rect x="603.7" y="79.0" width="1.0" height="1.0"/><rect x="604.2" y="74.2" width="1.0" height="1.0"/><rect x="603.6" y="76.3" width="1.0" height="1.0"/><rect x="604.0" y="80.4" width="1.0" height="1.0"/><rect x="604.4" y="75.4" width="1.0" height="1.0"/><rect x="604.3" y="77.3" width="1.0" height="1.0"/><rect x="603.3" y="75.4" width="1.0" height="1.0"/><rect x="604.2" y="76.5" width="1.0" height="1.0"/><rect x="603.5" y="73.2" width="1.0" height="1.0"/><rect x="604.9" y="80.2" width="1.0" height="1.0"/><rect x="603.5" y="77.4" width="1.0" height="1.0"/><rect x="603.6" y="76.9" width="1.0" height="1.0"/><rect x="604.2" y="81.6" width="1.0" height="1.0"/><rect x="604.2" y="75.8" width="1.0" height="1.0"/><rect x="603.9" y="72.8" width="1.0" height="1.0"/><rect x="603.8" y="78.0" width="1.0" height="1.0"/><rect x="603.7" y="75.7" width="1.0" height="1.0"/><rect x="604.1" y="73.5" width="1.0" height="1.0"/><rect x="604.1" y="75.6" width="1.0" height="1.0"/><rect x="603.6" y="79.9" width="1.0" height="1.0"/><rect x="603.9" y="75.1" width="1.0" height="1.0"/><rect x="603.4" y="79.6" width="1.0" height="1.0"/><rect x="603.5" y="77.8" width="1.0" height="1.0"/><rect x="604.1" y="81.4" width="1.0" height="1.0"/><rect x="603.7" y="74.1" width="1.0" height="1.0"/><rect x="603.7" y="78.1" width="1.0" height="1.0"/><rect x="604.1" y="78.1" width="1.0" height="1.0"/><rect x="603.7" y="78.4" width="1.0" height="1.0"/><rect x="604.3" y="81.3" width="1.0" height="1.0"/><rect x="603.8" y="77.2" width="1.0" height="1.0"/><rect x="603.3" y="76.4" width="1.0" height="1.0"/><rect x="603.9" y="77.2" width="1.0" height="1.0"/><rect x="603.5" y="77.1" width="1.0" height="1.0"/><rect x="603.2" y="81.7" width="1.0" height="1.0"/><rect x="603.7" y="78.9" width="1.0" height="1.0"/><rect x="604.3" y="76.5" width="1.0" height="1.0"/><rect x="603.9" y="75.3" width="1.0" height="1.0"/><rect x="604.2" y="77.8" width="1.0" height="1.0"/><rect x="604.7" y="77.8" width="1.0" height="1.0"/><rect x="603.7" y="75.3" width="1.0" height="1.0"/><rect x="604.0" y="77.3" width="1.0" height="1.0"/><rect x="604.7" y="76.3" width="1.0" height="1.0"/><rect x="603.2" y="79.5" width="1.0" height="1.0"/><rect x="604.2" y="77.9" width="1.0" height="1.0"/><rect x="604.1" y="80.7" width="1.0" height="1.0"/><rect x="604.2" y="76.1" width="1.0" height="1.0"/><rect x="603.9" y="74.8" width="1.0" height="1.0"/><rect x="604.4" y="75.1" width="1.0" height="1.0"/><rect x="604.8" y="79.6" width="1.0" height="1.0"/><rect x="603.9" y="77.2" width="1.0" height="1.0"/><rect x="604.4" y="76.8" width="1.0" height="1.0"/><rect x="604.2" y="75.4" width="1.0" height="1.0"/></g>
<g fill="#2a2a9a" fill-opacity="0.4"><rect x="604.2" y="77.1" width="1.0" height="1.0"/><rect x="603.6" y="78.5" width="1.0" height="1.0"/><rect x="603.2" y="76.9" width="1.0" height="1.0"/><rect x="603.7" y="75.8" width="1.0" height="1.0"/><rect x="603.7" y="80.3" width="1.0" height="1.0"/><rect x="603.8" y="78.5" width="1.0" height="1.0"/><rect x="604.1" y="74.8" width="1.0" height="1.0"/><rect x="604.1" y="82.5" width="1.0" height="1.0"/><rect x="604.1" y="80.8" width="1.0" height="1.0"/><rect x="604.7" y="80.2" width="1.0" height="1.0"/><rect x="603.6" y="74.0" width="1.0" height="1.0"/><rect x="603.9" y="74.4" width="1.0" height="1.0"/><rect x="603.6" y="77.0" width="1.0" height="1.0"/><rect x="604.6" y="79.1" width="1.0" height="1.0"/><rect x="604.6" y="81.2" width="1.0" height="1.0"/><rect x="604.1" y="78.2" width="1.0" height="1.0"/><rect x="604.3" y="81.4" width="1.0" height="1.0"/><rect x="603.8" y="80.3" width="1.0" height="1.0"/><rect x="603.6" y="77.0" width="1.0" height="1.0"/><rect x="603.6" y="81.0" width="1.0" height="1.0"/><rect x="604.0" y="78.4" width="1.0" height="1.0"/><rect x="603.8" y="77.7" width="1.0" height="1.0"/><rect x="603.6" y="79.0" width="1.0" height="1.0"/><rect x="604.4" y="78.3" width="1.0" height="1.0"/><rect x="604.4" y="76.7" width="1.0" height="1.0"/><rect x="604.6" y="80.9" width="1.0" height="1.0"/><rect x="604.6" y="75.9" width="1.0" height="1.0"/><rect x="604.5" y="80.4" width="1.0" height="1.0"/><rect x="603.9" y="80.3" width="1.0" height="1.0"/><rect x="604.0" y="80.2" width="1.0" height="1.0"/><rect x="603.7" y="76.9" width="1.0" height="1.0"/><rect x="603.8" y="76.9" width="1.0" height="1.0"/><rect x="604.0" y="74.2" width="1.0" height="1.0"/><rect x="604.2" y="74.7" width="1.0" height="1.0"/><rect x="604.4" y="81.3" width="1.0" height="1.0"/><rect x="604.5" y="81.8" width="1.0" height="1.0"/><rect x="603.9" y="83.6" width="1.0" height="1.0"/><rect x="603.8" y="76.0" width="1.0" height="1.0"/><rect x="604.4" y="75.7" width="1.0" height="1.0"/><rect x="603.9" y="72.5" width="1.0" height="1.0"/><rect x="604.2" y="80.2" width="1.0" height="1.0"/><rect x="603.5" y="80.1" width="1.0" height="1.0"/><rect x="603.9" y="77.0" width="1.0" height="1.0"/><rect x="604.1" y="79.2" width="1.0" height="1.0"/><rect x="603.4" y="81.5" width="1.0" height="1.0"/><rect x="604.8" y="78.7" width="1.0" height="1.0"/><rect x="604.0" y="81.1" width="1.0" height="1.0"/><rect x="603.8" y="80.1" width="1.0" height="1.0"/><rect x="603.7" y="81.2" width="1.0" height="1.0"/><rect x="604.0" y="80.0" width="1.0" height="1.0"/><rect x="604.0" y="76.2" width="1.0" height="1.0"/><rect x="603.6" y="77.9" width="1.0" height="1.0"/><rect x="603.6" y="78.4" width="1.0" height="1.0"/><rect x="604.1" y="80.7" width="1.0" height="1.0"/><rect x="604.2" y="80.4" width="1.0" height="1.0"/><rect x="603.4" y="78.7" width="1.0" height="1.0"/><rect x="603.9" y="77.3" width="1.0" height="1.0"/><rect x="603.9" y="76.9" width="1.0" height="1.0"/><rect x="603.7" y="77.2" width="1.0" height="1.0"/><rect x="603.7" y="76.0" width="1.0" height="1.0"/><rect x="604.3" y="75.5" width="1.0" height="1.0"/><rect x="604.1" y="78.7" width="1.0" height="1.0"/><rect x="603.8" y="79.9" width="1.0" height="1.0"/><rect x="603.2" y="80.6" width="1.0" height="1.0"/><rect x="603.9" y="76.6" width="1.0" height="1.0"/><rect x="604.4" y="82.0" width="1.0" height="1.0"/><rect x="604.2" y="80.0" width="1.0" height="1.0"/><rect x="603.9" y="76.8" width="1.0" height="1.0"/><rect x="603.9" y="76.6" width="1.0" height="1.0"/><rect x="603.8" y="75.2" width="1.0" height="1.0"/><rect x="604.1" y="76.9" width="1.0" height="1.0"/><rect x="604.1" y="76.6" width="1.0" height="1.0"/><rect x="604.1" y="79.2" width="1.0" height="1.0"/><rect x="603.6" y="79.9" width="1.0" height="1.0"/><rect x="603.9" y="78.3" width="1.0" height="1.0"/><rect x="603.7" y="80.5" width="1.0" height="1.0"/><rect x="603.4" y="78.7" width="1.0" height="1.0"/><rect x="603.6" y="77.3" width="1.0" height="1.0"/><rect x="603.7" y="78.0" width="1.0" height="1.0"/><rect x="604.0" y="77.9" width="1.0" height="1.0"/><rect x="604.2" y="75.7" width="1.0" height="1.0"/><rect x="604.7" y="76.6" width="1.0" height="1.0"/><rect x="604.2" y="80.6" width="1.0" height="1.0"/><rect x="604.4" y="78.3" width="1.0" height="1.0"/><rect x="603.3" y="78.7" width="1.0" height="1.0"/><rect x="604.0" y="79.6" width="1.0" height="1.0"/><rect x="603.2" y="72.4" width="1.0" height="1.0"/><rect x="604.0" y="81.1" width="1.0" height="1.0"/><rect x="603.2" y="76.4" width="1.0" height="1.0"/><rect x="604.5" y="75.6" width="1.0" height="1.0"/><rect x="604.1" y="72.7" width="1.0" height="1.0"/><rect x="604.0" y="83.6" width="1.0" height="1.0"/><rect x="604.1" y="75.9" width="1.0" height="1.0"/><rect x="604.1" y="79.5" width="1.0" height="1.0"/><rect x="603.3" y="77.6" width="1.0" height="1.0"/><rect x="604.2" y="79.2" width="1.0" height="1.0"/><rect x="604.1" y="79.0" width="1.0" height="1.0"/><rect x="604.3" y="78.4" width="1.0" height="1.0"/><rect x="603.7" y="81.4" width="1.0" height="1.0"/><rect x="604.0" y="75.2" width="1.0" height="1.0"/><rect x="603.0" y="78.9" width="1.0" height="1.0"/><rect x="603.3" y="78.0" width="1.0" height="1.0"/><rect x="604.4" y="79.0" width="1.0" height="1.0"/><rect x="603.3" y="80.3" width="1.0" height="1.0"/><rect x="604.2" y="81.1" width="1.0" height="1.0"/><rect x="604.1" y="77.1" width="1.0" height="1.0"/><rect x="603.8" y="81.4" width="1.0" height="1.0"/><rect x="603.7" y="77.9" width="1.0" height="1.0"/><rect x="603.1" y="80.6" width="1.0" height="1.0"/><rect x="603.5" y="81.2" width="1.0" height="1.0"/></g>
<polyline fill="none" stroke="#ff0000" stroke-opacity="0.72" stroke-width="1.1" points="477.6,106.2 548.8,104.1 604.4,78.3"/>
<polyline fill="none" stroke="#000080" stroke-opacity="0.66" stroke-width="1.2" points="477.6,123.5 548.8,104.1 604.4,78.3"/>
<rect x="476.6" y="105.2" width="2.0" height="2.0" fill="#ff1a1a"/>
<rect x="547.8" y="103.1" width="2.0" height="2.0" fill="#ff1a1a"/>
<rect x="603.4" y="77.3" width="2.0" height="2.0" fill="#ff1a1a"/>
<rect x="476.6" y="122.5" width="2.0" height="2.0" fill="#1a1a80"/>
<rect x="547.8" y="103.1" width="2.0" height="2.0" fill="#1a1a80"/>
<rect x="603.4" y="77.3" width="2.0" height="2.0" fill="#1a1a80"/>
<rect x="49.5" y="166.8" width="79.0" height="59.79999999999998" fill="#fff" stroke="#858585" stroke-width="1"/>
<path d="M84.00,226.60 L84.00,223.20 L86.63,223.20 L86.63,219.80 L89.26,219.80 L89.26,210.10 L91.89,210.10 L91.89,203.90 L94.52,203.90 L94.52,200.50 L97.15,200.50 L97.15,195.90 L99.78,195.90 L99.78,189.10 L102.41,189.10 L102.41,202.70 L105.04,202.70 L105.04,213.00 L107.67,213.00 L107.67,219.80 L110.30,219.80 L110.30,222.00 L112.93,222.00 L112.93,223.75 L115.56,223.75 L115.56,224.90 L118.19,224.90 L118.19,226.20 L120.82,226.20 L120.82,226.60 Z " fill="#000080" fill-opacity="0.7"/>
<path d="M86.63,226.60 L86.63,226.00 L89.26,226.00 L89.26,226.00 L91.89,226.00 L91.89,222.00 L94.52,222.00 L94.52,221.50 L97.15,221.50 L97.15,206.10 L99.78,206.10 L99.78,198.20 L102.41,198.20 L102.41,189.10 L105.04,189.10 L105.04,194.20 L107.67,194.20 L107.67,195.90 L110.30,195.90 L110.30,210.10 L112.93,210.10 L112.93,211.80 L115.56,211.80 L115.56,223.75 L118.19,223.75 L118.19,226.00 L120.82,226.00 L120.82,226.60 Z " fill="#ff0000" fill-opacity="0.7"/>
<rect x="49.5" y="166.8" width="79.0" height="59.79999999999998" fill="none" stroke="#858585" stroke-width="1"/>
<g font-family="'Liberation Serif', serif" font-size="5.6" fill="#222"><text x="49.50" y="233.6" text-anchor="middle">−0.4</text><text x="75.83" y="233.6" text-anchor="middle">−0.3</text><text x="102.17" y="233.6" text-anchor="middle">−0.2</text><text x="128.50" y="233.6" text-anchor="middle">−0.1</text></g>
<text x="126.50" y="175.80" text-anchor="end" font-family="'Liberation Serif', serif" font-size="6.6" fill="#111">−0.190<tspan dx="0.9">±</tspan><tspan dx="0.9">0.021</tspan></text>
<text x="53.70" y="184.80" font-family="'Liberation Serif', serif" font-size="6.6" fill="#111">−0.213<tspan dx="0.9">±</tspan><tspan dx="0.9">0.024</tspan></text>
<rect x="142.5" y="166.8" width="79.0" height="59.79999999999998" fill="#fff" stroke="#858585" stroke-width="1"/>
<path d="M180.10,226.60 L180.10,225.90 L183.07,225.90 L183.07,221.80 L186.04,221.80 L186.04,215.70 L189.01,215.70 L189.01,206.00 L191.98,206.00 L191.98,197.80 L194.95,197.80 L194.95,198.30 L197.92,198.30 L197.92,204.90 L200.89,204.90 L200.89,220.30 L203.86,220.30 L203.86,220.80 L206.83,220.80 L206.83,225.40 L209.80,225.40 L209.80,226.60 Z " fill="#000080" fill-opacity="0.7"/>
<path d="M180.10,226.60 L180.10,226.20 L183.07,226.20 L183.07,223.90 L186.04,223.90 L186.04,211.10 L189.01,211.10 L189.01,198.30 L191.98,198.30 L191.98,194.20 L194.95,194.20 L194.95,197.80 L197.92,197.80 L197.92,213.60 L200.89,213.60 L200.89,219.80 L203.86,219.80 L203.86,225.90 L206.83,225.90 L206.83,226.20 L209.80,226.20 L209.80,226.60 Z " fill="#ff0000" fill-opacity="0.7"/>
<rect x="142.5" y="166.8" width="79.0" height="59.79999999999998" fill="none" stroke="#858585" stroke-width="1"/>
<g font-family="'Liberation Serif', serif" font-size="5.6" fill="#222"><text x="142.50" y="233.6" text-anchor="middle">−0.30</text><text x="162.25" y="233.6" text-anchor="middle">−0.25</text><text x="182.00" y="233.6" text-anchor="middle">−0.20</text><text x="201.75" y="233.6" text-anchor="middle">−0.15</text><text x="221.50" y="233.6" text-anchor="middle">−0.10</text></g>
<text x="219.50" y="175.80" text-anchor="end" font-family="'Liberation Serif', serif" font-size="6.6" fill="#111">−0.171<tspan dx="0.9">±</tspan><tspan dx="0.9">0.011</tspan></text>
<text x="146.70" y="184.80" font-family="'Liberation Serif', serif" font-size="6.6" fill="#111">−0.168<tspan dx="0.9">±</tspan><tspan dx="0.9">0.013</tspan></text>
<rect x="235.5" y="166.8" width="79.0" height="59.79999999999998" fill="#fff" stroke="#858585" stroke-width="1"/>
<path d="M268.10,226.60 L268.10,225.90 L271.06,225.90 L271.06,225.40 L274.02,225.40 L274.02,215.70 L276.98,215.70 L276.98,197.30 L279.94,197.30 L279.94,198.80 L282.90,198.80 L282.90,199.80 L285.86,199.80 L285.86,212.60 L288.82,212.60 L288.82,223.30 L291.78,223.30 L291.78,226.60 Z " fill="#000080" fill-opacity="0.7"/>
<path d="M268.10,226.60 L268.10,226.20 L271.06,226.20 L271.06,224.90 L274.02,224.90 L274.02,217.70 L276.98,217.70 L276.98,202.90 L279.94,202.90 L279.94,191.10 L282.90,191.10 L282.90,192.20 L285.86,192.20 L285.86,217.70 L288.82,217.70 L288.82,222.80 L291.78,222.80 L291.78,226.60 Z " fill="#ff0000" fill-opacity="0.7"/>
<rect x="235.5" y="166.8" width="79.0" height="59.79999999999998" fill="none" stroke="#858585" stroke-width="1"/>
<g font-family="'Liberation Serif', serif" font-size="5.6" fill="#222"><text x="235.50" y="233.6" text-anchor="middle">−0.25</text><text x="255.25" y="233.6" text-anchor="middle">−0.20</text><text x="275.00" y="233.6" text-anchor="middle">−0.15</text><text x="294.75" y="233.6" text-anchor="middle">−0.10</text><text x="314.50" y="233.6" text-anchor="middle">−0.05</text></g>
<text x="312.50" y="175.80" text-anchor="end" font-family="'Liberation Serif', serif" font-size="6.6" fill="#111">−0.132<tspan dx="0.9">±</tspan><tspan dx="0.9">0.009</tspan></text>
<text x="239.70" y="184.80" font-family="'Liberation Serif', serif" font-size="6.6" fill="#111">−0.133<tspan dx="0.9">±</tspan><tspan dx="0.9">0.011</tspan></text>
<rect x="389.5" y="166.8" width="79.0" height="59.79999999999998" fill="#fff" stroke="#858585" stroke-width="1"/>
<path d="M417.84,226.60 L417.84,225.68 L419.55,225.68 L419.55,226.60 Z M422.39,226.60 L422.39,225.23 L424.09,225.23 L424.09,223.75 L425.80,223.75 L425.80,216.36 L427.50,216.36 L427.50,202.16 L429.20,202.16 L429.20,201.59 L430.57,201.59 L430.57,194.20 L432.05,194.20 L432.05,199.32 L433.75,199.32 L433.75,199.32 L436.59,199.32 L436.59,211.82 L437.73,211.82 L437.73,216.36 L439.43,216.36 L439.43,222.05 L441.14,222.05 L441.14,224.89 L442.84,224.89 L442.84,226.60 Z " fill="#000080" fill-opacity="0.7"/>
<path d="M440.57,226.60 L440.57,222.05 L442.84,222.05 L442.84,210.68 L444.55,210.68 L444.55,194.77 L445.91,194.77 L445.91,202.73 L447.39,202.73 L447.39,194.77 L448.75,194.77 L448.75,185.68 L449.89,185.68 L449.89,186.25 L451.36,186.25 L451.36,205.00 L453.07,205.00 L453.07,216.36 L454.77,216.36 L454.77,224.89 L456.14,224.89 L456.14,226.60 Z M457.27,226.60 L457.27,225.23 L458.75,225.23 L458.75,226.60 Z " fill="#ff0000" fill-opacity="0.7"/>
<rect x="389.5" y="166.8" width="79.0" height="59.79999999999998" fill="none" stroke="#858585" stroke-width="1"/>
<g font-family="'Liberation Serif', serif" font-size="5.6" fill="#222"><text x="389.50" y="233.6" text-anchor="middle">−0.30</text><text x="409.25" y="233.6" text-anchor="middle">−0.25</text><text x="429.00" y="233.6" text-anchor="middle">−0.20</text><text x="448.75" y="233.6" text-anchor="middle">−0.15</text><text x="468.50" y="233.6" text-anchor="middle">−0.10</text></g>
<text x="466.50" y="175.80" text-anchor="end" font-family="'Liberation Serif', serif" font-size="6.6" fill="#111">−0.149<tspan dx="0.9">±</tspan><tspan dx="0.9">0.008</tspan></text>
<text x="393.70" y="184.80" font-family="'Liberation Serif', serif" font-size="6.6" fill="#111">−0.189<tspan dx="0.9">±</tspan><tspan dx="0.9">0.010</tspan></text>
<rect x="482.5" y="166.8" width="79.0" height="59.79999999999998" fill="#fff" stroke="#858585" stroke-width="1"/>
<path d="M502.09,226.60 L502.09,226.10 L504.13,226.10 L504.13,225.90 L506.18,225.90 L506.18,223.85 L508.22,223.85 L508.22,220.79 L510.07,220.79 L510.07,215.16 L512.11,215.16 L512.11,204.94 L514.16,204.94 L514.16,210.56 L515.89,210.56 L515.89,200.34 L517.94,200.34 L517.94,200.34 L519.98,200.34 L519.98,204.43 L522.03,204.43 L522.03,202.89 L524.07,202.89 L524.07,215.67 L526.12,215.67 L526.12,224.37 L528.16,224.37 L528.16,221.81 L530.21,221.81 L530.21,226.41 L532.25,226.41 L532.25,225.90 L533.79,225.90 L533.79,226.60 Z " fill="#000080" fill-opacity="0.7"/>
<path d="M502.09,226.60 L502.09,225.90 L504.13,225.90 L504.13,226.41 L506.18,226.41 L506.18,222.83 L508.22,222.83 L508.22,221.81 L510.07,221.81 L510.07,214.14 L512.11,214.14 L512.11,211.58 L514.16,211.58 L514.16,204.94 L515.89,204.94 L515.89,198.80 L517.94,198.80 L517.94,194.71 L519.98,194.71 L519.98,200.85 L522.03,200.85 L522.03,215.67 L524.07,215.67 L524.07,214.14 L526.12,214.14 L526.12,221.81 L528.16,221.81 L528.16,225.39 L530.21,225.39 L530.21,226.60 Z " fill="#ff0000" fill-opacity="0.7"/>
<rect x="482.5" y="166.8" width="79.0" height="59.79999999999998" fill="none" stroke="#858585" stroke-width="1"/>
<g font-family="'Liberation Serif', serif" font-size="5.6" fill="#222"><text x="482.50" y="233.6" text-anchor="middle">−0.18</text><text x="502.25" y="233.6" text-anchor="middle">−0.16</text><text x="522.00" y="233.6" text-anchor="middle">−0.14</text><text x="541.75" y="233.6" text-anchor="middle">−0.12</text><text x="561.50" y="233.6" text-anchor="middle">−0.10</text></g>
<text x="559.50" y="175.80" text-anchor="end" font-family="'Liberation Serif', serif" font-size="6.6" fill="#111">−0.144<tspan dx="0.9">±</tspan><tspan dx="0.9">0.005</tspan></text>
<text x="486.70" y="184.80" font-family="'Liberation Serif', serif" font-size="6.6" fill="#111">−0.144<tspan dx="0.9">±</tspan><tspan dx="0.9">0.005</tspan></text>
<rect x="575.5" y="166.8" width="79.0" height="59.79999999999998" fill="#fff" stroke="#858585" stroke-width="1"/>
<path d="M595.00,226.60 L595.00,226.36 L596.82,226.36 L596.82,226.60 Z M600.91,226.60 L600.91,223.18 L602.73,223.18 L602.73,218.18 L604.73,218.18 L604.73,210.00 L606.82,210.00 L606.82,200.91 L608.64,200.91 L608.64,202.73 L610.73,202.73 L610.73,203.64 L612.73,203.64 L612.73,205.00 L614.73,205.00 L614.73,217.27 L616.82,217.27 L616.82,221.36 L618.91,221.36 L618.91,221.82 L620.91,221.82 L620.91,225.91 L622.91,225.91 L622.91,226.55 L625.00,226.55 L625.00,226.60 Z M626.82,226.60 L626.82,226.36 L628.64,226.36 L628.64,226.60 Z " fill="#000080" fill-opacity="0.7"/>
<path d="M598.64,226.60 L598.64,225.45 L600.91,225.45 L600.91,224.09 L602.73,224.09 L602.73,222.73 L604.73,222.73 L604.73,210.45 L606.82,210.45 L606.82,203.64 L608.64,203.64 L608.64,199.09 L610.73,199.09 L610.73,203.18 L612.73,203.18 L612.73,204.55 L614.73,204.55 L614.73,212.73 L616.82,212.73 L616.82,215.91 L618.91,215.91 L618.91,223.64 L620.91,223.64 L620.91,226.36 L622.91,226.36 L622.91,226.60 Z " fill="#ff0000" fill-opacity="0.7"/>
<rect x="575.5" y="166.8" width="79.0" height="59.79999999999998" fill="none" stroke="#858585" stroke-width="1"/>
<g font-family="'Liberation Serif', serif" font-size="5.6" fill="#222"><text x="575.50" y="233.6" text-anchor="middle">−0.12</text><text x="595.25" y="233.6" text-anchor="middle">−0.10</text><text x="615.00" y="233.6" text-anchor="middle">−0.08</text><text x="634.75" y="233.6" text-anchor="middle">−0.06</text><text x="654.50" y="233.6" text-anchor="middle">−0.04</text></g>
<text x="652.50" y="175.80" text-anchor="end" font-family="'Liberation Serif', serif" font-size="6.6" fill="#111">−0.084<tspan dx="0.9">±</tspan><tspan dx="0.9">0.004</tspan></text>
<text x="579.70" y="184.80" font-family="'Liberation Serif', serif" font-size="6.6" fill="#111">−0.084<tspan dx="0.9">±</tspan><tspan dx="0.9">0.005</tspan></text>
<rect x="126.5" y="265.6" width="192.5" height="15.6" fill="#fff" fill-opacity="0.9" stroke="#ececec" stroke-width="1" rx="1.5"/>
<line x1="130.3" y1="272.5" x2="150" y2="272.5" stroke="#cc48dc" stroke-width="1.45"/>
<text x="157.8" y="275.5" font-family="'Liberation Serif', serif" fill="#111"><tspan font-style="italic" font-size="9.2" dx="0.5">δ</tspan><tspan font-size="6.6" dy="1.9" dx="0.3">AQUAL<tspan dx="1.5">−</tspan><tspan dx="1.5">Newton</tspan></tspan><tspan font-size="9.7" dy="-1.9" dx="2.5">(circular orbit prediction)</tspan></text>
<line x1="40.5" y1="363.77" x2="323.5" y2="363.77" stroke="#1a1a1a" stroke-width="1.3" stroke-dasharray="4,2.6"/>
<g fill="#ff2020" fill-opacity="0.6"><rect x="136.1" y="371.0" width="1.3" height="1.3"/><rect x="136.9" y="334.1" width="1.3" height="1.3"/><rect x="136.1" y="369.1" width="1.3" height="1.3"/><rect x="136.9" y="364.6" width="1.3" height="1.3"/><rect x="137.1" y="377.3" width="1.3" height="1.3"/><rect x="137.2" y="362.3" width="1.3" height="1.3"/><rect x="137.1" y="388.2" width="1.3" height="1.3"/><rect x="138.9" y="352.2" width="1.3" height="1.3"/><rect x="137.9" y="354.2" width="1.3" height="1.3"/><rect x="137.5" y="338.0" width="1.3" height="1.3"/><rect x="137.4" y="368.7" width="1.3" height="1.3"/><rect x="136.6" y="347.6" width="1.3" height="1.3"/><rect x="136.0" y="360.4" width="1.3" height="1.3"/><rect x="135.6" y="332.5" width="1.3" height="1.3"/><rect x="136.6" y="362.3" width="1.3" height="1.3"/><rect x="138.0" y="378.3" width="1.3" height="1.3"/><rect x="136.7" y="362.3" width="1.3" height="1.3"/><rect x="136.5" y="320.2" width="1.3" height="1.3"/><rect x="137.3" y="353.2" width="1.3" height="1.3"/><rect x="137.4" y="348.9" width="1.3" height="1.3"/><rect x="138.3" y="381.6" width="1.3" height="1.3"/><rect x="137.9" y="328.1" width="1.3" height="1.3"/><rect x="137.5" y="334.7" width="1.3" height="1.3"/><rect x="138.1" y="357.0" width="1.3" height="1.3"/><rect x="136.4" y="368.7" width="1.3" height="1.3"/><rect x="137.7" y="350.3" width="1.3" height="1.3"/><rect x="138.6" y="348.4" width="1.3" height="1.3"/><rect x="137.8" y="324.3" width="1.3" height="1.3"/><rect x="137.0" y="356.3" width="1.3" height="1.3"/><rect x="137.1" y="350.2" width="1.3" height="1.3"/><rect x="136.9" y="358.5" width="1.3" height="1.3"/><rect x="139.3" y="345.7" width="1.3" height="1.3"/><rect x="137.8" y="343.1" width="1.3" height="1.3"/><rect x="136.6" y="374.4" width="1.3" height="1.3"/><rect x="136.9" y="368.9" width="1.3" height="1.3"/><rect x="137.4" y="353.2" width="1.3" height="1.3"/><rect x="137.3" y="366.0" width="1.3" height="1.3"/><rect x="136.9" y="358.6" width="1.3" height="1.3"/><rect x="137.3" y="352.1" width="1.3" height="1.3"/><rect x="139.1" y="375.1" width="1.3" height="1.3"/><rect x="137.8" y="316.6" width="1.3" height="1.3"/><rect x="138.1" y="352.6" width="1.3" height="1.3"/><rect x="138.0" y="373.7" width="1.3" height="1.3"/><rect x="136.6" y="368.7" width="1.3" height="1.3"/><rect x="138.6" y="318.8" width="1.3" height="1.3"/><rect x="136.6" y="376.6" width="1.3" height="1.3"/><rect x="137.9" y="378.3" width="1.3" height="1.3"/><rect x="138.0" y="340.7" width="1.3" height="1.3"/><rect x="136.4" y="337.2" width="1.3" height="1.3"/><rect x="138.0" y="334.8" width="1.3" height="1.3"/><rect x="135.8" y="332.6" width="1.3" height="1.3"/><rect x="137.4" y="333.0" width="1.3" height="1.3"/><rect x="137.3" y="359.6" width="1.3" height="1.3"/><rect x="136.3" y="368.5" width="1.3" height="1.3"/><rect x="137.0" y="331.6" width="1.3" height="1.3"/><rect x="135.7" y="352.9" width="1.3" height="1.3"/><rect x="136.0" y="348.1" width="1.3" height="1.3"/><rect x="137.5" y="370.5" width="1.3" height="1.3"/><rect x="138.9" y="385.9" width="1.3" height="1.3"/><rect x="137.1" y="361.6" width="1.3" height="1.3"/><rect x="136.8" y="329.6" width="1.3" height="1.3"/><rect x="137.6" y="372.3" width="1.3" height="1.3"/><rect x="136.2" y="352.2" width="1.3" height="1.3"/><rect x="138.7" y="345.9" width="1.3" height="1.3"/><rect x="138.3" y="346.0" width="1.3" height="1.3"/><rect x="138.4" y="365.5" width="1.3" height="1.3"/><rect x="136.2" y="363.1" width="1.3" height="1.3"/><rect x="138.8" y="313.9" width="1.3" height="1.3"/><rect x="136.2" y="344.7" width="1.3" height="1.3"/><rect x="137.8" y="350.5" width="1.3" height="1.3"/><rect x="136.7" y="318.3" width="1.3" height="1.3"/><rect x="136.6" y="357.8" width="1.3" height="1.3"/><rect x="138.1" y="368.5" width="1.3" height="1.3"/><rect x="137.0" y="361.5" width="1.3" height="1.3"/><rect x="136.9" y="351.7" width="1.3" height="1.3"/><rect x="137.6" y="350.1" width="1.3" height="1.3"/><rect x="138.1" y="346.7" width="1.3" height="1.3"/><rect x="136.9" y="325.6" width="1.3" height="1.3"/><rect x="139.1" y="334.6" width="1.3" height="1.3"/><rect x="138.0" y="358.5" width="1.3" height="1.3"/><rect x="137.5" y="343.5" width="1.3" height="1.3"/><rect x="138.1" y="351.3" width="1.3" height="1.3"/><rect x="138.7" y="312.7" width="1.3" height="1.3"/><rect x="137.9" y="351.2" width="1.3" height="1.3"/><rect x="136.9" y="371.6" width="1.3" height="1.3"/><rect x="136.4" y="367.9" width="1.3" height="1.3"/><rect x="136.7" y="355.9" width="1.3" height="1.3"/><rect x="138.4" y="372.7" width="1.3" height="1.3"/><rect x="137.5" y="326.7" width="1.3" height="1.3"/><rect x="136.2" y="336.2" width="1.3" height="1.3"/><rect x="138.1" y="349.5" width="1.3" height="1.3"/><rect x="136.9" y="374.6" width="1.3" height="1.3"/><rect x="138.4" y="345.7" width="1.3" height="1.3"/><rect x="138.7" y="350.5" width="1.3" height="1.3"/><rect x="137.7" y="390.0" width="1.3" height="1.3"/><rect x="137.0" y="335.0" width="1.3" height="1.3"/><rect x="137.1" y="367.7" width="1.3" height="1.3"/><rect x="137.7" y="353.0" width="1.3" height="1.3"/><rect x="136.9" y="319.7" width="1.3" height="1.3"/><rect x="136.6" y="343.4" width="1.3" height="1.3"/><rect x="137.0" y="356.2" width="1.3" height="1.3"/><rect x="138.4" y="342.3" width="1.3" height="1.3"/><rect x="137.1" y="381.3" width="1.3" height="1.3"/><rect x="136.1" y="340.0" width="1.3" height="1.3"/><rect x="138.5" y="314.1" width="1.3" height="1.3"/><rect x="136.6" y="351.8" width="1.3" height="1.3"/><rect x="138.3" y="323.5" width="1.3" height="1.3"/><rect x="137.8" y="344.9" width="1.3" height="1.3"/><rect x="136.6" y="370.2" width="1.3" height="1.3"/><rect x="137.2" y="322.2" width="1.3" height="1.3"/><rect x="137.1" y="361.6" width="1.3" height="1.3"/><rect x="137.6" y="348.6" width="1.3" height="1.3"/><rect x="137.8" y="331.8" width="1.3" height="1.3"/><rect x="136.4" y="370.9" width="1.3" height="1.3"/><rect x="137.0" y="334.1" width="1.3" height="1.3"/><rect x="137.1" y="337.9" width="1.3" height="1.3"/><rect x="136.2" y="373.0" width="1.3" height="1.3"/><rect x="137.0" y="358.9" width="1.3" height="1.3"/><rect x="136.2" y="336.3" width="1.3" height="1.3"/><rect x="137.3" y="387.2" width="1.3" height="1.3"/><rect x="135.9" y="351.0" width="1.3" height="1.3"/><rect x="136.0" y="327.5" width="1.3" height="1.3"/><rect x="138.3" y="374.5" width="1.3" height="1.3"/><rect x="136.3" y="344.5" width="1.3" height="1.3"/><rect x="137.6" y="351.4" width="1.3" height="1.3"/><rect x="136.4" y="322.0" width="1.3" height="1.3"/><rect x="137.9" y="350.6" width="1.3" height="1.3"/><rect x="137.7" y="354.1" width="1.3" height="1.3"/><rect x="135.4" y="327.6" width="1.3" height="1.3"/><rect x="136.6" y="358.9" width="1.3" height="1.3"/><rect x="137.1" y="350.2" width="1.3" height="1.3"/><rect x="136.7" y="362.3" width="1.3" height="1.3"/><rect x="137.4" y="381.7" width="1.3" height="1.3"/><rect x="137.8" y="363.3" width="1.3" height="1.3"/><rect x="137.7" y="373.5" width="1.3" height="1.3"/><rect x="136.9" y="317.4" width="1.3" height="1.3"/><rect x="137.7" y="390.1" width="1.3" height="1.3"/><rect x="137.7" y="363.9" width="1.3" height="1.3"/><rect x="136.8" y="339.7" width="1.3" height="1.3"/><rect x="138.3" y="339.6" width="1.3" height="1.3"/><rect x="138.7" y="360.0" width="1.3" height="1.3"/><rect x="138.8" y="362.7" width="1.3" height="1.3"/><rect x="136.4" y="361.9" width="1.3" height="1.3"/><rect x="137.6" y="387.8" width="1.3" height="1.3"/><rect x="137.5" y="376.7" width="1.3" height="1.3"/><rect x="137.5" y="346.0" width="1.3" height="1.3"/><rect x="136.4" y="330.0" width="1.3" height="1.3"/><rect x="136.9" y="334.7" width="1.3" height="1.3"/><rect x="137.3" y="325.2" width="1.3" height="1.3"/><rect x="138.9" y="358.8" width="1.3" height="1.3"/></g>
<g fill="#ff2020" fill-opacity="0.6"><rect x="208.9" y="385.7" width="1.3" height="1.3"/><rect x="208.8" y="374.1" width="1.3" height="1.3"/><rect x="208.9" y="368.1" width="1.3" height="1.3"/><rect x="209.0" y="356.8" width="1.3" height="1.3"/><rect x="209.2" y="345.4" width="1.3" height="1.3"/><rect x="208.3" y="359.8" width="1.3" height="1.3"/><rect x="209.3" y="359.0" width="1.3" height="1.3"/><rect x="209.2" y="355.1" width="1.3" height="1.3"/><rect x="209.9" y="370.3" width="1.3" height="1.3"/><rect x="208.9" y="350.1" width="1.3" height="1.3"/><rect x="209.8" y="369.6" width="1.3" height="1.3"/><rect x="209.4" y="366.5" width="1.3" height="1.3"/><rect x="208.6" y="345.5" width="1.3" height="1.3"/><rect x="208.8" y="383.6" width="1.3" height="1.3"/><rect x="208.5" y="374.9" width="1.3" height="1.3"/><rect x="208.7" y="362.5" width="1.3" height="1.3"/><rect x="209.0" y="363.9" width="1.3" height="1.3"/><rect x="208.2" y="376.3" width="1.3" height="1.3"/><rect x="208.6" y="356.7" width="1.3" height="1.3"/><rect x="209.2" y="358.8" width="1.3" height="1.3"/><rect x="207.6" y="337.6" width="1.3" height="1.3"/><rect x="209.1" y="362.1" width="1.3" height="1.3"/><rect x="209.5" y="368.6" width="1.3" height="1.3"/><rect x="208.3" y="381.4" width="1.3" height="1.3"/><rect x="209.0" y="357.8" width="1.3" height="1.3"/><rect x="209.2" y="369.0" width="1.3" height="1.3"/><rect x="208.3" y="365.8" width="1.3" height="1.3"/><rect x="208.9" y="378.7" width="1.3" height="1.3"/><rect x="209.1" y="340.6" width="1.3" height="1.3"/><rect x="209.2" y="367.5" width="1.3" height="1.3"/><rect x="208.7" y="349.8" width="1.3" height="1.3"/><rect x="209.4" y="365.7" width="1.3" height="1.3"/><rect x="209.1" y="374.3" width="1.3" height="1.3"/><rect x="208.4" y="360.1" width="1.3" height="1.3"/><rect x="208.4" y="362.0" width="1.3" height="1.3"/><rect x="207.9" y="372.4" width="1.3" height="1.3"/><rect x="209.0" y="364.7" width="1.3" height="1.3"/><rect x="209.7" y="367.0" width="1.3" height="1.3"/><rect x="209.0" y="362.1" width="1.3" height="1.3"/><rect x="208.0" y="373.9" width="1.3" height="1.3"/><rect x="209.0" y="359.8" width="1.3" height="1.3"/><rect x="208.5" y="375.1" width="1.3" height="1.3"/><rect x="209.2" y="373.2" width="1.3" height="1.3"/><rect x="208.1" y="345.1" width="1.3" height="1.3"/><rect x="209.0" y="345.7" width="1.3" height="1.3"/><rect x="209.4" y="365.9" width="1.3" height="1.3"/><rect x="208.6" y="373.4" width="1.3" height="1.3"/><rect x="209.4" y="376.5" width="1.3" height="1.3"/><rect x="209.2" y="369.2" width="1.3" height="1.3"/><rect x="209.2" y="347.5" width="1.3" height="1.3"/><rect x="208.2" y="350.6" width="1.3" height="1.3"/><rect x="209.0" y="359.0" width="1.3" height="1.3"/><rect x="208.8" y="362.7" width="1.3" height="1.3"/><rect x="209.1" y="351.0" width="1.3" height="1.3"/><rect x="208.1" y="354.2" width="1.3" height="1.3"/><rect x="209.8" y="364.5" width="1.3" height="1.3"/><rect x="208.3" y="358.4" width="1.3" height="1.3"/><rect x="210.0" y="380.4" width="1.3" height="1.3"/><rect x="208.8" y="359.7" width="1.3" height="1.3"/><rect x="210.7" y="366.0" width="1.3" height="1.3"/><rect x="209.5" y="365.0" width="1.3" height="1.3"/><rect x="207.9" y="368.8" width="1.3" height="1.3"/><rect x="208.2" y="349.8" width="1.3" height="1.3"/><rect x="209.0" y="368.7" width="1.3" height="1.3"/><rect x="208.8" y="385.4" width="1.3" height="1.3"/><rect x="209.0" y="367.2" width="1.3" height="1.3"/><rect x="210.3" y="365.1" width="1.3" height="1.3"/><rect x="209.8" y="366.9" width="1.3" height="1.3"/><rect x="208.6" y="379.4" width="1.3" height="1.3"/><rect x="208.7" y="371.8" width="1.3" height="1.3"/><rect x="209.0" y="364.7" width="1.3" height="1.3"/><rect x="208.7" y="363.6" width="1.3" height="1.3"/><rect x="208.8" y="382.6" width="1.3" height="1.3"/><rect x="210.0" y="372.0" width="1.3" height="1.3"/><rect x="209.6" y="371.1" width="1.3" height="1.3"/><rect x="209.6" y="380.5" width="1.3" height="1.3"/><rect x="208.1" y="384.6" width="1.3" height="1.3"/><rect x="209.0" y="387.5" width="1.3" height="1.3"/><rect x="208.6" y="341.8" width="1.3" height="1.3"/><rect x="208.9" y="346.1" width="1.3" height="1.3"/><rect x="208.3" y="345.0" width="1.3" height="1.3"/><rect x="209.0" y="367.0" width="1.3" height="1.3"/><rect x="208.8" y="353.5" width="1.3" height="1.3"/><rect x="209.0" y="362.1" width="1.3" height="1.3"/><rect x="208.8" y="363.3" width="1.3" height="1.3"/><rect x="208.0" y="374.2" width="1.3" height="1.3"/><rect x="209.0" y="357.2" width="1.3" height="1.3"/><rect x="208.6" y="358.4" width="1.3" height="1.3"/><rect x="209.1" y="357.9" width="1.3" height="1.3"/><rect x="208.8" y="378.7" width="1.3" height="1.3"/></g>
<g fill="#ff2020" fill-opacity="0.6"><rect x="266.5" y="363.0" width="1.3" height="1.3"/><rect x="265.1" y="363.3" width="1.3" height="1.3"/><rect x="266.0" y="368.7" width="1.3" height="1.3"/><rect x="266.6" y="359.7" width="1.3" height="1.3"/><rect x="265.9" y="366.3" width="1.3" height="1.3"/><rect x="265.2" y="377.9" width="1.3" height="1.3"/><rect x="266.3" y="370.1" width="1.3" height="1.3"/><rect x="266.9" y="378.3" width="1.3" height="1.3"/><rect x="265.8" y="355.3" width="1.3" height="1.3"/><rect x="266.4" y="355.3" width="1.3" height="1.3"/><rect x="265.7" y="354.0" width="1.3" height="1.3"/><rect x="265.8" y="380.9" width="1.3" height="1.3"/><rect x="265.0" y="372.7" width="1.3" height="1.3"/><rect x="265.4" y="374.7" width="1.3" height="1.3"/><rect x="266.4" y="381.7" width="1.3" height="1.3"/><rect x="265.7" y="372.5" width="1.3" height="1.3"/><rect x="266.0" y="370.7" width="1.3" height="1.3"/><rect x="266.0" y="376.7" width="1.3" height="1.3"/><rect x="265.8" y="363.6" width="1.3" height="1.3"/><rect x="266.8" y="362.8" width="1.3" height="1.3"/><rect x="266.5" y="363.7" width="1.3" height="1.3"/><rect x="266.8" y="372.8" width="1.3" height="1.3"/><rect x="265.8" y="382.4" width="1.3" height="1.3"/><rect x="264.6" y="383.7" width="1.3" height="1.3"/><rect x="265.8" y="366.0" width="1.3" height="1.3"/><rect x="266.9" y="365.9" width="1.3" height="1.3"/><rect x="266.3" y="373.5" width="1.3" height="1.3"/><rect x="265.4" y="384.1" width="1.3" height="1.3"/><rect x="267.2" y="357.1" width="1.3" height="1.3"/><rect x="265.0" y="369.4" width="1.3" height="1.3"/><rect x="265.5" y="369.5" width="1.3" height="1.3"/><rect x="266.9" y="381.7" width="1.3" height="1.3"/><rect x="267.0" y="360.0" width="1.3" height="1.3"/><rect x="266.8" y="356.9" width="1.3" height="1.3"/><rect x="266.2" y="372.1" width="1.3" height="1.3"/><rect x="266.1" y="350.6" width="1.3" height="1.3"/><rect x="265.9" y="361.7" width="1.3" height="1.3"/><rect x="265.8" y="379.9" width="1.3" height="1.3"/><rect x="266.2" y="370.4" width="1.3" height="1.3"/><rect x="266.7" y="367.9" width="1.3" height="1.3"/><rect x="266.2" y="367.3" width="1.3" height="1.3"/><rect x="267.2" y="364.8" width="1.3" height="1.3"/><rect x="266.2" y="372.5" width="1.3" height="1.3"/><rect x="266.6" y="350.7" width="1.3" height="1.3"/><rect x="265.3" y="359.4" width="1.3" height="1.3"/><rect x="265.8" y="366.0" width="1.3" height="1.3"/><rect x="266.4" y="365.7" width="1.3" height="1.3"/><rect x="265.9" y="363.2" width="1.3" height="1.3"/><rect x="267.8" y="364.2" width="1.3" height="1.3"/><rect x="265.6" y="356.9" width="1.3" height="1.3"/><rect x="265.6" y="357.8" width="1.3" height="1.3"/><rect x="265.8" y="362.8" width="1.3" height="1.3"/><rect x="266.3" y="369.5" width="1.3" height="1.3"/><rect x="266.3" y="376.0" width="1.3" height="1.3"/><rect x="266.5" y="369.1" width="1.3" height="1.3"/><rect x="266.3" y="374.3" width="1.3" height="1.3"/><rect x="267.3" y="363.2" width="1.3" height="1.3"/><rect x="266.5" y="368.0" width="1.3" height="1.3"/><rect x="266.8" y="362.2" width="1.3" height="1.3"/><rect x="265.6" y="361.5" width="1.3" height="1.3"/><rect x="266.0" y="365.2" width="1.3" height="1.3"/><rect x="266.0" y="374.8" width="1.3" height="1.3"/><rect x="266.1" y="367.2" width="1.3" height="1.3"/><rect x="265.9" y="369.5" width="1.3" height="1.3"/><rect x="265.4" y="377.7" width="1.3" height="1.3"/><rect x="265.8" y="361.7" width="1.3" height="1.3"/><rect x="266.3" y="372.8" width="1.3" height="1.3"/><rect x="266.1" y="371.0" width="1.3" height="1.3"/><rect x="265.6" y="358.2" width="1.3" height="1.3"/><rect x="265.9" y="362.3" width="1.3" height="1.3"/><rect x="266.5" y="368.9" width="1.3" height="1.3"/><rect x="266.2" y="376.3" width="1.3" height="1.3"/><rect x="265.6" y="357.8" width="1.3" height="1.3"/><rect x="266.5" y="366.5" width="1.3" height="1.3"/><rect x="266.4" y="386.7" width="1.3" height="1.3"/><rect x="267.4" y="384.7" width="1.3" height="1.3"/><rect x="267.0" y="354.6" width="1.3" height="1.3"/><rect x="267.1" y="378.0" width="1.3" height="1.3"/><rect x="266.8" y="365.7" width="1.3" height="1.3"/><rect x="266.2" y="360.7" width="1.3" height="1.3"/><rect x="267.3" y="366.1" width="1.3" height="1.3"/><rect x="266.8" y="363.5" width="1.3" height="1.3"/><rect x="265.8" y="366.6" width="1.3" height="1.3"/><rect x="266.6" y="368.4" width="1.3" height="1.3"/><rect x="266.6" y="358.2" width="1.3" height="1.3"/><rect x="265.7" y="358.2" width="1.3" height="1.3"/><rect x="266.1" y="368.2" width="1.3" height="1.3"/><rect x="265.3" y="355.3" width="1.3" height="1.3"/><rect x="266.4" y="366.1" width="1.3" height="1.3"/><rect x="266.4" y="360.9" width="1.3" height="1.3"/></g>
<path d="M40.50,314.30 C50.42,314.30 85.80,314.29 100.00,314.30 C114.20,314.31 119.62,314.22 125.70,314.35 C131.78,314.48 132.45,314.73 136.50,315.10 C140.55,315.48 145.25,315.67 150.00,316.60 C154.75,317.53 160.00,318.97 165.00,320.70 C170.00,322.43 175.83,324.80 180.00,327.00 C184.17,329.20 186.67,331.57 190.00,333.90 C193.33,336.23 196.67,338.78 200.00,341.00 C203.33,343.22 206.67,345.40 210.00,347.20 C213.33,349.00 216.67,350.42 220.00,351.80 C223.33,353.18 226.67,354.43 230.00,355.50 C233.33,356.57 236.67,357.47 240.00,358.20 C243.33,358.93 246.67,359.40 250.00,359.90 C253.33,360.40 256.67,360.83 260.00,361.20 C263.33,361.57 265.00,361.78 270.00,362.10 C275.00,362.42 281.08,362.85 290.00,363.10 C298.92,363.35 317.92,363.52 323.50,363.60" fill="none" stroke="#cc48dc" stroke-width="1.45"/>
<polyline fill="none" stroke="#1a1a1a" stroke-width="1.2" points="138.0,351.4 209.6,365.3 266.9,363.8"/>
<g stroke="#1a1a1a" stroke-width="1.2"><line x1="138.0" y1="335.4" x2="138.0" y2="367.4"/><line x1="135.4" y1="335.4" x2="140.6" y2="335.4"/><line x1="135.4" y1="367.4" x2="140.6" y2="367.4"/><line x1="209.6" y1="356.0" x2="209.6" y2="374.6"/><line x1="207.0" y1="356.0" x2="212.2" y2="356.0"/><line x1="207.0" y1="374.6" x2="212.2" y2="374.6"/><line x1="266.9" y1="356.5" x2="266.9" y2="371.0"/><line x1="264.3" y1="356.5" x2="269.5" y2="356.5"/><line x1="264.3" y1="371.0" x2="269.5" y2="371.0"/></g>
<circle cx="138.0" cy="351.4" r="1.5" fill="#000"/>
<circle cx="209.6" cy="365.3" r="1.5" fill="#000"/>
<circle cx="266.9" cy="363.8" r="1.5" fill="#000"/>
<g font-family="'Liberation Serif', serif" font-size="9.5" fill="#111"><text x="112" y="382.4">0.024<tspan dx="2.3">±</tspan><tspan dx="2.3">0.031</tspan></text><text x="181.2" y="392.7">−0.003<tspan dx="2.3">±</tspan><tspan dx="2.3">0.018</tspan></text><text x="238.3" y="403.2">−0.000<tspan dx="2.3">±</tspan><tspan dx="2.3">0.014</tspan></text></g>
<line x1="380.5" y1="363.77" x2="663.5" y2="363.77" stroke="#1a1a1a" stroke-width="1.3" stroke-dasharray="4,2.6"/>
<g fill="#ff2020" fill-opacity="0.6"><rect x="477.1" y="328.3" width="1.3" height="1.3"/><rect x="477.1" y="345.3" width="1.3" height="1.3"/><rect x="477.0" y="336.3" width="1.3" height="1.3"/><rect x="477.4" y="342.8" width="1.3" height="1.3"/><rect x="477.1" y="344.1" width="1.3" height="1.3"/><rect x="477.3" y="335.3" width="1.3" height="1.3"/><rect x="476.8" y="351.9" width="1.3" height="1.3"/><rect x="477.1" y="347.2" width="1.3" height="1.3"/><rect x="476.4" y="341.2" width="1.3" height="1.3"/><rect x="476.2" y="357.0" width="1.3" height="1.3"/><rect x="476.8" y="344.3" width="1.3" height="1.3"/><rect x="476.8" y="351.6" width="1.3" height="1.3"/><rect x="477.2" y="342.0" width="1.3" height="1.3"/><rect x="476.7" y="345.6" width="1.3" height="1.3"/><rect x="477.1" y="347.6" width="1.3" height="1.3"/><rect x="476.7" y="350.3" width="1.3" height="1.3"/><rect x="476.8" y="341.2" width="1.3" height="1.3"/><rect x="477.1" y="334.4" width="1.3" height="1.3"/><rect x="477.5" y="345.2" width="1.3" height="1.3"/><rect x="477.1" y="338.8" width="1.3" height="1.3"/><rect x="476.9" y="351.6" width="1.3" height="1.3"/><rect x="477.0" y="342.2" width="1.3" height="1.3"/><rect x="476.6" y="335.7" width="1.3" height="1.3"/><rect x="477.0" y="351.4" width="1.3" height="1.3"/><rect x="476.5" y="341.0" width="1.3" height="1.3"/><rect x="477.4" y="342.7" width="1.3" height="1.3"/><rect x="476.6" y="331.7" width="1.3" height="1.3"/><rect x="477.5" y="351.3" width="1.3" height="1.3"/><rect x="476.7" y="355.1" width="1.3" height="1.3"/><rect x="476.7" y="346.9" width="1.3" height="1.3"/><rect x="476.8" y="346.2" width="1.3" height="1.3"/><rect x="477.5" y="343.4" width="1.3" height="1.3"/><rect x="476.9" y="344.6" width="1.3" height="1.3"/><rect x="477.1" y="342.1" width="1.3" height="1.3"/><rect x="477.0" y="337.2" width="1.3" height="1.3"/><rect x="477.6" y="346.9" width="1.3" height="1.3"/><rect x="476.5" y="323.8" width="1.3" height="1.3"/><rect x="477.3" y="330.9" width="1.3" height="1.3"/><rect x="477.0" y="331.9" width="1.3" height="1.3"/><rect x="477.0" y="331.3" width="1.3" height="1.3"/><rect x="476.8" y="351.3" width="1.3" height="1.3"/><rect x="476.9" y="353.8" width="1.3" height="1.3"/><rect x="477.7" y="345.1" width="1.3" height="1.3"/><rect x="478.5" y="351.9" width="1.3" height="1.3"/><rect x="477.0" y="335.6" width="1.3" height="1.3"/><rect x="476.9" y="349.1" width="1.3" height="1.3"/><rect x="477.2" y="335.0" width="1.3" height="1.3"/><rect x="476.9" y="340.7" width="1.3" height="1.3"/><rect x="477.1" y="338.0" width="1.3" height="1.3"/><rect x="476.9" y="341.7" width="1.3" height="1.3"/><rect x="476.8" y="336.4" width="1.3" height="1.3"/><rect x="477.1" y="330.9" width="1.3" height="1.3"/><rect x="476.7" y="340.5" width="1.3" height="1.3"/><rect x="477.2" y="341.9" width="1.3" height="1.3"/><rect x="476.9" y="346.4" width="1.3" height="1.3"/><rect x="477.3" y="348.5" width="1.3" height="1.3"/><rect x="476.5" y="325.8" width="1.3" height="1.3"/><rect x="477.1" y="347.6" width="1.3" height="1.3"/><rect x="477.4" y="347.4" width="1.3" height="1.3"/><rect x="477.1" y="333.1" width="1.3" height="1.3"/><rect x="476.6" y="351.5" width="1.3" height="1.3"/><rect x="476.2" y="355.6" width="1.3" height="1.3"/><rect x="477.9" y="339.2" width="1.3" height="1.3"/><rect x="477.0" y="339.3" width="1.3" height="1.3"/><rect x="476.9" y="345.2" width="1.3" height="1.3"/><rect x="477.0" y="348.8" width="1.3" height="1.3"/><rect x="478.0" y="336.1" width="1.3" height="1.3"/><rect x="476.6" y="347.9" width="1.3" height="1.3"/><rect x="476.8" y="325.0" width="1.3" height="1.3"/><rect x="476.4" y="346.1" width="1.3" height="1.3"/><rect x="476.9" y="337.3" width="1.3" height="1.3"/><rect x="477.5" y="342.2" width="1.3" height="1.3"/><rect x="476.6" y="328.2" width="1.3" height="1.3"/><rect x="476.3" y="359.6" width="1.3" height="1.3"/><rect x="477.1" y="342.9" width="1.3" height="1.3"/><rect x="476.6" y="350.7" width="1.3" height="1.3"/><rect x="477.5" y="347.2" width="1.3" height="1.3"/><rect x="477.2" y="341.4" width="1.3" height="1.3"/><rect x="477.3" y="334.6" width="1.3" height="1.3"/><rect x="476.8" y="340.2" width="1.3" height="1.3"/><rect x="476.4" y="341.0" width="1.3" height="1.3"/><rect x="477.1" y="328.8" width="1.3" height="1.3"/><rect x="476.9" y="342.0" width="1.3" height="1.3"/><rect x="477.0" y="328.7" width="1.3" height="1.3"/><rect x="476.4" y="338.5" width="1.3" height="1.3"/><rect x="477.9" y="351.0" width="1.3" height="1.3"/><rect x="476.7" y="343.1" width="1.3" height="1.3"/><rect x="477.4" y="330.9" width="1.3" height="1.3"/><rect x="477.5" y="356.3" width="1.3" height="1.3"/><rect x="477.6" y="343.2" width="1.3" height="1.3"/><rect x="477.4" y="333.5" width="1.3" height="1.3"/><rect x="476.7" y="342.1" width="1.3" height="1.3"/><rect x="477.2" y="342.7" width="1.3" height="1.3"/><rect x="477.1" y="341.4" width="1.3" height="1.3"/><rect x="477.3" y="347.5" width="1.3" height="1.3"/><rect x="477.0" y="338.6" width="1.3" height="1.3"/><rect x="476.5" y="323.6" width="1.3" height="1.3"/><rect x="476.8" y="334.4" width="1.3" height="1.3"/><rect x="476.5" y="339.0" width="1.3" height="1.3"/><rect x="477.4" y="346.2" width="1.3" height="1.3"/><rect x="477.0" y="354.7" width="1.3" height="1.3"/><rect x="477.3" y="346.1" width="1.3" height="1.3"/><rect x="476.8" y="356.1" width="1.3" height="1.3"/><rect x="476.5" y="348.0" width="1.3" height="1.3"/><rect x="476.5" y="332.6" width="1.3" height="1.3"/><rect x="476.9" y="347.3" width="1.3" height="1.3"/><rect x="476.6" y="342.4" width="1.3" height="1.3"/><rect x="477.7" y="341.1" width="1.3" height="1.3"/><rect x="476.5" y="328.0" width="1.3" height="1.3"/><rect x="476.6" y="349.9" width="1.3" height="1.3"/><rect x="477.0" y="342.1" width="1.3" height="1.3"/><rect x="476.8" y="328.0" width="1.3" height="1.3"/><rect x="477.1" y="341.2" width="1.3" height="1.3"/><rect x="477.0" y="347.0" width="1.3" height="1.3"/><rect x="476.9" y="341.4" width="1.3" height="1.3"/><rect x="477.3" y="342.5" width="1.3" height="1.3"/><rect x="475.8" y="335.4" width="1.3" height="1.3"/><rect x="477.0" y="345.9" width="1.3" height="1.3"/><rect x="476.5" y="328.8" width="1.3" height="1.3"/><rect x="477.4" y="336.2" width="1.3" height="1.3"/><rect x="477.3" y="337.8" width="1.3" height="1.3"/><rect x="477.0" y="335.0" width="1.3" height="1.3"/><rect x="477.0" y="345.1" width="1.3" height="1.3"/><rect x="477.1" y="343.6" width="1.3" height="1.3"/><rect x="476.5" y="332.1" width="1.3" height="1.3"/><rect x="477.7" y="340.4" width="1.3" height="1.3"/><rect x="476.6" y="340.6" width="1.3" height="1.3"/><rect x="477.0" y="336.0" width="1.3" height="1.3"/><rect x="476.7" y="351.7" width="1.3" height="1.3"/><rect x="477.0" y="346.4" width="1.3" height="1.3"/><rect x="476.6" y="338.6" width="1.3" height="1.3"/><rect x="476.7" y="340.4" width="1.3" height="1.3"/><rect x="476.3" y="346.2" width="1.3" height="1.3"/><rect x="477.2" y="351.3" width="1.3" height="1.3"/><rect x="477.5" y="346.6" width="1.3" height="1.3"/><rect x="476.3" y="346.8" width="1.3" height="1.3"/><rect x="477.1" y="342.1" width="1.3" height="1.3"/><rect x="476.5" y="335.8" width="1.3" height="1.3"/><rect x="477.1" y="345.3" width="1.3" height="1.3"/><rect x="476.9" y="338.0" width="1.3" height="1.3"/><rect x="476.7" y="337.3" width="1.3" height="1.3"/><rect x="477.4" y="341.2" width="1.3" height="1.3"/><rect x="476.8" y="328.0" width="1.3" height="1.3"/><rect x="477.1" y="355.4" width="1.3" height="1.3"/><rect x="477.3" y="343.0" width="1.3" height="1.3"/><rect x="476.5" y="333.1" width="1.3" height="1.3"/><rect x="476.4" y="327.5" width="1.3" height="1.3"/><rect x="477.3" y="343.8" width="1.3" height="1.3"/><rect x="476.7" y="338.1" width="1.3" height="1.3"/><rect x="477.2" y="345.1" width="1.3" height="1.3"/><rect x="476.2" y="343.8" width="1.3" height="1.3"/><rect x="476.0" y="337.0" width="1.3" height="1.3"/><rect x="476.6" y="343.7" width="1.3" height="1.3"/><rect x="477.5" y="336.1" width="1.3" height="1.3"/><rect x="477.1" y="352.9" width="1.3" height="1.3"/><rect x="477.0" y="344.0" width="1.3" height="1.3"/><rect x="476.9" y="336.7" width="1.3" height="1.3"/><rect x="476.6" y="357.9" width="1.3" height="1.3"/><rect x="477.0" y="336.0" width="1.3" height="1.3"/><rect x="477.3" y="349.2" width="1.3" height="1.3"/><rect x="476.9" y="333.5" width="1.3" height="1.3"/><rect x="476.5" y="339.4" width="1.3" height="1.3"/><rect x="476.8" y="342.3" width="1.3" height="1.3"/><rect x="477.1" y="349.4" width="1.3" height="1.3"/><rect x="477.0" y="335.0" width="1.3" height="1.3"/><rect x="476.7" y="338.6" width="1.3" height="1.3"/><rect x="477.4" y="337.5" width="1.3" height="1.3"/><rect x="476.3" y="338.1" width="1.3" height="1.3"/><rect x="477.3" y="335.1" width="1.3" height="1.3"/><rect x="476.5" y="359.9" width="1.3" height="1.3"/></g>
<g fill="#ff2020" fill-opacity="0.6"><rect x="548.0" y="361.1" width="1.3" height="1.3"/><rect x="548.3" y="356.5" width="1.3" height="1.3"/><rect x="548.3" y="362.4" width="1.3" height="1.3"/><rect x="548.0" y="355.6" width="1.3" height="1.3"/><rect x="548.3" y="356.5" width="1.3" height="1.3"/><rect x="548.3" y="362.1" width="1.3" height="1.3"/><rect x="547.5" y="362.7" width="1.3" height="1.3"/><rect x="548.2" y="360.9" width="1.3" height="1.3"/><rect x="548.3" y="361.1" width="1.3" height="1.3"/><rect x="548.1" y="364.1" width="1.3" height="1.3"/><rect x="548.8" y="360.8" width="1.3" height="1.3"/><rect x="548.3" y="364.1" width="1.3" height="1.3"/><rect x="548.3" y="365.1" width="1.3" height="1.3"/><rect x="548.0" y="354.3" width="1.3" height="1.3"/><rect x="548.4" y="364.0" width="1.3" height="1.3"/><rect x="547.7" y="363.1" width="1.3" height="1.3"/><rect x="548.3" y="361.4" width="1.3" height="1.3"/><rect x="549.2" y="363.2" width="1.3" height="1.3"/><rect x="548.4" y="365.3" width="1.3" height="1.3"/><rect x="547.3" y="362.1" width="1.3" height="1.3"/><rect x="547.9" y="366.9" width="1.3" height="1.3"/><rect x="548.0" y="368.6" width="1.3" height="1.3"/><rect x="548.6" y="361.4" width="1.3" height="1.3"/><rect x="547.5" y="361.1" width="1.3" height="1.3"/><rect x="548.3" y="364.7" width="1.3" height="1.3"/><rect x="548.1" y="364.7" width="1.3" height="1.3"/><rect x="547.8" y="364.2" width="1.3" height="1.3"/><rect x="548.5" y="362.7" width="1.3" height="1.3"/><rect x="548.4" y="356.0" width="1.3" height="1.3"/><rect x="547.9" y="365.1" width="1.3" height="1.3"/><rect x="548.7" y="366.1" width="1.3" height="1.3"/><rect x="548.4" y="361.1" width="1.3" height="1.3"/><rect x="548.5" y="355.3" width="1.3" height="1.3"/><rect x="547.8" y="366.5" width="1.3" height="1.3"/><rect x="548.2" y="370.3" width="1.3" height="1.3"/><rect x="547.6" y="355.0" width="1.3" height="1.3"/><rect x="548.0" y="366.5" width="1.3" height="1.3"/><rect x="547.5" y="367.5" width="1.3" height="1.3"/><rect x="548.5" y="362.2" width="1.3" height="1.3"/><rect x="548.4" y="359.7" width="1.3" height="1.3"/><rect x="548.3" y="361.1" width="1.3" height="1.3"/><rect x="549.0" y="364.1" width="1.3" height="1.3"/><rect x="548.5" y="357.2" width="1.3" height="1.3"/><rect x="547.7" y="368.4" width="1.3" height="1.3"/><rect x="549.0" y="363.0" width="1.3" height="1.3"/><rect x="547.0" y="367.3" width="1.3" height="1.3"/><rect x="547.5" y="361.6" width="1.3" height="1.3"/><rect x="547.9" y="364.0" width="1.3" height="1.3"/><rect x="547.8" y="360.2" width="1.3" height="1.3"/><rect x="548.0" y="363.9" width="1.3" height="1.3"/><rect x="548.1" y="358.7" width="1.3" height="1.3"/><rect x="547.8" y="364.4" width="1.3" height="1.3"/><rect x="547.5" y="367.5" width="1.3" height="1.3"/><rect x="548.0" y="364.4" width="1.3" height="1.3"/><rect x="547.9" y="369.6" width="1.3" height="1.3"/><rect x="547.6" y="359.7" width="1.3" height="1.3"/><rect x="548.4" y="371.4" width="1.3" height="1.3"/><rect x="548.0" y="357.9" width="1.3" height="1.3"/><rect x="548.7" y="358.4" width="1.3" height="1.3"/><rect x="547.4" y="364.5" width="1.3" height="1.3"/><rect x="548.5" y="363.6" width="1.3" height="1.3"/><rect x="548.3" y="362.7" width="1.3" height="1.3"/><rect x="548.2" y="362.2" width="1.3" height="1.3"/><rect x="547.9" y="363.6" width="1.3" height="1.3"/><rect x="548.2" y="364.2" width="1.3" height="1.3"/><rect x="547.9" y="362.5" width="1.3" height="1.3"/><rect x="548.2" y="358.2" width="1.3" height="1.3"/><rect x="547.2" y="366.3" width="1.3" height="1.3"/><rect x="548.7" y="360.3" width="1.3" height="1.3"/><rect x="547.9" y="366.7" width="1.3" height="1.3"/><rect x="547.8" y="368.6" width="1.3" height="1.3"/><rect x="548.9" y="359.2" width="1.3" height="1.3"/><rect x="548.1" y="360.7" width="1.3" height="1.3"/><rect x="547.8" y="355.4" width="1.3" height="1.3"/><rect x="548.1" y="357.5" width="1.3" height="1.3"/><rect x="548.6" y="354.6" width="1.3" height="1.3"/><rect x="547.9" y="361.1" width="1.3" height="1.3"/><rect x="548.4" y="359.9" width="1.3" height="1.3"/><rect x="548.0" y="369.4" width="1.3" height="1.3"/><rect x="548.8" y="369.7" width="1.3" height="1.3"/><rect x="548.3" y="368.6" width="1.3" height="1.3"/><rect x="548.4" y="356.1" width="1.3" height="1.3"/><rect x="548.2" y="360.9" width="1.3" height="1.3"/><rect x="548.0" y="354.4" width="1.3" height="1.3"/><rect x="547.8" y="363.7" width="1.3" height="1.3"/><rect x="548.8" y="363.9" width="1.3" height="1.3"/><rect x="547.9" y="363.7" width="1.3" height="1.3"/><rect x="547.3" y="361.4" width="1.3" height="1.3"/><rect x="548.6" y="357.4" width="1.3" height="1.3"/><rect x="548.0" y="365.4" width="1.3" height="1.3"/></g>
<g fill="#ff2020" fill-opacity="0.6"><rect x="604.0" y="361.5" width="1.3" height="1.3"/><rect x="603.4" y="362.4" width="1.3" height="1.3"/><rect x="603.5" y="358.3" width="1.3" height="1.3"/><rect x="603.5" y="361.6" width="1.3" height="1.3"/><rect x="603.2" y="363.6" width="1.3" height="1.3"/><rect x="603.4" y="363.3" width="1.3" height="1.3"/><rect x="603.4" y="366.8" width="1.3" height="1.3"/><rect x="602.8" y="363.1" width="1.3" height="1.3"/><rect x="604.3" y="357.0" width="1.3" height="1.3"/><rect x="603.7" y="362.9" width="1.3" height="1.3"/><rect x="603.6" y="369.1" width="1.3" height="1.3"/><rect x="603.5" y="367.1" width="1.3" height="1.3"/><rect x="603.4" y="367.2" width="1.3" height="1.3"/><rect x="604.1" y="366.0" width="1.3" height="1.3"/><rect x="603.3" y="364.0" width="1.3" height="1.3"/><rect x="603.5" y="360.3" width="1.3" height="1.3"/><rect x="604.1" y="362.0" width="1.3" height="1.3"/><rect x="603.6" y="358.3" width="1.3" height="1.3"/><rect x="603.7" y="363.0" width="1.3" height="1.3"/><rect x="604.2" y="359.4" width="1.3" height="1.3"/><rect x="603.4" y="362.6" width="1.3" height="1.3"/><rect x="604.1" y="362.5" width="1.3" height="1.3"/><rect x="604.1" y="365.0" width="1.3" height="1.3"/><rect x="603.5" y="364.8" width="1.3" height="1.3"/><rect x="603.3" y="357.4" width="1.3" height="1.3"/><rect x="603.0" y="362.6" width="1.3" height="1.3"/><rect x="603.3" y="361.9" width="1.3" height="1.3"/><rect x="602.9" y="367.3" width="1.3" height="1.3"/><rect x="604.0" y="361.7" width="1.3" height="1.3"/><rect x="603.7" y="363.9" width="1.3" height="1.3"/><rect x="603.1" y="364.3" width="1.3" height="1.3"/><rect x="604.0" y="365.3" width="1.3" height="1.3"/><rect x="602.6" y="360.0" width="1.3" height="1.3"/><rect x="603.4" y="363.0" width="1.3" height="1.3"/><rect x="603.9" y="363.4" width="1.3" height="1.3"/><rect x="603.9" y="358.1" width="1.3" height="1.3"/><rect x="603.9" y="361.9" width="1.3" height="1.3"/><rect x="603.8" y="363.0" width="1.3" height="1.3"/><rect x="604.0" y="363.8" width="1.3" height="1.3"/><rect x="603.6" y="360.2" width="1.3" height="1.3"/><rect x="603.7" y="358.5" width="1.3" height="1.3"/><rect x="603.6" y="367.0" width="1.3" height="1.3"/><rect x="603.5" y="366.7" width="1.3" height="1.3"/><rect x="604.2" y="364.3" width="1.3" height="1.3"/><rect x="603.8" y="364.1" width="1.3" height="1.3"/><rect x="603.9" y="368.0" width="1.3" height="1.3"/><rect x="603.6" y="366.5" width="1.3" height="1.3"/><rect x="604.0" y="360.2" width="1.3" height="1.3"/><rect x="604.1" y="359.1" width="1.3" height="1.3"/><rect x="603.8" y="360.9" width="1.3" height="1.3"/><rect x="603.3" y="366.0" width="1.3" height="1.3"/><rect x="603.7" y="370.2" width="1.3" height="1.3"/><rect x="603.3" y="362.2" width="1.3" height="1.3"/><rect x="603.0" y="356.7" width="1.3" height="1.3"/><rect x="603.9" y="359.3" width="1.3" height="1.3"/><rect x="604.1" y="361.2" width="1.3" height="1.3"/><rect x="603.1" y="359.4" width="1.3" height="1.3"/><rect x="603.6" y="364.7" width="1.3" height="1.3"/><rect x="604.2" y="357.6" width="1.3" height="1.3"/><rect x="603.1" y="364.0" width="1.3" height="1.3"/><rect x="603.3" y="361.1" width="1.3" height="1.3"/><rect x="603.5" y="367.2" width="1.3" height="1.3"/><rect x="603.8" y="360.6" width="1.3" height="1.3"/><rect x="604.2" y="368.8" width="1.3" height="1.3"/><rect x="603.6" y="362.9" width="1.3" height="1.3"/><rect x="604.1" y="360.7" width="1.3" height="1.3"/><rect x="603.7" y="359.0" width="1.3" height="1.3"/><rect x="603.4" y="365.5" width="1.3" height="1.3"/><rect x="603.5" y="364.9" width="1.3" height="1.3"/><rect x="603.7" y="359.2" width="1.3" height="1.3"/><rect x="604.0" y="358.6" width="1.3" height="1.3"/><rect x="603.3" y="363.3" width="1.3" height="1.3"/><rect x="603.9" y="360.0" width="1.3" height="1.3"/><rect x="604.3" y="357.1" width="1.3" height="1.3"/><rect x="603.6" y="359.6" width="1.3" height="1.3"/><rect x="604.3" y="359.1" width="1.3" height="1.3"/><rect x="604.2" y="365.8" width="1.3" height="1.3"/><rect x="603.7" y="365.2" width="1.3" height="1.3"/><rect x="603.9" y="369.1" width="1.3" height="1.3"/><rect x="603.9" y="364.3" width="1.3" height="1.3"/><rect x="603.8" y="365.5" width="1.3" height="1.3"/><rect x="603.0" y="362.0" width="1.3" height="1.3"/><rect x="603.1" y="370.6" width="1.3" height="1.3"/><rect x="603.4" y="356.0" width="1.3" height="1.3"/><rect x="603.5" y="366.3" width="1.3" height="1.3"/><rect x="604.3" y="364.9" width="1.3" height="1.3"/><rect x="603.3" y="365.1" width="1.3" height="1.3"/><rect x="604.1" y="369.2" width="1.3" height="1.3"/><rect x="603.1" y="362.8" width="1.3" height="1.3"/><rect x="603.6" y="363.7" width="1.3" height="1.3"/></g>
<path d="M380.50,314.30 C390.42,314.30 425.80,314.29 440.00,314.30 C454.20,314.31 459.62,314.22 465.70,314.35 C471.78,314.48 472.45,314.73 476.50,315.10 C480.55,315.48 485.25,315.67 490.00,316.60 C494.75,317.53 500.00,318.97 505.00,320.70 C510.00,322.43 515.83,324.80 520.00,327.00 C524.17,329.20 526.67,331.57 530.00,333.90 C533.33,336.23 536.67,338.78 540.00,341.00 C543.33,343.22 546.67,345.40 550.00,347.20 C553.33,349.00 556.67,350.42 560.00,351.80 C563.33,353.18 566.67,354.43 570.00,355.50 C573.33,356.57 576.67,357.47 580.00,358.20 C583.33,358.93 586.67,359.40 590.00,359.90 C593.33,360.40 596.67,360.83 600.00,361.20 C603.33,361.57 605.00,361.78 610.00,362.10 C615.00,362.42 621.08,362.85 630.00,363.10 C638.92,363.35 657.92,363.52 663.50,363.60" fill="none" stroke="#cc48dc" stroke-width="1.45"/>
<polyline fill="none" stroke="#1a1a1a" stroke-width="1.2" points="477.6,343.1 548.8,364.3 604.3,363.3"/>
<g stroke="#1a1a1a" stroke-width="1.2"><line x1="477.6" y1="336.4" x2="477.6" y2="349.8"/><line x1="475.0" y1="336.4" x2="480.2" y2="336.4"/><line x1="475.0" y1="349.8" x2="480.2" y2="349.8"/><line x1="548.8" y1="360.7" x2="548.8" y2="367.9"/><line x1="546.2" y1="360.7" x2="551.4" y2="360.7"/><line x1="546.2" y1="367.9" x2="551.4" y2="367.9"/><line x1="604.3" y1="360.2" x2="604.3" y2="366.3"/><line x1="601.7" y1="360.2" x2="606.9" y2="360.2"/><line x1="601.7" y1="366.3" x2="606.9" y2="366.3"/></g>
<circle cx="477.6" cy="343.1" r="1.5" fill="#000"/>
<circle cx="548.8" cy="364.3" r="1.5" fill="#000"/>
<circle cx="604.3" cy="363.3" r="1.5" fill="#000"/>
<g font-family="'Liberation Serif', serif" font-size="9.5" fill="#111"><text x="451.4" y="382.3">0.040<tspan dx="2.3">±</tspan><tspan dx="2.3">0.013</tspan></text><text x="519.6" y="393.0">−0.001<tspan dx="2.3">±</tspan><tspan dx="2.3">0.007</tspan></text><text x="578.3" y="403.1">0.001<tspan dx="2.3">±</tspan><tspan dx="2.3">0.006</tspan></text></g>
<path d="M40.0,20.5 H324.0 M40.5,20.5 V236.0 M323.5,20.5 V236.0" fill="none" stroke="#888888" stroke-width="1"/>
<line x1="40.0" y1="236.0" x2="324.0" y2="236.0" stroke="#b2b2b2" stroke-width="2"/>
<g stroke="#222" stroke-width="1.3"><line x1="68.80" y1="234.5" x2="68.80" y2="236.5"/><line x1="68.80" y1="19.5" x2="68.80" y2="21.5"/><line x1="97.10" y1="234.5" x2="97.10" y2="236.5"/><line x1="97.10" y1="19.5" x2="97.10" y2="21.5"/><line x1="125.40" y1="234.5" x2="125.40" y2="236.5"/><line x1="125.40" y1="19.5" x2="125.40" y2="21.5"/><line x1="153.70" y1="234.5" x2="153.70" y2="236.5"/><line x1="153.70" y1="19.5" x2="153.70" y2="21.5"/><line x1="182.00" y1="234.5" x2="182.00" y2="236.5"/><line x1="182.00" y1="19.5" x2="182.00" y2="21.5"/><line x1="210.30" y1="234.5" x2="210.30" y2="236.5"/><line x1="210.30" y1="19.5" x2="210.30" y2="21.5"/><line x1="238.60" y1="234.5" x2="238.60" y2="236.5"/><line x1="238.60" y1="19.5" x2="238.60" y2="21.5"/><line x1="266.90" y1="234.5" x2="266.90" y2="236.5"/><line x1="266.90" y1="19.5" x2="266.90" y2="21.5"/><line x1="295.20" y1="234.5" x2="295.20" y2="236.5"/><line x1="295.20" y1="19.5" x2="295.20" y2="21.5"/><line x1="39.5" y1="40.25" x2="41.5" y2="40.25"/><line x1="322.5" y1="40.25" x2="324.5" y2="40.25"/><line x1="39.5" y1="59.79" x2="41.5" y2="59.79"/><line x1="322.5" y1="59.79" x2="324.5" y2="59.79"/><line x1="39.5" y1="79.34" x2="41.5" y2="79.34"/><line x1="322.5" y1="79.34" x2="324.5" y2="79.34"/><line x1="39.5" y1="98.88" x2="41.5" y2="98.88"/><line x1="322.5" y1="98.88" x2="324.5" y2="98.88"/><line x1="39.5" y1="118.43" x2="41.5" y2="118.43"/><line x1="322.5" y1="118.43" x2="324.5" y2="118.43"/><line x1="39.5" y1="137.97" x2="41.5" y2="137.97"/><line x1="322.5" y1="137.97" x2="324.5" y2="137.97"/><line x1="39.5" y1="157.52" x2="41.5" y2="157.52"/><line x1="322.5" y1="157.52" x2="324.5" y2="157.52"/><line x1="39.5" y1="177.06" x2="41.5" y2="177.06"/><line x1="322.5" y1="177.06" x2="324.5" y2="177.06"/><line x1="39.5" y1="196.61" x2="41.5" y2="196.61"/><line x1="322.5" y1="196.61" x2="324.5" y2="196.61"/><line x1="39.5" y1="216.15" x2="41.5" y2="216.15"/><line x1="322.5" y1="216.15" x2="324.5" y2="216.15"/><line x1="39.5" y1="235.70" x2="41.5" y2="235.70"/><line x1="322.5" y1="235.70" x2="324.5" y2="235.70"/></g>
<g class="tl" font-family="'Liberation Serif', serif" font-size="9" fill="#111"><text transform="translate(68.80,243.7)" text-anchor="middle">−11.5</text><text transform="translate(97.10,243.7)" text-anchor="middle">−11.0</text><text transform="translate(125.40,243.7)" text-anchor="middle">−10.5</text><text transform="translate(153.70,243.7)" text-anchor="middle">−10.0</text><text transform="translate(182.00,243.7)" text-anchor="middle">−9.5</text><text transform="translate(210.30,243.7)" text-anchor="middle">−9.0</text><text transform="translate(238.60,243.7)" text-anchor="middle">−8.5</text><text transform="translate(266.90,243.7)" text-anchor="middle">−8.0</text><text transform="translate(295.20,243.7)" text-anchor="middle">−7.5</text><text transform="translate(38.70,43.85) scale(1,1.1)" text-anchor="end">0.00</text><text transform="translate(38.70,63.39) scale(1,1.1)" text-anchor="end">−0.05</text><text transform="translate(38.70,82.94) scale(1,1.1)" text-anchor="end">−0.10</text><text transform="translate(38.70,102.48) scale(1,1.1)" text-anchor="end">−0.15</text><text transform="translate(38.70,122.03) scale(1,1.1)" text-anchor="end">−0.20</text><text transform="translate(38.70,141.57) scale(1,1.1)" text-anchor="end">−0.25</text><text transform="translate(38.70,161.12) scale(1,1.1)" text-anchor="end">−0.30</text><text transform="translate(38.70,180.66) scale(1,1.1)" text-anchor="end">−0.35</text><text transform="translate(38.70,200.21) scale(1,1.1)" text-anchor="end">−0.40</text><text transform="translate(38.70,219.75) scale(1,1.1)" text-anchor="end">−0.45</text><text transform="translate(38.70,239.30) scale(1,1.1)" text-anchor="end">−0.50</text></g>
<path d="M380.0,20.5 H664.0 M380.5,20.5 V236.0 M663.5,20.5 V236.0" fill="none" stroke="#888888" stroke-width="1"/>
<line x1="380.0" y1="236.0" x2="664.0" y2="236.0" stroke="#b2b2b2" stroke-width="2"/>
<g stroke="#222" stroke-width="1.3"><line x1="408.80" y1="234.5" x2="408.80" y2="236.5"/><line x1="408.80" y1="19.5" x2="408.80" y2="21.5"/><line x1="437.10" y1="234.5" x2="437.10" y2="236.5"/><line x1="437.10" y1="19.5" x2="437.10" y2="21.5"/><line x1="465.40" y1="234.5" x2="465.40" y2="236.5"/><line x1="465.40" y1="19.5" x2="465.40" y2="21.5"/><line x1="493.70" y1="234.5" x2="493.70" y2="236.5"/><line x1="493.70" y1="19.5" x2="493.70" y2="21.5"/><line x1="522.00" y1="234.5" x2="522.00" y2="236.5"/><line x1="522.00" y1="19.5" x2="522.00" y2="21.5"/><line x1="550.30" y1="234.5" x2="550.30" y2="236.5"/><line x1="550.30" y1="19.5" x2="550.30" y2="21.5"/><line x1="578.60" y1="234.5" x2="578.60" y2="236.5"/><line x1="578.60" y1="19.5" x2="578.60" y2="21.5"/><line x1="606.90" y1="234.5" x2="606.90" y2="236.5"/><line x1="606.90" y1="19.5" x2="606.90" y2="21.5"/><line x1="635.20" y1="234.5" x2="635.20" y2="236.5"/><line x1="635.20" y1="19.5" x2="635.20" y2="21.5"/><line x1="379.5" y1="42.12" x2="381.5" y2="42.12"/><line x1="662.5" y1="42.12" x2="664.5" y2="42.12"/><line x1="379.5" y1="63.64" x2="381.5" y2="63.64"/><line x1="662.5" y1="63.64" x2="664.5" y2="63.64"/><line x1="379.5" y1="85.16" x2="381.5" y2="85.16"/><line x1="662.5" y1="85.16" x2="664.5" y2="85.16"/><line x1="379.5" y1="106.68" x2="381.5" y2="106.68"/><line x1="662.5" y1="106.68" x2="664.5" y2="106.68"/><line x1="379.5" y1="128.20" x2="381.5" y2="128.20"/><line x1="662.5" y1="128.20" x2="664.5" y2="128.20"/><line x1="379.5" y1="149.72" x2="381.5" y2="149.72"/><line x1="662.5" y1="149.72" x2="664.5" y2="149.72"/><line x1="379.5" y1="171.24" x2="381.5" y2="171.24"/><line x1="662.5" y1="171.24" x2="664.5" y2="171.24"/><line x1="379.5" y1="192.76" x2="381.5" y2="192.76"/><line x1="662.5" y1="192.76" x2="664.5" y2="192.76"/><line x1="379.5" y1="214.28" x2="381.5" y2="214.28"/><line x1="662.5" y1="214.28" x2="664.5" y2="214.28"/><line x1="379.5" y1="235.80" x2="381.5" y2="235.80"/><line x1="662.5" y1="235.80" x2="664.5" y2="235.80"/></g>
<g class="tl" font-family="'Liberation Serif', serif" font-size="9" fill="#111"><text transform="translate(408.80,243.7)" text-anchor="middle">−11.5</text><text transform="translate(437.10,243.7)" text-anchor="middle">−11.0</text><text transform="translate(465.40,243.7)" text-anchor="middle">−10.5</text><text transform="translate(493.70,243.7)" text-anchor="middle">−10.0</text><text transform="translate(522.00,243.7)" text-anchor="middle">−9.5</text><text transform="translate(550.30,243.7)" text-anchor="middle">−9.0</text><text transform="translate(578.60,243.7)" text-anchor="middle">−8.5</text><text transform="translate(606.90,243.7)" text-anchor="middle">−8.0</text><text transform="translate(635.20,243.7)" text-anchor="middle">−7.5</text><text transform="translate(378.70,45.72) scale(1,1.1)" text-anchor="end">0.00</text><text transform="translate(378.70,67.24) scale(1,1.1)" text-anchor="end">−0.05</text><text transform="translate(378.70,88.76) scale(1,1.1)" text-anchor="end">−0.10</text><text transform="translate(378.70,110.28) scale(1,1.1)" text-anchor="end">−0.15</text><text transform="translate(378.70,131.80) scale(1,1.1)" text-anchor="end">−0.20</text><text transform="translate(378.70,153.32) scale(1,1.1)" text-anchor="end">−0.25</text><text transform="translate(378.70,174.84) scale(1,1.1)" text-anchor="end">−0.30</text><text transform="translate(378.70,196.36) scale(1,1.1)" text-anchor="end">−0.35</text><text transform="translate(378.70,217.88) scale(1,1.1)" text-anchor="end">−0.40</text><text transform="translate(378.70,239.40) scale(1,1.1)" text-anchor="end">−0.45</text></g>
<path d="M40.0,260.5 H324.0 M40.5,260.5 V416.0 M323.5,260.5 V416.0" fill="none" stroke="#888888" stroke-width="1"/>
<line x1="40.0" y1="415.5" x2="324.0" y2="415.5" stroke="#888888" stroke-width="1"/>
<g stroke="#222" stroke-width="1.3"><line x1="68.80" y1="414.5" x2="68.80" y2="416.5"/><line x1="68.80" y1="259.5" x2="68.80" y2="261.5"/><line x1="97.10" y1="414.5" x2="97.10" y2="416.5"/><line x1="97.10" y1="259.5" x2="97.10" y2="261.5"/><line x1="125.40" y1="414.5" x2="125.40" y2="416.5"/><line x1="125.40" y1="259.5" x2="125.40" y2="261.5"/><line x1="153.70" y1="414.5" x2="153.70" y2="416.5"/><line x1="153.70" y1="259.5" x2="153.70" y2="261.5"/><line x1="182.00" y1="414.5" x2="182.00" y2="416.5"/><line x1="182.00" y1="259.5" x2="182.00" y2="261.5"/><line x1="210.30" y1="414.5" x2="210.30" y2="416.5"/><line x1="210.30" y1="259.5" x2="210.30" y2="261.5"/><line x1="238.60" y1="414.5" x2="238.60" y2="416.5"/><line x1="238.60" y1="259.5" x2="238.60" y2="261.5"/><line x1="266.90" y1="414.5" x2="266.90" y2="416.5"/><line x1="266.90" y1="259.5" x2="266.90" y2="261.5"/><line x1="295.20" y1="414.5" x2="295.20" y2="416.5"/><line x1="295.20" y1="259.5" x2="295.20" y2="261.5"/><line x1="39.5" y1="260.50" x2="41.5" y2="260.50"/><line x1="322.5" y1="260.50" x2="324.5" y2="260.50"/><line x1="39.5" y1="286.32" x2="41.5" y2="286.32"/><line x1="322.5" y1="286.32" x2="324.5" y2="286.32"/><line x1="39.5" y1="312.13" x2="41.5" y2="312.13"/><line x1="322.5" y1="312.13" x2="324.5" y2="312.13"/><line x1="39.5" y1="337.95" x2="41.5" y2="337.95"/><line x1="322.5" y1="337.95" x2="324.5" y2="337.95"/><line x1="39.5" y1="363.77" x2="41.5" y2="363.77"/><line x1="322.5" y1="363.77" x2="324.5" y2="363.77"/><line x1="39.5" y1="389.58" x2="41.5" y2="389.58"/><line x1="322.5" y1="389.58" x2="324.5" y2="389.58"/><line x1="39.5" y1="415.40" x2="41.5" y2="415.40"/><line x1="322.5" y1="415.40" x2="324.5" y2="415.40"/></g>
<g class="tl" font-family="'Liberation Serif', serif" font-size="9" fill="#111"><text transform="translate(68.80,423.6)" text-anchor="middle">−11.5</text><text transform="translate(97.10,423.6)" text-anchor="middle">−11.0</text><text transform="translate(125.40,423.6)" text-anchor="middle">−10.5</text><text transform="translate(153.70,423.6)" text-anchor="middle">−10.0</text><text transform="translate(182.00,423.6)" text-anchor="middle">−9.5</text><text transform="translate(210.30,423.6)" text-anchor="middle">−9.0</text><text transform="translate(238.60,423.6)" text-anchor="middle">−8.5</text><text transform="translate(266.90,423.6)" text-anchor="middle">−8.0</text><text transform="translate(295.20,423.6)" text-anchor="middle">−7.5</text><text transform="translate(38.70,264.10) scale(1,1.1)" text-anchor="end">0.20</text><text transform="translate(38.70,289.92) scale(1,1.1)" text-anchor="end">0.15</text><text transform="translate(38.70,315.73) scale(1,1.1)" text-anchor="end">0.10</text><text transform="translate(38.70,341.55) scale(1,1.1)" text-anchor="end">0.05</text><text transform="translate(38.70,367.37) scale(1,1.1)" text-anchor="end">0.00</text><text transform="translate(38.70,393.18) scale(1,1.1)" text-anchor="end">−0.05</text><text transform="translate(38.70,419.00) scale(1,1.1)" text-anchor="end">−0.10</text></g>
<path d="M380.0,260.5 H664.0 M380.5,260.5 V416.0 M663.5,260.5 V416.0" fill="none" stroke="#888888" stroke-width="1"/>
<line x1="380.0" y1="415.5" x2="664.0" y2="415.5" stroke="#888888" stroke-width="1"/>
<g stroke="#222" stroke-width="1.3"><line x1="408.80" y1="414.5" x2="408.80" y2="416.5"/><line x1="408.80" y1="259.5" x2="408.80" y2="261.5"/><line x1="437.10" y1="414.5" x2="437.10" y2="416.5"/><line x1="437.10" y1="259.5" x2="437.10" y2="261.5"/><line x1="465.40" y1="414.5" x2="465.40" y2="416.5"/><line x1="465.40" y1="259.5" x2="465.40" y2="261.5"/><line x1="493.70" y1="414.5" x2="493.70" y2="416.5"/><line x1="493.70" y1="259.5" x2="493.70" y2="261.5"/><line x1="522.00" y1="414.5" x2="522.00" y2="416.5"/><line x1="522.00" y1="259.5" x2="522.00" y2="261.5"/><line x1="550.30" y1="414.5" x2="550.30" y2="416.5"/><line x1="550.30" y1="259.5" x2="550.30" y2="261.5"/><line x1="578.60" y1="414.5" x2="578.60" y2="416.5"/><line x1="578.60" y1="259.5" x2="578.60" y2="261.5"/><line x1="606.90" y1="414.5" x2="606.90" y2="416.5"/><line x1="606.90" y1="259.5" x2="606.90" y2="261.5"/><line x1="635.20" y1="414.5" x2="635.20" y2="416.5"/><line x1="635.20" y1="259.5" x2="635.20" y2="261.5"/><line x1="379.5" y1="260.50" x2="381.5" y2="260.50"/><line x1="662.5" y1="260.50" x2="664.5" y2="260.50"/><line x1="379.5" y1="286.32" x2="381.5" y2="286.32"/><line x1="662.5" y1="286.32" x2="664.5" y2="286.32"/><line x1="379.5" y1="312.13" x2="381.5" y2="312.13"/><line x1="662.5" y1="312.13" x2="664.5" y2="312.13"/><line x1="379.5" y1="337.95" x2="381.5" y2="337.95"/><line x1="662.5" y1="337.95" x2="664.5" y2="337.95"/><line x1="379.5" y1="363.77" x2="381.5" y2="363.77"/><line x1="662.5" y1="363.77" x2="664.5" y2="363.77"/><line x1="379.5" y1="389.58" x2="381.5" y2="389.58"/><line x1="662.5" y1="389.58" x2="664.5" y2="389.58"/><line x1="379.5" y1="415.40" x2="381.5" y2="415.40"/><line x1="662.5" y1="415.40" x2="664.5" y2="415.40"/></g>
<g class="tl" font-family="'Liberation Serif', serif" font-size="9" fill="#111"><text transform="translate(408.80,423.6)" text-anchor="middle">−11.5</text><text transform="translate(437.10,423.6)" text-anchor="middle">−11.0</text><text transform="translate(465.40,423.6)" text-anchor="middle">−10.5</text><text transform="translate(493.70,423.6)" text-anchor="middle">−10.0</text><text transform="translate(522.00,423.6)" text-anchor="middle">−9.5</text><text transform="translate(550.30,423.6)" text-anchor="middle">−9.0</text><text transform="translate(578.60,423.6)" text-anchor="middle">−8.5</text><text transform="translate(606.90,423.6)" text-anchor="middle">−8.0</text><text transform="translate(635.20,423.6)" text-anchor="middle">−7.5</text><text transform="translate(378.70,264.10) scale(1,1.1)" text-anchor="end">0.20</text><text transform="translate(378.70,289.92) scale(1,1.1)" text-anchor="end">0.15</text><text transform="translate(378.70,315.73) scale(1,1.1)" text-anchor="end">0.10</text><text transform="translate(378.70,341.55) scale(1,1.1)" text-anchor="end">0.05</text><text transform="translate(378.70,367.37) scale(1,1.1)" text-anchor="end">0.00</text><text transform="translate(378.70,393.18) scale(1,1.1)" text-anchor="end">−0.05</text><text transform="translate(378.70,419.00) scale(1,1.1)" text-anchor="end">−0.10</text></g>
<text transform="translate(12.8,128.4) rotate(-90)" text-anchor="middle" font-family="'Liberation Serif', serif" font-size="16" fill="#000" style="stroke:#000;stroke-width:0.3px">⟨Δ<tspan font-size="10" dy="2">⊥</tspan><tspan dy="-2" dx="1.3">⟩</tspan></text>
<text class="nostroke" transform="translate(11.6,339.5) rotate(-90)" text-anchor="middle" font-family="'Liberation Serif', serif" fill="#000"><tspan font-style="italic" font-size="15.5">δ</tspan><tspan font-size="12" dy="2.8">obs<tspan dx="2.2">−</tspan><tspan dx="2.2">newt</tspan></tspan></text>
<text x="182.6" y="438.3" text-anchor="middle" font-family="'Liberation Serif', serif" fill="#000"><tspan font-style="italic" font-size="14.5">x</tspan><tspan font-size="11" dy="1.5" dx="0.3">0</tspan></text>
<text x="522.4" y="438.3" text-anchor="middle" font-family="'Liberation Serif', serif" fill="#000"><tspan font-style="italic" font-size="14.5">x</tspan><tspan font-size="11" dy="1.5" dx="0.3">0</tspan></text></svg>
</body></html>
